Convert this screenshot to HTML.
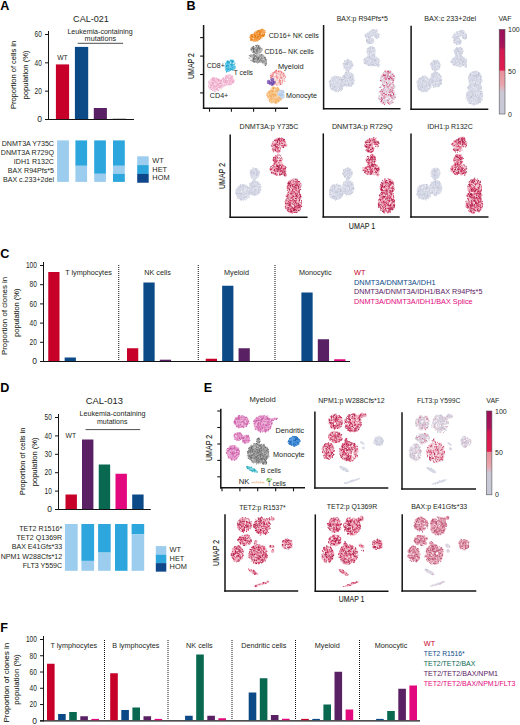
<!DOCTYPE html>
<html><head><meta charset="utf-8"><style>
html,body{margin:0;padding:0;background:#fff;}
svg{display:block;}
text{font-family:"Liberation Sans", sans-serif;}
</style></head><body>
<svg width="520" height="725" viewBox="0 0 520 725">
<defs><linearGradient id="vafg" x1="0" y1="0" x2="0" y2="1">
<stop offset="0" stop-color="#9a0f58"/><stop offset="0.2" stop-color="#a8145a"/><stop offset="0.25" stop-color="#d41852"/>
<stop offset="0.48" stop-color="#e01c4e"/><stop offset="0.495" stop-color="#e8909c"/><stop offset="0.66" stop-color="#e8a6ae"/>
<stop offset="0.74" stop-color="#ccc8d6"/><stop offset="1" stop-color="#c6c9d8"/></linearGradient></defs>
<rect width="520" height="725" fill="#fff"/>
<ellipse cx="371.10" cy="33.70" rx="6.88" ry="3.16" fill="#d9dce8" transform="rotate(-28 371.10 33.70)"/>
<ellipse cx="376.90" cy="35.70" rx="2.60" ry="2.98" fill="#d9dce8"/>
<ellipse cx="370.10" cy="40.90" rx="4.09" ry="3.16" fill="#d9dce8"/>
<ellipse cx="369.10" cy="37.90" rx="2.42" ry="2.42" fill="#d9dce8"/>
<path d="M377.2 32.0h0M373.0 29.5h0M365.8 34.6h0M372.9 29.7h0M372.8 33.1h0M375.5 30.0h0M370.5 43.1h0M373.2 40.3h0M367.6 36.3h0M376.9 30.8h0M376.8 36.9h0M366.8 37.5h0M369.8 39.2h0M376.2 35.5h0M369.1 37.9h0M367.1 40.9h0M375.2 36.9h0M372.5 36.2h0M371.9 29.9h0M373.7 41.4h0M365.4 35.9h0M370.4 41.3h0M379.3 34.3h0M367.8 42.9h0M374.9 36.2h0M367.9 34.2h0M375.0 32.5h0M364.9 35.1h0M367.0 38.1h0M368.6 36.5h0M376.8 31.3h0M370.7 33.3h0M369.8 39.7h0M375.0 34.0h0M371.1 31.4h0M375.8 35.5h0M369.4 43.7h0M373.6 29.9h0M369.5 43.4h0M377.1 30.8h0M365.7 36.1h0M376.7 32.8h0M367.2 37.1h0M368.4 42.5h0M365.3 36.3h0M372.7 38.8h0M370.5 36.3h0M376.5 29.5h0M369.5 41.8h0M368.9 41.5h0M365.8 37.1h0M365.4 35.8h0M367.4 40.4h0M366.4 37.5h0" stroke="#c6c9da" stroke-width="1.0" stroke-linecap="round" fill="none"/>
<path d="M378.4 36.8h0M366.4 40.2h0M367.0 41.2h0M376.3 37.0h0M367.5 33.4h0M372.9 38.7h0M369.8 33.9h0M374.9 34.3h0M368.7 37.1h0M366.6 40.1h0M376.8 38.3h0M372.2 40.0h0" stroke="#b4b8cc" stroke-width="1.0" stroke-linecap="round" fill="none"/>
<path d="M367.1 38.2h0M367.3 37.0h0M376.7 31.1h0M373.0 41.3h0M376.6 32.6h0M365.9 37.9h0M368.8 31.8h0M367.2 33.8h0M374.9 34.0h0M374.3 40.1h0M377.0 37.2h0M372.5 38.8h0M370.7 39.7h0M368.1 32.3h0M370.5 33.8h0M374.2 40.3h0M367.5 38.1h0M376.0 29.3h0" stroke="#f4f4f8" stroke-width="1.0" stroke-linecap="round" fill="none"/>
<ellipse cx="371.10" cy="50.90" rx="4.65" ry="4.46" fill="#d9dce8"/>
<ellipse cx="371.60" cy="60.90" rx="7.91" ry="5.39" fill="#d9dce8"/>
<ellipse cx="371.10" cy="55.70" rx="3.72" ry="2.60" fill="#d9dce8"/>
<ellipse cx="378.10" cy="65.20" rx="1.40" ry="1.86" fill="#d9dce8"/>
<path d="M376.6 64.9h0M365.4 60.9h0M373.5 51.2h0M374.1 48.3h0M370.7 47.6h0M369.7 49.6h0M368.7 56.9h0M374.3 60.7h0M372.0 65.8h0M370.1 49.3h0M373.5 47.7h0M370.0 53.5h0M372.6 61.1h0M367.3 52.2h0M363.4 59.7h0M370.3 53.7h0M369.8 52.3h0M370.1 50.3h0M371.0 58.7h0M374.3 64.9h0M371.9 56.1h0M379.1 59.2h0M370.2 65.4h0M370.2 58.7h0M367.7 53.5h0M371.5 63.0h0M372.9 48.0h0M367.8 53.4h0M379.5 64.5h0M374.9 58.4h0M374.9 53.9h0M375.6 59.4h0M370.4 62.0h0M368.6 65.1h0M374.7 56.2h0M374.4 61.5h0M365.6 59.6h0M373.8 50.5h0M363.7 61.8h0M380.0 61.0h0M368.6 53.9h0M376.9 64.5h0M378.9 66.6h0M373.0 51.4h0M377.6 63.1h0M371.1 49.1h0M373.6 53.5h0M365.3 62.5h0M368.8 56.1h0M374.2 54.1h0M369.7 55.9h0M370.7 48.7h0M374.0 58.9h0M369.0 64.2h0M371.8 59.2h0M376.1 63.5h0M367.7 57.3h0M377.8 64.6h0M369.4 62.5h0M373.2 63.9h0M370.8 46.7h0M371.9 59.1h0M373.2 64.7h0M368.7 65.4h0M373.1 58.9h0M366.6 62.2h0M378.2 66.2h0M369.3 51.2h0M378.8 62.6h0M378.8 63.0h0M372.4 60.9h0M368.5 52.0h0M372.8 55.8h0M374.6 66.0h0M371.8 62.2h0M377.6 63.0h0M374.2 60.0h0M374.2 55.3h0M374.4 65.5h0M377.7 62.7h0M374.6 47.7h0M368.7 56.6h0M368.4 50.6h0M369.5 65.4h0M375.4 63.6h0" stroke="#c6c9da" stroke-width="1.0" stroke-linecap="round" fill="none"/>
<path d="M364.4 59.1h0M368.0 48.4h0M369.5 56.1h0M373.0 54.0h0M372.0 46.4h0M372.2 48.1h0M372.4 64.5h0M378.6 64.4h0M375.3 60.1h0M367.2 52.3h0M374.8 55.1h0M369.7 57.7h0M375.9 65.5h0M365.2 63.4h0M364.6 63.6h0M367.4 61.0h0M376.0 61.2h0M371.0 52.1h0M371.2 65.1h0" stroke="#b4b8cc" stroke-width="1.0" stroke-linecap="round" fill="none"/>
<path d="M366.7 48.8h0M370.7 53.2h0M367.9 52.3h0M375.0 64.3h0M374.0 52.1h0M372.2 53.5h0M368.1 53.8h0M373.2 49.9h0M367.4 59.6h0M378.9 64.3h0M370.7 60.8h0M369.3 62.5h0M371.9 46.6h0M371.4 49.7h0M368.3 50.5h0M377.4 63.1h0M368.2 53.0h0M375.7 58.0h0M373.3 53.5h0M375.1 52.9h0M371.0 65.7h0M371.2 49.0h0M377.2 61.7h0M370.0 55.0h0M364.1 62.2h0M370.6 55.7h0M363.9 60.9h0M368.5 55.9h0" stroke="#f4f4f8" stroke-width="1.0" stroke-linecap="round" fill="none"/>
<ellipse cx="348.10" cy="64.90" rx="5.02" ry="5.58" fill="#d9dce8"/>
<ellipse cx="347.60" cy="71.70" rx="1.40" ry="2.60" fill="#d9dce8"/>
<path d="M353.2 65.5h0M345.7 64.5h0M344.5 62.3h0M351.3 65.8h0M345.8 64.6h0M346.0 63.1h0M343.4 64.1h0M351.7 64.8h0M344.2 63.3h0M347.3 66.8h0M344.6 67.1h0M348.9 70.3h0M343.2 64.6h0M345.9 64.9h0M351.7 61.7h0M347.6 67.4h0M344.4 63.3h0M346.5 72.0h0M344.8 65.7h0M346.8 67.0h0M349.0 66.0h0M345.7 70.1h0M343.9 68.5h0M348.1 60.0h0M348.1 64.2h0M344.6 60.6h0M350.3 67.6h0M346.8 69.9h0M352.6 64.6h0M348.4 72.8h0M345.3 66.0h0M347.9 64.6h0M348.8 71.2h0M352.5 65.4h0M350.5 63.2h0" stroke="#c6c9da" stroke-width="1.0" stroke-linecap="round" fill="none"/>
<path d="M347.4 62.8h0M348.4 62.2h0M343.2 63.6h0M346.1 63.8h0M347.9 59.2h0M347.7 60.3h0M347.4 64.1h0" stroke="#b4b8cc" stroke-width="1.0" stroke-linecap="round" fill="none"/>
<path d="M344.9 62.8h0M351.3 68.1h0M352.4 66.4h0M343.1 64.5h0M350.9 69.5h0M345.6 66.1h0M348.6 65.1h0M347.7 66.4h0M348.3 59.6h0M352.4 62.2h0M343.5 62.6h0" stroke="#f4f4f8" stroke-width="1.0" stroke-linecap="round" fill="none"/>
<ellipse cx="336.60" cy="83.70" rx="7.44" ry="8.00" fill="#d9dce8"/>
<ellipse cx="348.40" cy="79.40" rx="6.14" ry="7.63" fill="#d9dce8"/>
<path d="M341.9 86.7h0M351.9 84.0h0M340.8 88.9h0M335.4 91.7h0M348.9 75.4h0M347.5 77.3h0M340.4 91.1h0M334.9 82.6h0M347.8 77.7h0M349.7 72.3h0M341.0 78.0h0M346.7 77.9h0M348.0 72.3h0M339.4 88.4h0M349.1 77.9h0M330.7 84.6h0M340.2 89.4h0M332.4 88.6h0M352.1 75.6h0M335.4 84.1h0M336.2 81.5h0M343.2 79.5h0M331.6 77.2h0M331.0 85.8h0M353.1 84.1h0M341.4 79.7h0M344.7 85.1h0M337.3 90.0h0M347.6 77.7h0M352.1 74.2h0M338.7 78.2h0M347.9 72.8h0M344.2 78.7h0M335.6 86.5h0M348.4 71.7h0M351.8 73.5h0M339.5 80.2h0M349.2 85.7h0M353.3 77.6h0M346.8 85.1h0M334.6 87.2h0M353.9 83.6h0M350.3 77.2h0M352.1 78.2h0M336.7 83.1h0M345.5 81.0h0M339.5 79.4h0M331.9 89.1h0M347.7 78.0h0M351.0 85.5h0M341.0 82.4h0M331.1 80.5h0M336.7 91.3h0M340.5 79.7h0M330.4 85.5h0M336.0 90.8h0M330.0 81.5h0M333.7 82.9h0M339.5 89.7h0M330.2 81.0h0M352.1 84.9h0M338.1 82.4h0M330.9 89.0h0M350.3 77.5h0M352.2 83.3h0M340.6 87.6h0M342.9 85.6h0M352.1 81.2h0M346.0 77.3h0M348.8 83.4h0M333.6 87.9h0M335.3 90.7h0M348.0 78.2h0M340.5 86.8h0M336.4 77.4h0M349.3 77.4h0M333.1 81.0h0M343.1 86.5h0M342.8 76.3h0M331.5 88.9h0M338.5 91.2h0M347.4 86.2h0M329.2 81.8h0M342.4 77.6h0M330.6 84.1h0M338.5 91.9h0M334.8 79.5h0M346.8 74.1h0M346.9 72.5h0M350.1 76.5h0M349.3 74.7h0M346.1 85.4h0M346.3 75.0h0M337.3 78.2h0M353.9 75.2h0M339.3 87.6h0M330.4 87.5h0M354.4 80.8h0M342.2 80.8h0M342.4 79.6h0M342.4 81.0h0M351.5 86.4h0M345.9 85.9h0M351.1 80.4h0M344.3 76.3h0M343.9 84.9h0M344.1 75.4h0M340.0 83.4h0M338.2 85.3h0M339.0 81.1h0M333.8 82.4h0M334.3 75.9h0M340.3 84.6h0M342.7 76.1h0M352.7 78.5h0M344.0 81.5h0M342.6 77.9h0M332.4 85.9h0M342.2 89.1h0M332.9 77.6h0" stroke="#c6c9da" stroke-width="1.0" stroke-linecap="round" fill="none"/>
<path d="M350.0 80.1h0M342.5 80.2h0M342.1 88.5h0M353.2 83.5h0M341.5 90.2h0M340.7 77.6h0M341.7 85.1h0M334.8 86.9h0M333.7 90.1h0M344.8 85.8h0M343.2 79.9h0M330.1 86.4h0M330.9 80.8h0M344.6 76.5h0M349.5 76.7h0M352.7 79.5h0M347.6 80.7h0M345.5 72.4h0M341.4 79.8h0M336.4 76.6h0M341.9 89.7h0M350.6 77.7h0M345.0 84.5h0M348.6 84.4h0M350.5 76.8h0M344.6 77.3h0" stroke="#b4b8cc" stroke-width="1.0" stroke-linecap="round" fill="none"/>
<path d="M334.9 82.1h0M349.5 72.0h0M342.5 78.3h0M345.3 86.0h0M352.8 85.2h0M332.9 82.5h0M339.6 82.4h0M335.9 91.9h0M338.6 84.8h0M339.3 80.7h0M347.6 86.8h0M338.0 77.9h0M336.7 76.1h0M340.3 78.3h0M339.8 82.3h0M331.3 87.1h0M331.7 77.4h0M347.7 72.2h0M336.2 79.4h0M350.7 71.9h0M335.9 84.6h0M349.0 81.0h0M349.2 76.4h0M348.4 74.6h0M337.5 89.8h0M330.1 79.9h0M343.5 80.7h0M347.5 77.3h0M341.5 89.4h0M332.7 90.0h0M334.5 82.5h0M336.9 81.1h0M346.8 82.9h0M349.6 73.4h0M347.9 79.8h0M353.4 78.7h0M331.7 81.1h0M338.4 88.4h0M329.8 87.3h0M347.4 86.5h0" stroke="#f4f4f8" stroke-width="1.0" stroke-linecap="round" fill="none"/>
<path d="M385.2 95.0h0M388.2 82.6h0M393.0 97.2h0M389.5 78.7h0M390.2 101.3h0M392.1 78.0h0M382.3 78.8h0M386.7 76.9h0M393.7 98.3h0M384.5 79.4h0M383.3 81.3h0M390.4 73.0h0M388.0 97.5h0M382.8 91.7h0M383.2 100.3h0M387.1 83.0h0M385.2 77.1h0M393.6 98.5h0M386.8 82.6h0M383.6 75.5h0M383.6 81.1h0M387.1 77.2h0M387.5 87.3h0M393.7 95.7h0M387.8 79.1h0M390.6 78.8h0M392.8 80.1h0M382.0 96.5h0M382.3 80.1h0M390.3 83.5h0M385.3 101.0h0M388.0 83.4h0M388.6 84.4h0M392.4 96.8h0M383.4 96.5h0M390.2 97.1h0M387.3 75.7h0M386.8 102.3h0M389.5 71.9h0M390.7 90.1h0M385.2 79.9h0M385.9 84.9h0M381.4 93.7h0M383.5 76.8h0M386.6 82.0h0M392.7 95.8h0M389.6 101.2h0M383.3 102.7h0M393.4 87.6h0M393.7 86.3h0M382.0 91.7h0M390.1 79.7h0M385.0 91.1h0M391.5 87.2h0M387.7 84.4h0M390.1 84.4h0M392.2 89.1h0M388.6 91.1h0M387.1 88.4h0M384.0 78.5h0M382.0 93.7h0M386.1 76.3h0M389.6 76.8h0M383.8 77.6h0M390.0 87.5h0M381.8 79.6h0M388.0 79.2h0M381.1 97.2h0M387.3 86.2h0M388.8 86.5h0M386.0 72.4h0M392.0 89.0h0M390.6 72.9h0M386.6 82.2h0M387.5 93.8h0M383.1 95.1h0M390.3 73.3h0M393.0 91.5h0M383.3 100.2h0M392.9 94.7h0M392.4 77.3h0M387.1 98.7h0M390.1 98.7h0M389.6 94.7h0M387.5 91.4h0M385.4 101.1h0M387.1 73.4h0M389.4 95.4h0M390.4 87.0h0M386.5 99.0h0M390.4 94.1h0M392.3 74.4h0M390.4 99.0h0M390.9 101.9h0M385.4 95.7h0M391.4 95.5h0M387.3 86.8h0M384.1 76.5h0M392.7 98.4h0M384.7 84.1h0M391.8 92.0h0M385.9 102.1h0M387.6 74.1h0M384.9 82.6h0M381.3 91.5h0M387.9 94.0h0M393.8 77.9h0M383.4 91.9h0M391.0 93.6h0M379.8 96.8h0M382.2 100.9h0M390.8 102.4h0M386.0 80.1h0M385.9 97.3h0M386.5 101.5h0M387.7 98.1h0M388.6 75.2h0M390.4 101.7h0M383.4 89.8h0M389.2 90.8h0M384.4 89.0h0M391.1 73.5h0M393.0 86.6h0M382.4 78.3h0M380.2 98.8h0M392.3 84.6h0M391.4 77.0h0" stroke="#e8d4e0" stroke-width="3.6" stroke-linecap="round" fill="none"/>
<path d="M383.6 72.6h0M388.1 88.5h0M389.5 99.4h0M393.6 81.9h0M385.5 75.2h0M388.6 83.5h0M390.7 80.5h0M384.4 92.7h0M380.5 78.1h0M388.1 93.2h0M386.2 84.1h0M378.9 93.9h0M390.8 78.5h0M387.7 98.9h0M383.6 77.6h0M394.0 94.4h0M391.7 74.8h0M381.1 86.1h0M389.1 78.8h0M393.9 95.5h0M386.5 82.7h0M385.1 73.3h0M392.5 100.4h0M383.7 76.5h0M382.9 85.0h0M389.2 79.2h0M391.6 95.7h0M391.7 102.9h0M392.3 83.4h0M392.4 79.7h0M383.2 85.2h0M393.3 94.7h0M385.9 91.6h0M386.1 83.5h0M394.5 87.7h0M385.1 79.9h0M379.5 99.3h0M390.6 87.4h0M386.8 77.3h0M384.1 100.9h0M385.5 83.7h0M381.8 96.9h0M380.7 77.3h0M382.8 84.8h0M388.6 96.2h0M386.7 93.5h0M388.6 72.5h0M386.7 77.2h0M387.4 99.7h0M390.8 72.9h0M383.5 102.2h0M379.7 91.9h0M394.0 93.8h0M389.6 71.2h0M383.0 78.2h0M382.5 93.1h0M385.8 89.4h0M383.6 97.9h0M386.1 100.6h0M380.8 101.4h0M393.0 80.6h0M381.3 76.4h0M384.9 84.1h0M391.7 94.3h0M392.8 97.2h0M385.2 82.1h0M384.8 88.3h0M386.7 89.8h0M388.2 76.6h0M388.4 90.3h0M390.4 85.6h0M382.8 76.4h0M395.1 94.5h0M382.8 80.5h0M387.0 84.1h0M385.5 72.8h0M388.6 83.1h0M388.9 88.8h0M384.8 95.4h0M382.5 82.6h0M393.2 95.0h0M381.4 81.6h0M387.4 75.4h0M391.6 91.6h0M384.5 81.4h0M381.2 76.6h0M388.4 88.9h0M393.5 98.0h0M391.4 90.2h0M382.1 85.3h0M394.5 97.3h0M391.7 100.9h0M393.4 78.8h0M388.8 90.1h0M393.3 98.1h0M394.6 86.3h0M394.0 85.3h0M386.0 87.2h0M388.9 70.8h0M381.9 99.6h0M384.9 97.1h0M380.9 80.6h0M383.8 73.2h0M392.6 80.5h0M381.3 87.1h0M383.4 102.5h0M380.8 95.0h0M386.9 86.9h0M387.3 100.1h0M388.7 101.4h0M389.8 95.3h0M387.6 73.8h0M388.6 100.7h0M382.5 100.1h0M381.9 97.4h0M387.2 100.5h0M384.5 75.1h0M383.1 76.6h0M392.1 102.8h0M387.9 89.2h0M388.3 94.3h0M393.3 98.8h0M386.0 87.5h0M386.4 75.6h0M379.0 98.7h0M385.9 75.9h0M385.7 89.9h0M394.9 96.5h0M385.2 90.4h0M385.9 90.6h0M390.4 102.2h0M384.4 83.7h0M381.2 98.8h0M389.4 97.5h0M389.9 77.6h0M387.7 71.2h0M389.8 91.0h0M389.8 71.3h0M387.9 82.6h0M387.5 94.7h0M386.9 101.1h0M380.7 86.9h0M390.8 75.9h0M380.3 87.0h0M387.7 100.5h0M389.7 78.1h0M383.8 99.1h0M380.7 80.8h0M383.7 91.0h0M391.1 75.3h0M385.8 100.1h0M390.0 100.1h0M393.7 88.3h0M382.8 81.0h0M387.6 101.6h0M382.9 97.5h0M382.5 78.2h0M392.9 84.5h0M389.3 72.9h0M383.5 88.2h0M393.0 73.4h0" stroke="#c4c7da" stroke-width="1.0" stroke-linecap="round" fill="none"/>
<path d="M392.5 92.2h0M382.0 76.1h0M390.2 89.7h0M384.1 98.2h0M387.9 102.5h0M384.1 85.4h0M393.3 80.7h0M392.0 97.3h0M390.0 91.0h0M394.0 75.9h0M389.7 104.1h0M380.6 80.6h0M385.1 75.7h0M381.0 100.1h0M387.3 84.2h0M385.3 94.5h0M390.9 83.9h0M383.3 76.1h0M388.7 103.4h0M388.5 71.7h0M386.2 79.2h0M390.4 101.7h0M388.7 94.7h0M388.0 71.3h0M383.9 95.8h0M381.5 98.1h0M389.2 92.4h0M383.6 74.7h0M390.7 96.1h0M382.8 84.2h0M393.7 75.7h0M390.7 77.6h0M380.0 87.5h0M381.7 89.9h0M385.7 79.1h0M393.0 79.1h0M388.2 71.2h0M394.0 76.3h0M381.8 94.2h0M390.1 94.7h0M388.8 78.8h0M391.9 89.7h0M381.6 100.3h0M389.8 78.6h0M384.2 93.3h0M389.7 85.0h0M390.2 72.0h0M390.6 95.2h0M390.9 91.9h0M384.0 87.6h0M385.7 74.9h0M392.9 74.5h0M382.9 96.0h0M392.1 78.3h0M382.4 99.0h0M384.0 75.5h0M383.4 102.7h0M388.0 86.9h0M388.2 73.7h0M388.3 94.8h0M382.6 91.3h0M385.1 71.6h0M386.4 82.5h0M392.9 82.5h0M383.9 85.7h0M388.9 74.9h0M383.8 93.5h0M395.2 97.3h0M384.1 86.9h0M392.2 90.6h0M387.7 71.9h0M381.9 94.3h0M388.0 86.7h0M388.1 75.6h0M380.8 91.5h0M387.7 77.0h0M392.3 98.2h0M389.9 72.3h0M384.4 104.5h0M386.6 94.8h0M381.0 101.9h0M391.6 78.2h0M385.7 78.6h0M384.8 85.9h0M381.7 101.1h0M389.7 103.3h0M389.3 76.5h0M388.0 100.4h0M393.0 102.2h0M392.0 87.9h0M384.4 75.2h0M389.2 79.2h0M386.3 78.4h0M386.8 86.1h0M390.2 76.9h0M388.7 78.5h0M385.2 77.7h0M393.1 87.9h0M393.5 93.4h0M391.7 95.8h0M393.4 94.4h0" stroke="#c8164e" stroke-width="1.0" stroke-linecap="round" fill="none"/>
<path d="M391.9 91.5h0M384.8 99.1h0M380.2 99.8h0M393.3 86.8h0M388.8 95.0h0M392.8 79.9h0M385.3 96.9h0M390.5 71.8h0M385.1 77.8h0M386.1 83.6h0M384.5 97.2h0M386.6 92.0h0M381.5 80.6h0M386.4 91.0h0M385.7 97.2h0M384.5 78.2h0M383.3 86.5h0M393.6 95.9h0M394.4 92.3h0M387.4 100.4h0M390.3 91.3h0M393.5 84.6h0M385.6 98.0h0M385.8 76.8h0M389.3 73.0h0M379.6 91.7h0M387.7 74.0h0M385.4 70.4h0M393.7 99.7h0M382.3 92.7h0M387.3 89.4h0M388.4 95.5h0M382.0 95.9h0M383.6 89.8h0M384.1 81.8h0M389.3 86.9h0M390.6 82.4h0M391.1 92.3h0M392.2 80.4h0M386.9 72.4h0M383.6 87.5h0M391.5 79.7h0M385.2 96.2h0M384.6 81.5h0M391.7 87.4h0M393.5 85.2h0M388.0 94.9h0M384.7 104.0h0M381.4 75.6h0M382.2 103.3h0M383.9 103.1h0M384.8 71.3h0M392.4 95.4h0M388.6 89.2h0M390.8 75.9h0M384.1 83.7h0M380.0 91.8h0M388.0 75.2h0M384.7 76.8h0M392.0 76.3h0M378.9 98.5h0M384.5 96.1h0M391.1 100.4h0M384.2 98.0h0M387.4 98.7h0M382.9 73.7h0M389.7 102.0h0M383.4 89.4h0M388.6 72.7h0" stroke="#e890a8" stroke-width="1.0" stroke-linecap="round" fill="none"/>
<path d="M389.3 97.4h0M384.0 84.4h0M389.0 76.1h0M388.1 84.9h0M392.3 72.9h0M390.5 99.2h0M385.1 84.0h0M389.6 87.3h0M387.1 92.3h0M388.5 93.4h0M382.3 96.5h0M386.0 78.7h0M380.7 96.3h0M391.3 72.7h0M389.4 103.2h0M386.6 102.0h0M381.3 94.3h0M389.7 74.6h0M383.5 95.0h0M387.6 94.5h0M387.1 98.9h0M388.8 90.0h0M393.3 99.9h0M389.7 100.5h0M387.6 98.5h0M384.4 84.6h0M390.5 101.8h0M393.7 100.7h0M389.8 102.0h0M383.0 81.2h0M386.6 98.9h0M394.3 92.0h0M390.6 100.3h0M380.4 100.3h0M392.8 97.8h0M391.5 85.3h0M392.3 94.5h0M385.9 89.0h0M393.8 77.5h0M383.9 99.6h0M385.8 95.9h0M380.3 94.8h0M386.8 103.4h0M385.6 83.2h0M383.4 76.9h0M389.5 75.4h0M383.6 87.5h0M393.7 77.4h0M391.1 83.1h0M383.8 83.4h0M382.6 78.1h0M381.7 76.1h0M391.2 89.7h0M380.8 84.7h0M385.0 86.9h0M391.8 99.4h0M393.1 87.4h0M393.6 75.0h0M386.9 86.6h0M386.3 90.1h0M385.3 99.0h0M387.4 89.0h0M385.9 98.0h0M387.4 81.9h0M379.6 93.8h0M389.1 74.4h0M388.1 96.8h0M389.0 71.0h0M390.8 81.3h0" stroke="#fff" stroke-width="1.0" stroke-linecap="round" fill="none"/>
<ellipse cx="458.60" cy="34.20" rx="6.88" ry="3.16" fill="#d9dce8" transform="rotate(-28 458.60 34.20)"/>
<ellipse cx="464.40" cy="36.20" rx="2.60" ry="2.98" fill="#d9dce8"/>
<ellipse cx="457.60" cy="41.40" rx="4.09" ry="3.16" fill="#d9dce8"/>
<ellipse cx="456.60" cy="38.40" rx="2.42" ry="2.42" fill="#d9dce8"/>
<path d="M465.6 33.5h0M459.9 43.8h0M456.5 32.0h0M466.5 35.7h0M465.4 37.8h0M463.7 35.0h0M461.9 30.2h0M453.6 41.9h0M460.1 42.5h0M463.2 36.7h0M453.6 40.1h0M460.2 31.6h0M455.3 38.8h0M454.9 39.0h0M458.2 42.3h0M455.9 42.7h0M459.9 31.1h0M463.4 32.4h0M466.5 35.0h0M456.4 37.9h0M458.4 36.3h0M453.3 37.9h0M457.2 37.0h0M464.7 32.9h0M462.3 32.6h0M456.7 32.9h0M460.0 43.7h0M458.1 38.3h0M456.0 43.4h0M457.8 43.9h0M460.3 31.0h0M454.5 42.6h0M454.9 33.4h0M463.4 37.7h0M461.6 41.5h0M457.9 36.5h0M463.5 38.4h0M460.0 43.1h0M465.2 39.2h0M456.0 42.7h0M457.3 41.6h0M459.2 44.1h0M465.8 37.8h0M457.7 33.4h0M457.8 43.6h0M462.9 37.1h0M459.2 38.6h0M464.9 38.7h0M456.6 36.6h0M466.2 38.5h0M460.6 31.7h0M458.1 40.1h0M462.0 30.5h0M465.9 33.7h0" stroke="#c6c9da" stroke-width="1.0" stroke-linecap="round" fill="none"/>
<path d="M459.9 41.2h0M456.6 44.6h0M454.8 40.1h0M454.8 37.8h0M463.5 33.2h0M466.3 37.3h0M459.1 38.6h0M460.2 41.2h0M454.3 40.7h0M452.3 37.2h0M457.9 41.3h0M463.2 36.8h0" stroke="#b4b8cc" stroke-width="1.0" stroke-linecap="round" fill="none"/>
<path d="M463.9 34.5h0M456.6 35.4h0M459.1 34.1h0M458.2 32.5h0M455.4 43.4h0M452.7 36.1h0M457.6 43.1h0M456.2 33.3h0M455.4 33.5h0M464.5 33.2h0M463.8 36.3h0M458.5 39.9h0M455.3 32.6h0M454.4 41.5h0M460.2 39.6h0M457.7 40.2h0M459.6 30.6h0M461.8 41.7h0" stroke="#f4f4f8" stroke-width="1.0" stroke-linecap="round" fill="none"/>
<ellipse cx="458.60" cy="51.40" rx="4.65" ry="4.46" fill="#d9dce8"/>
<ellipse cx="459.10" cy="61.40" rx="7.91" ry="5.39" fill="#d9dce8"/>
<ellipse cx="458.60" cy="56.20" rx="3.72" ry="2.60" fill="#d9dce8"/>
<ellipse cx="465.60" cy="65.70" rx="1.40" ry="1.86" fill="#d9dce8"/>
<path d="M456.9 47.5h0M459.0 49.3h0M463.2 63.3h0M463.0 51.0h0M458.7 50.7h0M464.6 62.7h0M461.0 57.1h0M460.2 58.3h0M456.9 59.1h0M462.8 64.4h0M459.2 60.7h0M455.7 51.8h0M464.4 60.6h0M456.2 52.6h0M462.5 62.5h0M460.2 63.3h0M462.5 56.8h0M463.4 58.0h0M452.8 62.4h0M459.2 48.5h0M457.0 51.4h0M455.0 58.3h0M461.4 49.6h0M453.2 58.5h0M460.5 55.1h0M455.8 63.9h0M462.1 61.8h0M461.8 61.3h0M457.9 58.6h0M459.2 56.4h0M461.1 59.4h0M460.7 47.8h0M461.6 61.0h0M465.8 66.6h0M461.8 59.8h0M463.3 51.3h0M451.0 62.5h0M457.3 55.9h0M460.2 56.0h0M466.8 59.4h0M455.9 54.3h0M455.0 53.2h0M451.9 61.3h0M459.9 66.1h0M451.3 61.2h0M466.6 67.1h0M458.9 59.5h0M456.6 62.6h0M457.0 53.9h0M460.0 51.1h0M461.3 53.2h0M459.2 62.7h0M454.5 63.2h0M456.5 58.1h0M462.5 61.6h0M453.9 65.3h0M459.8 64.1h0M466.5 64.6h0M462.6 61.2h0M465.4 63.4h0M456.0 60.7h0M458.4 61.8h0M459.3 56.9h0M453.9 50.4h0M459.8 56.0h0M459.4 63.6h0M459.3 59.8h0M460.9 63.4h0M460.9 48.1h0M459.4 64.1h0M466.2 62.1h0M452.4 59.4h0M465.9 61.1h0M465.9 61.2h0M461.0 59.4h0M458.6 51.8h0M454.3 50.7h0M460.8 66.5h0M458.0 60.9h0M459.0 60.2h0M462.1 61.4h0M460.5 60.8h0M455.1 63.4h0M463.3 60.6h0M456.6 54.8h0" stroke="#c6c9da" stroke-width="1.0" stroke-linecap="round" fill="none"/>
<path d="M459.9 66.8h0M460.5 47.3h0M463.6 62.2h0M453.3 64.7h0M461.2 49.0h0M457.8 53.4h0M458.8 51.8h0M461.8 53.4h0M455.9 61.3h0M454.7 64.8h0M457.7 50.0h0M459.8 53.3h0M458.0 56.1h0M453.7 65.0h0M463.4 65.0h0M462.2 48.8h0M456.1 49.1h0M457.2 48.7h0M450.9 61.5h0" stroke="#b4b8cc" stroke-width="1.0" stroke-linecap="round" fill="none"/>
<path d="M458.8 57.7h0M465.7 58.4h0M457.6 53.3h0M459.2 60.4h0M456.4 61.2h0M451.1 60.6h0M460.4 65.7h0M463.3 51.0h0M451.9 63.8h0M454.7 65.2h0M460.0 65.6h0M459.2 56.4h0M461.7 50.3h0M458.3 54.8h0M453.8 63.8h0M458.1 63.4h0M458.4 47.3h0M455.1 48.9h0M460.1 48.7h0M460.6 65.2h0M465.2 60.9h0M459.9 46.9h0M453.7 65.8h0M461.5 62.2h0M458.8 55.8h0M463.8 63.4h0M458.1 52.4h0M452.1 58.5h0" stroke="#f4f4f8" stroke-width="1.0" stroke-linecap="round" fill="none"/>
<ellipse cx="435.60" cy="65.40" rx="5.02" ry="5.58" fill="#d9dce8"/>
<ellipse cx="435.10" cy="72.20" rx="1.40" ry="2.60" fill="#d9dce8"/>
<path d="M438.5 61.2h0M435.0 64.5h0M430.6 63.9h0M437.2 62.8h0M434.6 61.4h0M434.5 64.9h0M434.6 70.7h0M432.8 65.2h0M437.8 65.5h0M438.6 61.9h0M432.6 65.3h0M437.7 62.1h0M434.7 69.6h0M433.4 60.7h0M432.3 65.0h0M432.2 67.7h0M438.8 69.4h0M434.4 63.5h0M433.7 60.0h0M433.9 73.3h0M437.2 66.1h0M436.3 62.0h0M432.6 69.3h0M435.9 62.0h0M436.7 68.1h0M436.7 69.8h0M437.6 60.3h0M435.1 62.9h0M438.3 63.5h0M436.2 68.2h0M435.4 61.2h0M440.7 64.9h0M437.0 63.7h0M430.4 64.8h0M436.8 60.7h0" stroke="#c6c9da" stroke-width="1.0" stroke-linecap="round" fill="none"/>
<path d="M439.0 63.3h0M431.5 63.0h0M432.3 69.8h0M434.8 73.5h0M439.3 66.9h0M435.3 67.3h0M434.8 61.9h0" stroke="#b4b8cc" stroke-width="1.0" stroke-linecap="round" fill="none"/>
<path d="M434.2 72.3h0M436.5 67.8h0M436.1 60.1h0M436.3 72.9h0M435.8 65.6h0M437.8 61.9h0M436.9 67.2h0M439.0 69.3h0M437.8 63.9h0M440.5 65.0h0M437.0 64.7h0" stroke="#f4f4f8" stroke-width="1.0" stroke-linecap="round" fill="none"/>
<ellipse cx="424.10" cy="84.20" rx="7.44" ry="8.00" fill="#d9dce8"/>
<ellipse cx="435.90" cy="79.90" rx="6.14" ry="7.63" fill="#d9dce8"/>
<path d="M422.7 86.9h0M421.0 78.4h0M430.3 79.2h0M427.0 90.6h0M431.1 79.2h0M429.6 86.1h0M425.5 87.5h0M422.8 76.6h0M432.0 75.6h0M436.4 73.2h0M419.0 84.9h0M433.1 77.7h0M419.9 89.5h0M433.2 81.7h0M419.5 78.8h0M433.1 74.9h0M427.1 83.0h0M422.6 84.4h0M436.8 80.9h0M435.4 85.0h0M436.0 82.8h0M437.0 86.0h0M425.1 81.4h0M423.9 88.5h0M438.4 78.4h0M437.8 77.3h0M425.5 75.9h0M430.7 78.3h0M441.1 76.4h0M421.8 86.2h0M434.9 74.9h0M432.6 79.5h0M432.9 80.6h0M418.2 89.5h0M419.6 89.3h0M424.3 86.1h0M427.3 82.0h0M422.8 77.8h0M420.0 88.3h0M437.9 77.0h0M421.3 89.0h0M440.2 83.1h0M431.2 87.1h0M423.7 78.3h0M435.7 72.2h0M419.2 87.6h0M429.1 86.6h0M425.7 91.0h0M424.1 84.1h0M431.7 77.4h0M423.7 91.8h0M436.2 83.7h0M422.9 90.2h0M432.1 73.7h0M424.7 76.8h0M433.4 80.9h0M439.8 80.3h0M419.7 85.4h0M439.0 80.9h0M429.3 85.1h0M433.0 73.1h0M441.0 84.2h0M423.2 84.1h0M422.5 82.7h0M438.9 84.4h0M432.6 81.2h0M419.7 79.1h0M422.7 76.4h0M421.5 85.8h0M426.0 77.0h0M424.9 89.4h0M419.8 90.0h0M432.7 81.8h0M439.1 84.8h0M430.8 84.6h0M420.9 78.8h0M418.5 87.6h0M440.7 84.0h0M434.3 76.4h0M418.6 87.1h0M440.4 76.3h0M439.6 80.6h0M439.1 86.3h0M423.2 83.9h0M422.3 80.4h0M418.3 87.3h0M428.6 81.7h0M427.1 92.0h0M431.9 74.6h0M435.1 76.9h0M431.2 74.9h0M434.9 76.3h0M431.5 74.1h0M421.5 81.1h0M435.8 81.6h0M440.9 83.4h0M423.0 76.1h0M429.7 80.1h0M421.2 91.7h0M435.9 74.7h0M440.7 78.1h0M438.4 86.5h0M421.1 78.9h0M425.1 86.4h0M429.9 83.1h0M428.8 85.1h0M431.5 74.9h0M418.5 78.7h0M424.6 77.0h0M433.6 85.2h0M431.3 76.9h0M436.9 85.5h0M428.7 83.4h0M424.0 79.9h0M429.6 84.5h0M429.8 81.4h0M418.5 88.5h0M420.6 81.7h0M431.4 80.9h0M424.5 82.1h0" stroke="#c6c9da" stroke-width="1.0" stroke-linecap="round" fill="none"/>
<path d="M417.9 80.5h0M423.3 84.1h0M433.0 75.3h0M437.2 72.5h0M441.6 80.3h0M441.6 79.8h0M433.5 77.3h0M440.5 78.5h0M441.5 83.4h0M426.4 85.4h0M422.2 82.0h0M425.1 76.1h0M418.3 82.4h0M440.6 80.9h0M420.6 87.2h0M416.8 81.9h0M429.4 88.6h0M433.5 87.4h0M432.0 82.6h0M423.2 83.9h0M430.0 85.8h0M423.5 80.9h0M422.3 87.6h0M439.3 74.1h0M439.5 75.5h0M434.2 73.1h0" stroke="#b4b8cc" stroke-width="1.0" stroke-linecap="round" fill="none"/>
<path d="M423.6 83.8h0M438.5 77.3h0M428.5 86.6h0M435.3 75.8h0M425.0 84.1h0M442.2 79.4h0M430.8 78.0h0M417.3 88.0h0M423.0 88.9h0M425.3 78.9h0M434.6 82.6h0M442.2 80.4h0M438.6 77.1h0M423.8 84.1h0M431.6 77.0h0M425.8 79.2h0M427.9 81.4h0M425.1 75.9h0M422.2 82.2h0M441.4 78.0h0M424.7 76.8h0M417.8 81.7h0M428.4 87.3h0M436.8 86.0h0M431.2 85.3h0M439.6 76.2h0M416.6 86.8h0M419.9 87.5h0M427.6 91.4h0M434.3 78.5h0M417.9 81.0h0M436.6 82.8h0M432.1 84.0h0M417.3 84.1h0M440.8 78.2h0M434.5 78.5h0M421.4 80.8h0M431.9 74.9h0M418.3 78.7h0M437.7 83.2h0" stroke="#f4f4f8" stroke-width="1.0" stroke-linecap="round" fill="none"/>
<ellipse cx="475.10" cy="79.20" rx="6.79" ry="8.37" fill="#d9dce8"/>
<ellipse cx="474.40" cy="96.20" rx="8.28" ry="8.74" fill="#d9dce8"/>
<ellipse cx="474.70" cy="87.70" rx="7.25" ry="4.65" fill="#d9dce8"/>
<path d="M477.7 100.3h0M479.0 98.0h0M481.9 92.1h0M478.9 74.5h0M469.8 93.5h0M478.3 74.8h0M482.6 96.6h0M481.9 89.4h0M475.8 76.0h0M472.6 93.5h0M468.6 98.9h0M480.7 77.2h0M469.2 84.6h0M477.2 95.1h0M474.5 85.5h0M470.8 73.2h0M473.2 76.1h0M474.8 104.2h0M474.7 96.2h0M466.5 94.0h0M473.3 78.9h0M479.8 82.4h0M468.8 97.4h0M479.1 90.0h0M480.8 79.7h0M479.0 102.5h0M469.2 97.3h0M472.5 98.8h0M470.5 98.2h0M469.2 92.5h0M476.0 77.3h0M482.5 93.4h0M482.4 96.0h0M472.2 101.7h0M477.8 88.0h0M477.1 76.9h0M475.4 86.3h0M472.5 79.1h0M481.0 93.6h0M471.4 90.1h0M470.6 92.8h0M480.3 91.1h0M468.3 95.2h0M482.2 99.5h0M478.0 85.8h0M466.7 93.3h0M471.2 72.2h0M467.6 88.1h0M474.1 103.9h0M469.0 95.8h0M473.9 72.4h0M467.5 93.9h0M472.3 91.9h0M477.1 70.9h0M472.3 81.1h0M481.9 82.0h0M469.8 75.7h0M468.9 88.5h0M472.4 72.9h0M472.8 91.9h0M471.8 90.1h0M475.0 96.6h0M479.2 76.1h0M480.0 99.8h0M478.4 87.1h0M475.0 85.6h0M470.2 91.5h0M472.5 76.9h0M475.8 102.9h0M477.7 71.9h0M472.3 101.2h0M469.9 87.1h0M475.0 94.3h0M473.6 100.4h0M472.9 94.0h0M468.2 95.4h0M478.8 74.4h0M479.7 99.3h0M479.2 72.9h0M469.7 80.4h0M480.2 100.1h0M479.5 102.0h0M478.9 96.0h0M478.8 90.9h0M480.4 77.4h0M470.9 94.0h0M475.8 100.1h0M472.9 96.1h0M474.4 78.5h0M482.7 95.0h0M469.3 100.4h0M478.7 73.2h0M477.8 74.7h0M471.1 77.0h0M468.9 103.0h0M471.5 79.8h0M480.5 84.4h0M479.9 99.0h0M471.5 95.5h0M474.6 85.7h0M481.2 100.6h0M480.7 102.0h0M469.0 82.0h0M472.8 85.7h0M475.7 87.3h0M469.5 74.0h0M476.7 88.6h0M476.8 75.1h0M482.3 100.0h0M481.8 91.5h0M473.1 94.4h0M466.8 94.7h0M476.6 91.0h0M472.8 79.0h0M466.1 98.1h0M480.7 86.1h0M471.1 96.6h0M475.1 83.0h0M474.0 91.8h0M468.0 94.7h0M470.3 86.8h0M480.2 80.9h0M477.4 101.3h0M470.9 84.1h0M478.1 92.2h0M478.5 96.6h0M476.0 80.8h0M479.1 88.2h0M470.7 83.3h0M472.6 84.3h0M478.9 97.3h0M466.2 96.0h0M474.7 84.6h0M472.7 101.8h0M482.2 80.3h0M480.7 91.3h0M473.2 104.7h0M474.0 80.5h0M470.1 85.9h0M480.0 82.2h0M475.8 87.2h0M478.0 103.0h0M473.5 103.5h0M468.8 76.1h0M475.2 71.6h0M474.5 90.0h0M468.4 77.9h0M471.5 99.1h0M473.5 105.1h0M477.6 89.2h0M475.2 74.9h0M471.1 85.1h0M480.5 83.7h0M478.9 101.6h0M472.1 74.5h0M470.3 91.9h0M481.0 77.3h0M480.3 78.0h0M473.8 88.3h0M470.8 75.3h0M470.1 74.4h0M470.7 73.8h0M467.8 95.8h0M467.1 100.4h0M473.1 79.1h0M466.8 93.0h0M477.0 79.7h0M468.6 86.9h0M479.0 85.1h0M477.1 76.0h0M476.2 78.6h0M471.0 96.4h0M476.5 75.8h0M469.8 103.4h0M477.1 85.0h0M470.3 98.9h0M467.7 94.5h0M471.4 75.8h0M479.8 73.5h0M471.8 95.7h0M477.1 97.7h0M480.7 93.6h0M471.9 91.3h0M477.0 84.3h0" stroke="#c6c9da" stroke-width="1.0" stroke-linecap="round" fill="none"/>
<path d="M481.2 76.2h0M468.6 92.3h0M477.6 97.2h0M471.6 100.8h0M476.9 89.0h0M467.9 87.7h0M473.9 104.5h0M475.7 95.3h0M480.2 102.0h0M468.8 77.7h0M480.2 79.7h0M474.7 88.6h0M476.6 96.1h0M473.9 75.8h0M470.5 103.5h0M471.4 96.7h0M478.3 99.0h0M475.2 83.2h0M480.7 81.2h0M482.0 91.7h0M470.6 75.0h0M474.1 81.1h0M480.7 85.2h0M481.6 86.9h0M474.9 76.1h0M478.4 85.7h0M474.9 91.1h0M478.4 75.0h0M480.9 88.7h0M477.8 74.8h0M472.6 80.6h0M471.5 96.1h0M478.4 73.6h0M480.6 94.2h0M478.0 101.8h0M476.6 76.2h0M475.9 84.5h0M471.5 97.1h0M469.5 93.6h0M473.1 95.5h0" stroke="#b4b8cc" stroke-width="1.0" stroke-linecap="round" fill="none"/>
<path d="M469.2 90.7h0M475.0 103.4h0M467.6 101.1h0M481.1 100.5h0M466.1 93.5h0M471.7 73.6h0M474.1 90.8h0M474.3 88.6h0M472.8 102.4h0M471.8 82.1h0M479.2 92.4h0M476.8 88.5h0M473.0 78.8h0M476.4 83.7h0M477.3 96.6h0M476.7 89.7h0M473.2 80.8h0M472.1 84.3h0M476.4 94.9h0M478.6 93.4h0M479.3 77.9h0M482.3 100.1h0M466.4 99.7h0M466.1 98.1h0M473.2 86.6h0M470.7 94.0h0M473.4 87.7h0M475.2 89.0h0M471.1 95.7h0M474.2 81.5h0M474.4 95.7h0M477.9 86.3h0M474.2 82.3h0M473.9 104.7h0M481.0 85.4h0M477.0 98.8h0M469.6 92.6h0M467.7 96.9h0M478.6 82.4h0M476.5 92.3h0M475.4 87.6h0M480.9 89.7h0M477.0 71.3h0M471.7 89.0h0M477.7 101.9h0M472.8 101.9h0M468.6 82.7h0M468.8 93.5h0M467.8 88.8h0M474.1 101.7h0M480.1 85.4h0M470.4 100.0h0M471.7 76.1h0M474.7 105.3h0M477.6 73.7h0M472.0 99.6h0M468.2 94.0h0M473.0 73.7h0M480.0 80.5h0M471.5 73.0h0M472.1 100.5h0" stroke="#f4f4f8" stroke-width="1.0" stroke-linecap="round" fill="none"/>
<path d="M279.8 141.0h0M282.4 146.3h0M273.9 149.6h0M283.9 143.2h0M278.2 151.4h0M274.1 142.6h0M276.6 150.2h0M282.5 142.0h0M274.0 144.1h0M284.4 143.1h0M277.8 147.2h0M283.5 143.6h0M273.4 149.4h0M274.5 144.2h0M274.0 148.2h0M278.8 149.3h0M281.1 139.7h0M275.7 143.3h0M273.5 143.4h0M279.5 144.3h0M278.4 149.4h0M273.8 144.8h0M276.2 141.1h0M285.7 145.2h0M281.6 140.0h0M272.6 145.7h0M277.9 151.6h0M278.3 142.3h0M274.1 147.7h0M277.5 139.2h0M276.9 147.5h0M277.0 141.9h0M283.7 141.9h0M278.1 151.7h0M275.9 143.9h0M277.8 149.9h0M281.0 142.2h0" stroke="#f0b0c0" stroke-width="3.6" stroke-linecap="round" fill="none"/>
<path d="M272.5 146.0h0M272.3 143.7h0M284.3 139.6h0M273.3 149.6h0M278.2 145.3h0M281.0 139.4h0M280.8 139.1h0M275.9 149.4h0M279.7 143.9h0M275.2 143.6h0M282.5 145.7h0M276.2 146.5h0M283.1 140.3h0M273.7 151.8h0M281.4 143.2h0M279.3 138.8h0M278.1 146.2h0M277.9 151.6h0M277.9 141.3h0M277.0 142.2h0M276.6 150.9h0M275.7 144.8h0M277.1 139.6h0M277.0 140.5h0M277.3 148.3h0M282.0 140.9h0M279.6 139.3h0M275.3 147.8h0M281.2 145.4h0M281.4 140.5h0M284.2 145.6h0M280.1 151.1h0M276.0 143.2h0M275.4 140.8h0M285.2 145.5h0M273.2 149.2h0M273.2 150.7h0M279.8 141.4h0M274.0 144.8h0M283.2 145.0h0M282.6 143.5h0M273.2 141.7h0M272.4 143.8h0M279.4 151.0h0M278.6 138.5h0M277.9 149.0h0M284.3 141.4h0M275.3 150.8h0M276.5 143.7h0M276.8 146.5h0M278.6 147.1h0M280.4 140.9h0M274.8 140.3h0M271.6 145.8h0M272.7 145.1h0M280.3 147.9h0M278.7 147.8h0M272.6 144.9h0M280.9 141.8h0M285.2 142.0h0M279.8 140.9h0M277.2 146.2h0M281.0 140.0h0M273.9 149.8h0M279.2 146.9h0M283.4 139.8h0M275.1 145.6h0M275.7 144.9h0M277.3 150.0h0M283.6 140.9h0M279.3 150.0h0M283.1 139.1h0M276.9 144.3h0M272.5 145.0h0M284.7 145.4h0M280.3 138.9h0M277.7 140.5h0M278.8 150.8h0M281.6 138.1h0M276.9 140.4h0M279.3 142.6h0M276.7 147.5h0" stroke="#cc2452" stroke-width="1.0" stroke-linecap="round" fill="none"/>
<path d="M275.6 146.9h0M279.1 140.2h0M275.4 143.9h0M283.8 147.3h0M283.4 145.6h0M275.0 144.9h0M279.5 138.1h0M275.2 139.9h0M275.6 150.5h0M279.9 140.9h0M276.5 143.7h0M275.5 146.7h0M278.5 139.4h0M277.5 142.6h0M274.8 145.3h0M277.2 147.8h0M278.3 139.3h0M284.0 139.4h0M274.6 140.6h0M275.2 148.3h0M281.1 143.3h0M277.7 141.6h0M284.1 140.0h0M280.3 148.9h0M284.8 144.7h0M275.1 149.5h0M284.3 139.6h0M283.5 147.2h0M282.3 138.4h0M278.9 141.0h0M279.4 143.9h0M278.8 139.3h0M274.0 145.5h0M277.7 144.6h0M283.1 147.3h0M272.4 149.2h0" stroke="#9c1440" stroke-width="1.0" stroke-linecap="round" fill="none"/>
<path d="M279.8 149.1h0M278.9 141.6h0M272.9 149.9h0M276.7 150.0h0M280.9 142.9h0M272.7 144.0h0M274.2 141.6h0M280.5 140.0h0M276.9 143.8h0M283.3 144.9h0M275.1 147.9h0M275.7 143.1h0M272.7 145.4h0M274.1 142.0h0M279.5 149.1h0M278.4 146.5h0" stroke="#fff" stroke-width="1.0" stroke-linecap="round" fill="none"/>
<path d="M282.5 169.2h0M280.1 160.8h0M272.6 172.4h0M274.9 169.9h0M276.4 166.0h0M282.7 172.5h0M281.1 159.8h0M274.2 159.8h0M275.1 167.4h0M279.9 163.0h0M275.2 162.2h0M280.0 171.2h0M283.8 167.8h0M272.8 169.5h0M276.2 173.1h0M282.0 168.4h0M276.6 172.4h0M278.9 164.3h0M279.8 162.7h0M278.2 170.7h0M276.7 157.1h0M282.8 166.2h0M275.1 158.0h0M280.4 173.7h0M273.4 169.7h0M272.6 168.1h0M273.9 167.2h0M280.1 168.8h0M280.9 163.5h0M279.5 171.2h0M276.6 174.1h0M281.0 171.5h0M273.0 166.9h0M284.6 173.8h0M276.4 167.2h0M279.2 171.3h0M283.2 170.9h0M284.7 171.3h0M276.0 157.3h0M279.9 162.2h0M271.5 170.2h0M284.0 172.5h0M277.3 165.1h0M280.5 161.0h0M272.9 171.6h0M276.3 160.9h0M275.2 163.7h0M275.4 157.6h0M273.1 166.9h0M274.7 164.9h0M276.7 171.8h0M282.3 169.5h0M275.9 164.3h0M285.4 175.1h0M282.6 169.3h0M283.7 173.2h0M275.1 161.1h0M277.2 170.2h0M277.2 166.0h0" stroke="#f0b0c0" stroke-width="3.6" stroke-linecap="round" fill="none"/>
<path d="M281.2 160.2h0M276.9 160.0h0M280.1 171.7h0M275.0 163.9h0M270.4 169.7h0M274.5 173.8h0M280.0 171.0h0M273.1 160.1h0M285.1 168.0h0M275.7 162.1h0M278.2 167.3h0M277.3 157.4h0M279.0 174.0h0M276.7 157.1h0M276.7 168.8h0M281.5 171.9h0M278.2 162.6h0M277.3 160.7h0M273.6 157.9h0M273.7 166.0h0M284.7 170.0h0M279.8 169.2h0M274.9 162.1h0M270.8 167.7h0M274.6 169.7h0M276.4 161.3h0M277.4 168.6h0M281.9 167.8h0M281.8 170.1h0M277.9 171.9h0M273.6 165.5h0M284.1 166.1h0M278.4 167.8h0M280.4 174.8h0M276.4 161.7h0M271.4 172.7h0M277.6 165.5h0M285.2 171.1h0M277.1 166.0h0M280.5 160.7h0M284.0 168.5h0M281.7 167.0h0M277.4 166.1h0M273.4 160.2h0M280.3 171.1h0M274.5 169.4h0M281.2 167.1h0M281.4 166.6h0M275.7 173.6h0M272.5 165.7h0M276.5 168.4h0M273.3 170.8h0M281.9 166.2h0M273.6 172.3h0M283.7 168.6h0M280.1 168.7h0M275.0 166.7h0M278.4 169.1h0M273.9 165.2h0M273.3 166.2h0M279.7 155.5h0M279.2 166.6h0M276.9 157.2h0M276.5 164.3h0M276.9 164.6h0M275.9 162.0h0M276.9 164.8h0M274.2 165.7h0M272.9 171.0h0M277.8 174.9h0M279.2 155.1h0M282.8 165.8h0M282.0 158.8h0M280.2 168.3h0M281.7 168.5h0M270.1 168.8h0M280.9 165.0h0M282.7 172.8h0M278.8 165.3h0M275.7 158.8h0M282.3 169.3h0M282.1 174.4h0M279.7 165.8h0M276.3 161.9h0M277.4 154.9h0M281.9 171.1h0M281.3 157.4h0M282.5 171.3h0M276.5 166.0h0M274.3 165.0h0M280.8 158.6h0M270.3 169.0h0M274.5 161.2h0M279.1 174.3h0M282.7 164.8h0M276.4 157.5h0M285.3 168.6h0M271.8 168.8h0M280.3 174.6h0M275.1 159.6h0M281.5 167.6h0M278.7 170.9h0M277.2 166.3h0M275.7 160.4h0M276.5 175.1h0M279.4 157.8h0M276.0 170.0h0M285.1 173.9h0M273.6 157.6h0M270.2 169.7h0M285.0 169.0h0M272.2 172.9h0M279.6 171.7h0M276.5 166.3h0M275.8 168.3h0M279.3 160.5h0M274.7 157.7h0M281.5 170.4h0M278.8 170.4h0M275.8 171.3h0M284.7 175.7h0M283.5 169.6h0M275.4 155.8h0M283.6 172.3h0M280.1 171.1h0M284.7 174.7h0M271.5 169.5h0M275.1 161.0h0M276.0 157.4h0" stroke="#cc2452" stroke-width="1.0" stroke-linecap="round" fill="none"/>
<path d="M279.1 167.2h0M277.5 169.6h0M279.7 175.1h0M279.6 174.0h0M271.0 166.7h0M278.1 158.4h0M272.0 166.6h0M279.6 161.9h0M278.2 168.4h0M272.8 167.7h0M274.8 170.9h0M285.0 173.2h0M286.0 167.5h0M276.4 157.9h0M284.3 175.4h0M279.9 169.1h0M275.7 173.3h0M278.6 169.6h0M276.6 157.6h0M274.2 163.6h0M274.6 170.7h0M285.1 173.0h0M273.7 160.8h0M284.6 171.8h0M281.0 172.6h0M277.3 171.4h0M280.7 155.8h0M278.2 167.1h0M282.2 172.8h0M283.9 174.1h0M277.4 166.5h0M274.1 159.6h0M284.1 171.6h0M277.0 165.0h0M279.3 167.0h0M280.1 160.5h0M281.1 170.9h0M275.3 174.4h0M271.4 172.6h0M280.4 165.6h0M280.8 169.3h0M277.2 170.8h0M285.5 166.8h0M285.1 175.2h0M275.4 157.8h0M283.1 170.9h0M278.3 166.0h0M281.5 174.2h0M270.9 170.2h0M279.3 164.9h0M273.6 158.0h0M273.8 173.8h0M274.4 166.7h0M285.3 168.9h0M281.2 173.8h0M278.9 155.0h0" stroke="#9c1440" stroke-width="1.0" stroke-linecap="round" fill="none"/>
<path d="M280.2 172.9h0M275.6 165.8h0M281.8 169.6h0M276.9 164.1h0M281.5 159.2h0M279.8 161.7h0M282.3 161.1h0M271.0 170.5h0M279.1 171.2h0M274.1 165.5h0M277.8 172.7h0M273.6 171.4h0M276.6 157.7h0M272.5 166.5h0M279.5 155.1h0M271.8 167.5h0M281.0 163.2h0M278.1 164.7h0M281.3 172.3h0M272.8 171.0h0M278.4 174.3h0M278.4 173.5h0M274.2 166.1h0M272.2 170.9h0M278.7 174.2h0" stroke="#fff" stroke-width="1.0" stroke-linecap="round" fill="none"/>
<ellipse cx="254.70" cy="173.50" rx="5.02" ry="5.58" fill="#d9dce8"/>
<ellipse cx="254.20" cy="180.30" rx="1.40" ry="2.60" fill="#d9dce8"/>
<path d="M255.3 168.5h0M251.3 177.9h0M252.7 168.1h0M252.4 171.8h0M253.4 172.4h0M252.7 172.0h0M250.2 172.1h0M256.5 173.8h0M250.1 170.7h0M253.5 172.7h0M257.9 174.9h0M253.5 175.4h0M252.1 174.5h0M253.3 171.8h0M257.0 172.6h0M258.8 171.8h0M255.3 178.5h0M252.3 169.3h0M255.0 181.0h0M253.4 173.3h0M253.0 178.7h0M259.5 171.9h0M254.4 174.5h0M257.8 173.9h0M255.7 169.9h0M254.3 173.2h0M256.1 168.8h0M258.2 174.8h0M257.3 173.3h0M256.8 176.1h0M254.4 182.0h0M251.5 171.9h0M253.8 167.8h0M259.1 173.1h0M250.9 173.1h0" stroke="#c6c9da" stroke-width="1.0" stroke-linecap="round" fill="none"/>
<path d="M256.8 169.2h0M256.6 175.1h0M251.5 172.0h0M256.9 171.5h0M253.0 172.1h0M253.4 180.2h0M254.6 173.1h0" stroke="#b4b8cc" stroke-width="1.0" stroke-linecap="round" fill="none"/>
<path d="M252.2 168.5h0M255.1 172.9h0M259.0 175.0h0M253.5 177.0h0M254.1 175.3h0M252.9 179.2h0M254.9 177.3h0M259.5 175.5h0M249.7 175.3h0M253.0 171.2h0M257.3 176.4h0" stroke="#f4f4f8" stroke-width="1.0" stroke-linecap="round" fill="none"/>
<ellipse cx="243.20" cy="192.30" rx="7.44" ry="8.00" fill="#d9dce8"/>
<ellipse cx="255.00" cy="188.00" rx="6.14" ry="7.63" fill="#d9dce8"/>
<path d="M249.2 197.3h0M241.6 200.1h0M245.2 193.4h0M254.4 186.9h0M252.9 184.3h0M252.5 186.9h0M237.6 188.4h0M246.9 191.9h0M247.6 197.3h0M241.8 186.4h0M239.8 197.3h0M236.4 193.7h0M239.3 188.9h0M249.4 193.2h0M242.5 184.7h0M254.3 182.1h0M246.9 195.4h0M259.5 187.3h0M253.0 186.9h0M244.1 196.5h0M246.9 192.1h0M236.6 189.1h0M252.4 188.0h0M243.0 185.6h0M244.1 184.8h0M250.8 192.1h0M249.3 187.5h0M237.4 188.8h0M252.5 182.0h0M239.7 195.7h0M240.6 184.6h0M259.1 189.4h0M242.9 189.8h0M259.6 188.9h0M255.3 194.0h0M258.8 188.0h0M253.8 188.9h0M248.8 192.3h0M252.7 191.9h0M238.7 187.7h0M255.0 195.0h0M245.8 200.0h0M250.0 192.2h0M243.9 196.8h0M251.6 190.7h0M257.7 184.0h0M240.1 198.8h0M240.0 187.8h0M252.0 184.1h0M243.9 190.1h0M240.1 190.1h0M241.6 197.1h0M239.0 186.1h0M259.6 186.1h0M254.8 191.4h0M255.6 189.7h0M246.4 193.6h0M236.0 194.2h0M237.0 189.8h0M251.5 188.5h0M238.0 187.8h0M244.0 198.0h0M243.8 192.5h0M235.7 190.3h0M253.9 186.1h0M258.0 186.7h0M256.1 183.2h0M237.0 196.1h0M255.2 189.4h0M240.4 194.8h0M240.1 189.6h0M240.7 198.7h0M240.1 190.7h0M236.1 192.0h0M237.1 193.8h0M241.6 199.6h0M255.7 187.3h0M250.7 190.1h0M246.8 198.1h0M258.4 189.8h0M245.9 197.9h0M248.5 195.0h0M256.0 186.0h0M245.8 193.5h0M258.3 182.1h0M237.4 196.9h0M251.8 194.8h0M248.1 190.7h0M238.0 193.6h0M245.9 186.6h0M243.4 186.4h0M252.8 192.3h0M255.5 186.9h0M250.5 193.9h0M257.8 184.4h0M253.7 185.9h0M237.5 198.1h0M243.4 189.6h0M252.1 187.2h0M255.3 189.4h0M240.0 194.8h0M248.0 188.8h0M249.1 193.8h0M252.9 183.5h0M250.6 193.7h0M238.9 193.6h0M243.2 200.4h0M255.2 189.5h0M256.2 182.4h0M246.0 190.9h0M259.5 192.4h0M253.0 184.4h0M235.7 193.2h0M258.5 193.2h0M261.3 187.2h0M251.7 183.3h0M243.5 187.2h0M249.1 191.6h0M255.7 193.0h0M248.9 188.8h0" stroke="#c6c9da" stroke-width="1.0" stroke-linecap="round" fill="none"/>
<path d="M241.7 194.2h0M239.0 192.6h0M257.7 183.3h0M253.1 195.1h0M251.0 185.1h0M253.9 185.7h0M258.4 192.0h0M245.4 197.0h0M254.0 190.8h0M260.9 190.0h0M240.7 186.4h0M238.2 198.7h0M237.4 193.3h0M254.3 193.7h0M240.0 189.7h0M243.9 194.5h0M255.0 189.8h0M256.7 189.2h0M241.6 193.4h0M241.3 193.5h0M238.6 193.6h0M252.0 192.7h0M240.3 199.9h0M260.1 184.2h0M249.8 183.7h0M247.6 187.7h0" stroke="#b4b8cc" stroke-width="1.0" stroke-linecap="round" fill="none"/>
<path d="M245.0 190.6h0M245.3 188.8h0M237.0 187.7h0M256.4 188.6h0M259.7 188.4h0M258.3 182.1h0M254.8 183.6h0M247.6 197.3h0M241.1 191.6h0M250.2 182.7h0M244.4 189.4h0M253.1 189.3h0M237.8 187.9h0M254.8 188.2h0M259.0 185.8h0M244.2 195.5h0M238.0 194.8h0M246.0 199.4h0M243.1 193.3h0M256.6 181.1h0M253.0 184.7h0M247.5 194.9h0M246.3 192.3h0M257.6 189.0h0M247.0 188.9h0M244.9 191.0h0M256.3 183.7h0M255.3 188.3h0M259.1 183.1h0M239.0 198.3h0M241.6 190.8h0M248.5 195.9h0M253.4 190.5h0M245.9 195.2h0M260.2 192.6h0M240.1 189.4h0M246.8 198.0h0M248.4 189.9h0M238.3 192.6h0M245.6 198.8h0" stroke="#f4f4f8" stroke-width="1.0" stroke-linecap="round" fill="none"/>
<path d="M289.7 204.9h0M298.4 185.6h0M291.1 184.7h0M299.7 197.6h0M291.3 203.9h0M290.0 209.9h0M291.1 194.1h0M290.0 187.2h0M295.6 184.1h0M292.9 206.0h0M299.6 187.0h0M290.9 183.9h0M288.0 196.4h0M289.9 204.3h0M295.3 208.6h0M296.2 209.2h0M291.8 198.0h0M292.8 181.8h0M291.6 186.6h0M298.3 195.6h0M297.6 203.1h0M286.7 204.8h0M290.9 208.8h0M296.8 201.2h0M296.2 190.6h0M298.2 185.7h0M288.9 193.3h0M289.6 208.1h0M299.8 184.0h0M288.7 200.5h0M295.8 197.5h0M292.7 195.9h0M288.8 199.7h0M288.8 205.8h0M293.6 206.9h0M290.6 193.7h0M288.7 204.0h0M291.5 188.6h0M289.3 185.8h0M298.4 186.6h0M295.8 205.8h0M297.3 186.5h0M290.5 191.4h0M298.4 195.8h0M291.8 185.2h0M289.9 211.2h0M294.4 201.5h0M293.7 192.6h0M290.8 184.1h0M289.1 187.8h0M290.6 181.8h0M295.5 197.3h0M293.0 195.4h0M298.2 201.0h0M289.1 187.2h0M290.1 211.0h0M290.4 197.7h0M293.3 190.7h0M291.9 211.5h0M297.3 210.2h0M291.8 192.0h0M293.8 197.8h0M297.3 187.8h0M289.3 194.3h0M297.9 209.0h0M290.0 195.7h0M287.0 203.8h0M297.7 203.7h0M296.7 204.2h0M287.4 201.2h0M293.3 195.5h0M286.7 207.3h0M297.7 209.0h0M290.6 200.7h0M290.6 208.5h0M298.5 201.8h0M297.7 191.2h0M289.1 183.4h0M288.3 186.9h0M291.2 189.9h0M298.2 190.1h0M288.8 185.1h0M288.2 198.9h0M287.8 206.0h0M293.3 190.5h0M291.8 188.7h0M293.6 191.9h0M291.7 208.3h0M291.5 211.7h0M290.3 181.8h0M288.6 206.5h0M289.6 192.6h0M293.9 210.5h0M286.5 204.5h0M293.4 202.6h0M290.6 210.6h0M288.8 208.1h0M299.4 206.5h0M295.7 197.0h0M300.2 185.4h0M295.9 183.9h0M291.5 205.7h0M293.2 195.5h0M298.8 210.0h0M297.1 187.3h0M297.5 206.7h0M289.7 197.6h0M296.3 182.1h0M294.4 188.0h0M293.6 183.2h0M296.4 194.9h0M291.4 193.0h0M290.0 201.6h0M292.0 191.5h0M293.5 188.7h0M299.0 203.8h0M288.7 193.4h0M290.0 184.5h0M293.1 199.9h0M298.2 196.3h0M299.2 195.4h0M288.7 202.7h0M296.7 182.1h0M286.9 203.2h0M291.4 181.2h0M288.3 208.7h0M299.8 184.9h0" stroke="#f0b0c0" stroke-width="3.6" stroke-linecap="round" fill="none"/>
<path d="M292.7 190.4h0M292.3 213.2h0M297.5 205.8h0M293.4 196.5h0M292.5 199.8h0M300.0 205.9h0M295.4 212.4h0M299.9 206.4h0M296.3 206.6h0M288.0 185.6h0M293.5 202.1h0M300.4 209.1h0M296.2 185.3h0M296.2 206.7h0M300.6 196.9h0M294.5 183.8h0M293.0 210.0h0M296.1 190.5h0M298.2 205.3h0M300.2 187.1h0M289.0 183.8h0M292.0 204.1h0M293.8 186.9h0M290.1 197.5h0M301.3 202.4h0M293.8 186.1h0M295.1 211.6h0M299.8 203.9h0M290.6 210.8h0M289.9 202.7h0M289.7 200.1h0M290.7 209.6h0M298.7 192.6h0M298.4 200.1h0M290.3 209.5h0M297.7 184.7h0M300.2 194.5h0M291.3 200.1h0M287.8 203.3h0M301.0 203.5h0M288.8 211.5h0M287.2 210.2h0M291.3 208.6h0M295.5 202.7h0M290.2 180.6h0M291.4 210.8h0M288.7 199.7h0M295.5 201.9h0M294.6 210.1h0M300.0 202.8h0M290.6 204.0h0M296.5 188.1h0M288.5 182.5h0M298.1 198.5h0M295.2 193.7h0M292.8 179.3h0M288.7 185.3h0M297.1 199.7h0M296.7 195.7h0M294.5 190.3h0M301.8 206.5h0M290.1 182.1h0M299.9 205.3h0M291.3 191.4h0M295.9 198.9h0M286.3 208.2h0M286.2 195.8h0M297.6 194.6h0M294.3 192.2h0M290.6 188.1h0M286.3 196.5h0M299.6 200.4h0M299.1 182.3h0M295.6 193.7h0M288.7 194.4h0M300.2 208.0h0M296.2 201.0h0M296.3 196.4h0M299.1 191.5h0M293.8 202.1h0M295.8 209.2h0M290.8 188.0h0M293.3 180.8h0M300.6 184.0h0M294.5 206.9h0M288.8 206.0h0M287.8 203.6h0M294.2 190.3h0M295.9 207.4h0M294.9 181.0h0M296.6 183.0h0M296.1 190.2h0M294.4 191.8h0M299.1 207.7h0M300.2 196.4h0M293.1 184.5h0M298.5 181.4h0M288.2 198.2h0M296.9 208.9h0M296.2 188.7h0M294.9 212.5h0M288.4 188.0h0M291.7 187.8h0M288.1 193.3h0M296.0 195.8h0M296.2 181.3h0M292.8 195.4h0M297.0 183.8h0M292.5 197.4h0M288.8 185.4h0M290.5 200.2h0M292.8 189.3h0M297.7 182.8h0M287.1 196.1h0M294.1 186.2h0M288.4 191.6h0M297.3 185.4h0M286.4 195.0h0M291.6 210.3h0M293.9 191.3h0M295.9 202.7h0M289.5 203.9h0M298.3 203.4h0M290.4 211.8h0M291.0 197.4h0M296.4 187.1h0M288.8 204.2h0M294.6 203.7h0M292.7 184.8h0M291.6 212.1h0M291.1 187.6h0M290.8 188.6h0M293.7 208.4h0M290.4 200.9h0M296.2 194.8h0M286.0 201.0h0M299.7 188.4h0M289.7 189.2h0M294.3 205.3h0M296.6 203.5h0M294.2 212.1h0M293.3 187.9h0M300.4 205.2h0M299.6 181.9h0M295.7 207.1h0M289.8 202.7h0M291.3 198.1h0M296.3 205.2h0M293.9 209.9h0M293.0 184.0h0M285.1 201.8h0M290.4 181.6h0M297.5 203.4h0M291.0 194.7h0M295.2 195.7h0M291.7 199.4h0M294.9 212.1h0M297.9 207.3h0M287.8 207.3h0M295.2 194.3h0M293.2 182.0h0M299.8 194.3h0M296.3 200.2h0M297.4 184.5h0M285.1 206.8h0M291.1 180.4h0M290.4 187.9h0M298.4 184.0h0M291.5 195.2h0M295.7 184.1h0M296.5 195.7h0M292.7 186.0h0M298.1 195.8h0M295.7 181.8h0M289.3 205.8h0M293.0 196.5h0M297.0 181.6h0M298.8 191.1h0M292.5 207.5h0M285.4 203.2h0M298.2 206.9h0M290.8 194.1h0M288.3 184.0h0M288.3 197.8h0M298.0 202.5h0M291.9 199.2h0M293.1 211.7h0M288.1 211.4h0M294.0 196.8h0M295.6 183.3h0M293.6 209.3h0M289.6 202.1h0M301.4 205.0h0M293.9 212.0h0M295.9 210.0h0M287.3 188.2h0M287.3 189.1h0M292.0 201.1h0M290.8 193.2h0M285.7 207.1h0M291.3 206.3h0M299.5 209.8h0M286.2 199.1h0M296.7 202.8h0M297.8 179.8h0M290.7 198.5h0M294.1 208.0h0M299.8 207.5h0M289.0 181.7h0M294.1 212.4h0M301.2 203.1h0M291.3 192.9h0M288.6 201.5h0M296.8 185.0h0M298.3 184.5h0M299.5 203.6h0M290.4 204.3h0M300.3 183.8h0M288.0 209.7h0M290.1 186.8h0M292.9 191.6h0M294.7 205.3h0M299.1 206.6h0M292.9 208.4h0M299.8 199.8h0M287.7 190.5h0M287.0 200.0h0M292.0 208.1h0M291.2 183.9h0M293.5 210.2h0M288.4 192.4h0M294.5 188.2h0M295.4 200.8h0M291.1 199.4h0M298.2 186.1h0M297.0 181.3h0M294.8 200.4h0M288.4 195.7h0M297.1 191.3h0M298.5 187.5h0M288.2 205.5h0M288.0 183.2h0M287.4 187.0h0M293.0 212.0h0M289.8 197.7h0M285.7 208.6h0M300.1 195.8h0M291.9 200.2h0M291.5 212.6h0M287.4 210.5h0M297.9 208.7h0M300.8 194.6h0M295.8 189.2h0M300.4 196.8h0M293.3 196.0h0M288.7 205.7h0M289.9 207.0h0M292.1 197.8h0M291.2 185.0h0M292.4 190.1h0M287.3 186.8h0M297.1 212.4h0M292.9 211.0h0M299.1 188.4h0M290.2 208.7h0M295.4 209.1h0M291.8 193.7h0M285.8 206.4h0M287.5 196.3h0M299.6 202.1h0M293.3 199.6h0M290.1 211.0h0M292.5 185.1h0M301.5 200.9h0M299.8 204.7h0M289.0 205.4h0M297.7 202.5h0M297.6 185.7h0M290.8 185.6h0" stroke="#cc2452" stroke-width="1.0" stroke-linecap="round" fill="none"/>
<path d="M297.5 180.3h0M298.4 181.7h0M300.7 189.6h0M298.5 210.6h0M289.4 204.6h0M297.0 193.0h0M290.1 182.8h0M296.6 195.5h0M287.6 195.2h0M288.0 207.9h0M292.9 198.4h0M296.3 185.0h0M296.8 210.9h0M298.9 210.7h0M290.2 193.5h0M299.9 198.9h0M294.4 211.4h0M299.3 197.6h0M288.8 182.8h0M288.9 209.1h0M299.4 181.8h0M295.5 185.5h0M289.2 184.1h0M299.3 192.5h0M290.0 188.4h0M289.4 183.7h0M294.8 201.1h0M299.0 205.1h0M293.9 209.0h0M286.9 208.8h0M289.2 183.7h0M294.9 209.6h0M295.0 179.2h0M292.1 203.7h0M293.4 211.1h0M298.1 207.5h0M294.5 210.0h0M295.7 179.2h0M299.7 199.8h0M297.1 204.4h0M299.6 184.8h0M290.1 206.0h0M293.9 179.1h0M301.1 196.6h0M294.0 210.7h0M298.5 188.3h0M295.5 187.7h0M288.2 183.5h0M292.0 193.3h0M293.8 184.9h0M297.6 197.0h0M293.2 208.1h0M295.1 196.7h0M294.5 207.8h0M297.6 184.3h0M290.4 186.0h0M292.5 186.3h0M297.1 193.5h0M294.9 187.0h0M299.9 207.8h0M290.1 205.4h0M289.3 189.6h0M293.0 189.7h0M297.8 203.6h0M294.5 197.1h0M292.1 207.2h0M293.2 193.0h0M294.0 204.5h0M288.2 203.2h0M295.5 185.9h0M295.3 206.5h0M298.9 202.3h0M290.1 202.7h0M289.6 199.7h0M288.4 194.0h0M288.7 196.8h0M288.5 197.1h0M300.1 189.6h0M288.5 199.0h0M289.1 190.4h0M298.5 205.5h0M296.1 210.3h0M295.5 198.5h0M296.9 196.9h0M295.4 182.7h0M298.4 186.6h0M287.2 198.1h0M293.2 185.7h0M294.5 209.4h0M288.3 209.8h0M292.8 199.5h0M299.3 191.0h0M289.0 189.0h0M286.3 203.8h0M294.1 200.6h0M301.5 200.8h0M301.4 206.6h0M296.2 198.6h0M294.1 186.6h0M296.1 179.6h0M289.7 197.4h0M293.2 190.2h0M294.7 182.3h0M298.7 186.4h0M290.1 185.7h0M290.0 183.9h0M299.1 200.5h0M291.4 211.4h0M295.8 202.7h0M290.2 211.8h0M288.6 207.8h0M300.5 195.8h0M298.0 184.8h0M285.9 200.1h0M299.5 193.7h0M285.3 203.4h0M296.0 192.5h0M296.6 212.6h0M298.6 203.9h0M299.2 190.2h0M296.9 179.1h0M297.9 204.8h0" stroke="#9c1440" stroke-width="1.0" stroke-linecap="round" fill="none"/>
<path d="M296.8 192.1h0M286.3 195.1h0M299.8 203.4h0M291.0 195.4h0M291.4 189.7h0M292.8 183.7h0M293.4 185.8h0M289.1 199.3h0M293.6 211.9h0M295.4 183.0h0M291.9 213.2h0M298.0 201.9h0M299.4 209.1h0M290.2 180.6h0M291.5 199.5h0M299.1 182.8h0M292.8 198.9h0M291.7 187.5h0M293.3 205.6h0M299.9 188.5h0M298.1 180.0h0M298.4 211.8h0M294.7 197.3h0M294.8 211.5h0M290.2 197.8h0M293.2 206.9h0M294.5 190.6h0M290.9 199.4h0M298.4 200.0h0M287.9 199.4h0M298.1 184.5h0M288.3 193.5h0M297.3 204.0h0M297.5 200.0h0M289.9 194.3h0M292.5 205.7h0M289.0 197.6h0M294.6 182.7h0M300.4 184.3h0M297.1 202.4h0M291.7 204.3h0M288.6 196.2h0M300.6 203.6h0M288.5 206.4h0M293.7 190.2h0M290.5 188.4h0M294.9 195.8h0M294.0 179.1h0M286.9 206.9h0M289.1 198.2h0M288.4 190.9h0M298.9 202.4h0M299.3 203.2h0M286.2 208.9h0M290.3 188.2h0" stroke="#fff" stroke-width="1.0" stroke-linecap="round" fill="none"/>
<path d="M369.7 148.9h0M369.6 141.0h0M375.8 141.3h0M368.1 150.3h0M368.7 146.9h0M371.5 141.2h0M368.7 140.3h0M371.6 142.6h0M371.8 140.0h0M374.8 139.5h0M366.6 145.3h0M369.1 149.9h0M371.7 144.6h0M371.7 149.0h0M368.3 143.9h0M366.6 146.3h0M372.0 139.8h0M375.0 143.3h0M369.1 145.6h0M369.1 151.3h0M367.5 146.7h0M368.1 143.7h0M377.2 143.5h0M371.2 141.3h0M366.4 142.2h0M371.4 140.8h0M370.7 148.0h0M374.7 141.0h0M371.8 147.4h0M371.0 140.7h0M370.3 150.4h0M366.4 142.3h0M370.8 149.1h0M370.9 151.2h0M368.0 149.8h0M377.4 143.2h0M372.9 148.5h0" stroke="#f0b0c0" stroke-width="3.6" stroke-linecap="round" fill="none"/>
<path d="M368.7 142.3h0M367.9 142.7h0M370.0 151.7h0M377.4 144.5h0M369.3 151.2h0M365.7 146.1h0M367.7 142.6h0M373.3 148.9h0M374.7 141.3h0M375.9 144.3h0M370.8 152.4h0M368.4 143.8h0M374.1 137.9h0M370.9 149.2h0M369.0 140.5h0M378.1 146.5h0M373.9 139.2h0M369.8 139.0h0M366.6 144.5h0M372.3 149.7h0M374.9 140.5h0M367.0 141.3h0M367.9 146.7h0M369.0 150.3h0M368.1 151.0h0M374.8 144.7h0M369.0 147.2h0M376.2 144.7h0M373.4 150.9h0M366.5 142.5h0M369.4 149.3h0M365.9 141.7h0M371.6 151.8h0M371.4 152.1h0M367.2 150.3h0M369.3 145.1h0M369.7 139.0h0M368.5 151.7h0M377.4 146.8h0M370.8 144.6h0M371.8 143.9h0M372.2 151.4h0M367.4 148.0h0M367.2 151.7h0M367.9 146.3h0M370.3 145.1h0M370.0 145.9h0M369.3 144.9h0M373.3 150.1h0M376.1 138.2h0M365.3 146.2h0M373.9 143.5h0M369.0 147.0h0M365.6 144.1h0M377.8 146.3h0M370.8 144.4h0M376.5 141.9h0M364.9 144.9h0M365.1 146.1h0M369.8 141.5h0M366.4 146.5h0M369.0 149.2h0M374.7 138.9h0M370.7 149.7h0M371.9 138.8h0M369.9 147.4h0M373.2 142.0h0M378.0 145.5h0M377.3 142.4h0M365.0 146.0h0M372.6 148.4h0M374.5 139.6h0M374.2 142.1h0M368.5 150.8h0M372.2 148.0h0M372.2 147.7h0M375.3 143.1h0M369.7 139.1h0M377.1 146.4h0M376.3 144.0h0M370.9 145.2h0M378.9 143.1h0" stroke="#cc2452" stroke-width="1.0" stroke-linecap="round" fill="none"/>
<path d="M378.9 143.4h0M367.2 140.4h0M377.9 141.7h0M365.9 150.2h0M368.6 151.3h0M377.8 142.4h0M370.8 140.9h0M367.8 150.8h0M373.7 139.9h0M366.3 146.8h0M378.5 142.0h0M371.7 144.8h0M365.3 142.7h0M372.5 148.7h0M369.4 142.5h0M372.0 149.4h0M374.1 142.7h0M375.3 142.0h0M367.0 144.7h0M370.1 147.6h0M375.7 141.4h0M372.0 149.6h0M375.2 142.5h0M367.0 141.1h0M368.7 148.1h0M366.1 147.6h0M373.6 137.7h0M369.9 145.1h0M366.1 142.3h0M372.7 140.2h0M372.3 151.6h0M370.3 149.5h0M370.5 140.7h0M375.7 146.3h0M366.9 149.8h0M366.5 146.8h0" stroke="#9c1440" stroke-width="1.0" stroke-linecap="round" fill="none"/>
<path d="M368.5 143.4h0M370.8 147.2h0M375.8 141.2h0M377.2 138.8h0M373.7 143.6h0M367.2 143.5h0M374.4 138.4h0M367.0 141.3h0M377.5 146.2h0M365.6 144.5h0M370.6 148.2h0M371.8 144.9h0M376.3 139.0h0M377.0 139.2h0M369.4 149.4h0M372.2 149.7h0" stroke="#fff" stroke-width="1.0" stroke-linecap="round" fill="none"/>
<path d="M368.7 171.1h0M374.9 171.8h0M377.7 174.8h0M367.7 169.5h0M367.6 169.3h0M377.5 172.4h0M370.5 164.8h0M368.7 164.6h0M368.1 171.9h0M369.2 173.5h0M370.0 162.5h0M370.4 168.6h0M378.0 167.8h0M372.3 158.4h0M367.9 161.1h0M375.4 168.2h0M367.9 171.1h0M373.3 170.8h0M372.1 155.4h0M377.0 170.4h0M370.7 160.7h0M372.3 170.8h0M369.1 167.0h0M369.5 165.3h0M373.8 171.0h0M375.0 167.2h0M372.3 160.1h0M378.3 170.3h0M373.5 158.9h0M374.6 173.4h0M366.0 168.0h0M377.2 172.3h0M368.8 170.7h0M372.3 163.9h0M371.8 172.1h0M369.6 170.0h0M372.6 159.3h0M368.4 172.9h0M377.3 168.7h0M367.5 170.6h0M365.9 168.9h0M373.8 169.2h0M370.0 164.1h0M371.5 173.2h0M369.0 166.9h0M373.0 164.1h0M367.3 160.9h0M370.8 163.6h0M374.3 157.4h0M373.5 162.2h0M374.7 160.6h0M372.5 166.7h0M369.6 160.7h0M376.4 166.2h0M368.4 172.8h0M376.8 169.2h0M371.6 159.0h0M371.7 173.2h0M371.8 157.1h0" stroke="#f0b0c0" stroke-width="3.6" stroke-linecap="round" fill="none"/>
<path d="M371.1 159.3h0M378.6 169.0h0M372.0 166.1h0M371.7 159.3h0M365.1 168.8h0M369.9 161.2h0M366.9 158.0h0M366.0 159.5h0M368.0 166.5h0M375.4 164.3h0M364.8 172.6h0M372.3 159.6h0M372.5 171.7h0M371.0 156.6h0M377.7 170.4h0M370.9 168.4h0M368.6 172.7h0M369.3 157.1h0M372.0 162.8h0M377.1 170.3h0M374.6 164.6h0M368.7 158.4h0M367.1 172.9h0M377.6 170.5h0M370.4 167.6h0M377.5 170.7h0M368.1 160.2h0M374.9 171.7h0M371.2 156.9h0M370.5 170.0h0M372.4 170.8h0M366.2 168.5h0M371.9 154.7h0M373.2 164.5h0M368.4 171.4h0M375.6 158.2h0M365.6 173.2h0M365.3 169.1h0M371.3 173.2h0M367.9 168.3h0M374.9 168.3h0M365.3 170.9h0M373.9 164.9h0M371.3 161.1h0M363.8 168.0h0M368.4 156.7h0M370.4 155.7h0M363.7 170.2h0M374.7 157.7h0M363.2 170.1h0M365.2 170.3h0M370.7 158.4h0M366.0 172.8h0M374.3 157.0h0M371.2 156.6h0M366.5 173.8h0M371.3 165.9h0M372.4 164.6h0M367.9 167.9h0M375.4 171.9h0M371.8 171.5h0M368.6 162.9h0M370.3 157.3h0M372.3 165.3h0M373.3 156.9h0M376.5 169.4h0M373.3 165.8h0M368.9 166.5h0M368.6 164.1h0M377.1 169.9h0M367.2 170.2h0M367.9 169.5h0M378.2 168.7h0M369.3 166.9h0M369.5 163.1h0M374.8 169.4h0M368.3 160.3h0M374.5 157.1h0M367.3 162.0h0M376.8 165.9h0M371.1 170.7h0M377.4 172.7h0M367.4 168.6h0M366.5 160.2h0M365.5 171.0h0M369.5 159.9h0M371.0 162.4h0M364.9 172.5h0M376.5 172.2h0M367.0 166.4h0M374.5 162.2h0M372.5 166.4h0M370.4 167.9h0M365.6 167.7h0M371.7 169.6h0M371.8 174.0h0M378.3 167.8h0M372.8 155.6h0M369.3 161.3h0M374.2 161.6h0M367.5 162.1h0M375.8 164.8h0M372.3 157.0h0M370.0 166.3h0M363.1 167.9h0M370.0 171.7h0M371.3 157.8h0M375.6 167.9h0M370.8 172.5h0M366.8 169.6h0M370.4 166.0h0M367.4 174.3h0M370.2 166.3h0M364.9 170.6h0M376.7 169.6h0M368.8 163.7h0M366.5 172.0h0M369.3 160.3h0M370.3 167.1h0M374.2 159.2h0M379.0 169.0h0M369.7 167.3h0M368.0 159.4h0M369.7 161.9h0M369.7 159.6h0M367.4 169.7h0M372.8 156.9h0M367.7 156.3h0M366.6 158.7h0" stroke="#cc2452" stroke-width="1.0" stroke-linecap="round" fill="none"/>
<path d="M375.2 159.5h0M364.5 172.0h0M372.6 168.6h0M367.7 156.6h0M372.7 158.8h0M371.6 165.6h0M372.9 164.7h0M363.1 170.4h0M372.7 164.7h0M366.6 167.8h0M373.5 164.7h0M377.3 170.7h0M365.8 171.6h0M370.3 173.3h0M375.6 168.4h0M372.1 163.6h0M370.0 160.0h0M375.1 165.6h0M374.0 161.6h0M368.0 171.3h0M370.2 159.3h0M376.3 169.4h0M374.7 157.6h0M370.2 157.8h0M374.8 161.5h0M373.9 160.7h0M378.8 169.1h0M370.4 172.1h0M371.8 157.4h0M373.7 166.6h0M368.5 158.2h0M366.6 160.7h0M374.1 163.9h0M372.5 161.1h0M371.9 173.1h0M370.7 160.4h0M377.6 168.6h0M373.9 159.3h0M378.0 170.7h0M375.3 172.1h0M372.1 172.1h0M375.0 168.2h0M370.8 174.6h0M371.6 164.7h0M368.5 162.0h0M377.8 174.7h0M371.2 170.0h0M372.2 157.8h0M371.0 156.3h0M369.3 165.7h0M369.3 169.2h0M376.5 168.3h0M367.6 159.3h0M369.8 165.5h0M372.2 155.2h0M376.5 172.7h0" stroke="#9c1440" stroke-width="1.0" stroke-linecap="round" fill="none"/>
<path d="M371.5 155.2h0M365.9 169.6h0M366.0 159.9h0M370.1 165.9h0M370.0 161.6h0M367.5 168.4h0M369.6 157.3h0M373.1 168.2h0M366.2 172.7h0M367.9 161.3h0M373.4 161.0h0M370.2 156.6h0M373.3 163.7h0M363.6 168.1h0M374.4 173.6h0M366.3 172.9h0M378.3 166.1h0M374.6 171.5h0M370.5 160.9h0M368.9 170.3h0M368.5 168.8h0M366.6 158.7h0M377.0 167.5h0M372.3 174.0h0M377.6 172.7h0" stroke="#fff" stroke-width="1.0" stroke-linecap="round" fill="none"/>
<ellipse cx="347.80" cy="173.20" rx="5.02" ry="5.58" fill="#d9dce8"/>
<ellipse cx="347.30" cy="180.00" rx="1.40" ry="2.60" fill="#d9dce8"/>
<path d="M348.9 175.5h0M342.5 173.5h0M349.4 170.1h0M343.2 174.4h0M349.2 172.0h0M343.8 170.4h0M347.4 171.0h0M348.1 175.4h0M346.8 171.0h0M345.2 168.9h0M346.4 170.0h0M349.6 170.7h0M345.7 176.2h0M348.0 182.0h0M343.0 173.2h0M346.3 179.2h0M348.0 168.8h0M343.5 170.9h0M351.5 174.1h0M350.6 169.4h0M349.0 172.5h0M347.5 176.7h0M345.4 172.2h0M348.6 177.5h0M348.0 182.4h0M350.3 176.1h0M347.8 167.6h0M349.3 174.3h0M348.7 173.7h0M345.9 175.1h0M346.3 173.8h0M347.5 170.2h0M343.3 174.4h0M347.3 173.1h0M347.9 169.6h0" stroke="#c6c9da" stroke-width="1.0" stroke-linecap="round" fill="none"/>
<path d="M351.9 173.0h0M343.7 169.8h0M348.4 181.3h0M348.3 178.7h0M344.6 176.3h0M344.3 173.0h0M349.3 178.6h0" stroke="#b4b8cc" stroke-width="1.0" stroke-linecap="round" fill="none"/>
<path d="M345.2 173.5h0M351.7 170.5h0M351.0 176.5h0M351.7 170.8h0M346.6 176.6h0M346.5 172.4h0M345.6 178.3h0M348.4 175.1h0M342.6 172.3h0M346.4 169.5h0M351.9 175.6h0" stroke="#f4f4f8" stroke-width="1.0" stroke-linecap="round" fill="none"/>
<ellipse cx="336.30" cy="192.00" rx="7.44" ry="8.00" fill="#d9dce8"/>
<ellipse cx="348.10" cy="187.70" rx="6.14" ry="7.63" fill="#d9dce8"/>
<path d="M337.8 195.1h0M337.4 192.7h0M332.6 189.8h0M340.0 193.5h0M333.7 184.9h0M354.0 188.9h0M338.3 188.9h0M331.4 191.9h0M346.8 193.6h0M352.6 192.3h0M348.1 191.1h0M341.5 192.7h0M335.3 190.3h0M339.3 185.6h0M349.8 185.4h0M341.2 193.5h0M345.1 182.8h0M349.7 194.0h0M348.7 191.7h0M335.7 186.6h0M339.7 186.5h0M330.9 193.6h0M336.9 185.8h0M347.5 184.0h0M333.1 196.1h0M333.8 186.9h0M351.1 183.3h0M330.4 190.0h0M335.5 186.5h0M351.1 185.4h0M331.4 194.5h0M342.4 189.7h0M348.7 187.2h0M331.9 185.8h0M332.7 188.0h0M349.0 194.4h0M344.8 182.1h0M336.9 197.4h0M339.2 196.2h0M336.4 192.1h0M353.5 185.1h0M329.6 190.5h0M349.4 189.2h0M341.1 194.9h0M350.1 188.7h0M348.7 180.3h0M348.2 189.8h0M335.4 187.2h0M348.8 186.8h0M337.2 196.7h0M334.8 198.2h0M351.4 193.5h0M334.7 196.5h0M335.1 192.5h0M341.0 196.0h0M345.5 190.3h0M351.2 190.3h0M344.8 190.9h0M335.7 197.1h0M330.6 197.3h0M342.0 191.8h0M341.7 192.4h0M336.2 198.6h0M344.5 185.2h0M340.8 190.6h0M330.1 197.0h0M339.1 186.6h0M345.8 191.2h0M331.4 198.0h0M343.7 191.7h0M341.8 191.1h0M346.4 192.2h0M342.1 194.2h0M338.3 185.9h0M333.4 196.5h0M340.8 185.3h0M346.9 186.8h0M350.9 188.8h0M331.1 192.3h0M339.8 191.1h0M332.1 198.5h0M337.0 191.0h0M340.7 198.3h0M338.5 188.5h0M338.9 191.9h0M351.4 190.2h0M337.0 183.9h0M332.9 185.1h0M329.5 191.6h0M332.8 186.1h0M348.2 186.4h0M347.4 183.3h0M348.9 182.8h0M330.4 189.9h0M343.1 184.9h0M339.5 197.1h0M351.1 193.6h0M352.9 182.4h0M351.1 189.0h0M353.2 187.6h0M344.9 189.6h0M349.7 189.8h0M353.6 188.1h0M334.8 191.8h0M341.3 190.8h0M345.2 188.5h0M334.9 197.6h0M349.2 193.4h0M347.8 185.4h0M350.6 194.9h0M346.5 195.4h0M342.3 192.4h0M333.8 185.4h0M330.9 193.2h0M350.1 182.6h0M345.1 182.7h0M337.1 189.2h0M336.6 192.8h0M344.3 187.2h0M340.4 189.9h0" stroke="#c6c9da" stroke-width="1.0" stroke-linecap="round" fill="none"/>
<path d="M344.0 193.6h0M346.0 185.7h0M336.9 199.1h0M335.7 200.2h0M329.7 194.9h0M332.4 196.7h0M340.4 189.2h0M348.6 185.7h0M332.2 190.2h0M345.4 191.2h0M339.8 194.7h0M334.5 186.7h0M334.6 188.4h0M336.0 191.9h0M343.5 182.7h0M352.2 192.8h0M333.8 196.5h0M337.4 192.1h0M343.5 192.0h0M342.7 195.1h0M331.9 191.4h0M352.8 188.5h0M351.9 184.4h0M340.6 191.1h0M353.6 188.6h0M349.8 187.9h0" stroke="#b4b8cc" stroke-width="1.0" stroke-linecap="round" fill="none"/>
<path d="M342.5 189.1h0M345.2 183.8h0M329.7 191.4h0M335.5 185.0h0M339.8 187.4h0M329.8 193.4h0M331.8 192.1h0M344.8 182.4h0M338.3 187.3h0M336.6 187.9h0M346.1 187.9h0M344.3 186.5h0M335.9 187.7h0M342.0 186.2h0M333.6 187.2h0M341.6 187.0h0M331.6 198.0h0M336.0 189.6h0M351.3 181.1h0M331.4 192.8h0M354.1 187.2h0M348.8 180.5h0M350.1 194.8h0M337.1 186.7h0M348.4 188.8h0M332.2 193.4h0M343.5 192.1h0M342.9 185.1h0M337.9 199.1h0M353.3 185.2h0M333.8 194.6h0M329.7 188.4h0M350.5 188.8h0M348.9 192.9h0M341.7 192.2h0M346.2 190.8h0M348.5 188.0h0M337.9 196.8h0M331.2 195.2h0M352.4 190.8h0" stroke="#f4f4f8" stroke-width="1.0" stroke-linecap="round" fill="none"/>
<path d="M381.4 199.9h0M386.1 194.1h0M383.0 192.9h0M391.7 190.0h0M388.5 201.1h0M390.4 195.1h0M381.3 204.1h0M383.5 186.7h0M391.1 204.1h0M381.4 186.6h0M388.8 210.1h0M390.9 193.0h0M383.5 196.5h0M382.3 203.5h0M390.1 184.2h0M387.5 187.1h0M385.7 207.4h0M382.5 198.9h0M386.2 182.9h0M391.3 181.4h0M384.2 191.5h0M387.6 193.6h0M391.2 200.5h0M385.5 196.2h0M384.1 187.4h0M385.7 210.1h0M385.3 184.3h0M389.2 182.1h0M388.8 185.3h0M389.4 199.8h0M387.6 190.4h0M391.3 204.2h0M393.1 200.7h0M383.8 186.2h0M384.8 185.3h0M387.5 194.1h0M390.3 192.8h0M388.0 190.2h0M387.0 194.6h0M391.4 204.0h0M385.3 188.5h0M386.1 200.9h0M381.3 188.0h0M390.9 185.2h0M390.5 187.4h0M389.7 210.1h0M380.7 196.6h0M388.5 194.9h0M385.2 199.9h0M382.9 186.5h0M383.3 202.4h0M380.6 201.1h0M382.2 202.5h0M383.2 185.3h0M390.8 188.3h0M387.6 205.7h0M389.9 201.6h0M388.4 197.1h0M384.3 195.7h0M380.7 196.4h0M382.4 207.0h0M385.3 181.1h0M385.7 206.9h0M389.4 188.9h0M385.0 211.8h0M388.1 193.7h0M384.5 195.1h0M380.6 201.1h0M387.9 197.5h0M393.3 205.6h0M392.7 207.6h0M386.6 209.8h0M388.1 210.6h0M393.5 201.1h0M385.3 205.1h0M389.4 190.4h0M391.4 194.8h0M389.5 180.4h0M385.1 186.0h0M385.4 204.8h0M389.6 201.2h0M387.1 182.7h0M388.5 183.8h0M385.5 202.2h0M388.3 197.7h0M384.3 203.1h0M383.4 206.9h0M383.7 197.3h0M387.6 204.5h0M392.1 183.3h0M381.7 196.2h0M388.8 193.2h0M380.5 203.5h0M389.0 208.0h0M392.0 202.7h0M385.0 186.9h0M387.0 197.5h0M387.7 194.5h0M380.2 200.0h0M389.4 210.3h0M392.8 200.7h0M384.7 199.1h0M383.1 199.7h0M380.2 203.5h0M387.0 204.7h0M393.2 204.5h0M386.2 195.4h0M382.8 193.1h0M385.0 184.4h0M392.9 187.9h0M386.4 209.0h0M381.2 201.4h0M390.6 196.9h0M386.1 192.1h0M384.3 210.8h0M386.2 197.4h0M386.1 190.8h0M381.7 205.2h0M390.1 206.6h0M389.2 189.3h0M389.8 198.3h0M389.4 180.7h0M382.5 208.1h0M389.0 199.6h0M385.2 206.8h0M390.7 183.7h0M391.7 182.3h0" stroke="#f0b0c0" stroke-width="3.6" stroke-linecap="round" fill="none"/>
<path d="M392.3 203.2h0M381.2 185.8h0M390.5 185.2h0M389.2 184.5h0M393.5 195.7h0M385.9 180.7h0M389.5 201.2h0M391.6 194.8h0M381.2 183.0h0M389.4 198.6h0M384.3 187.3h0M381.3 190.1h0M393.0 209.1h0M384.2 180.7h0M393.9 188.9h0M384.5 191.3h0M384.7 187.0h0M384.0 192.2h0M383.3 210.8h0M378.3 203.2h0M389.4 182.7h0M387.9 204.6h0M394.0 208.0h0M380.5 189.3h0M390.8 208.8h0M382.6 188.3h0M389.8 207.8h0M383.9 196.2h0M391.9 191.7h0M384.6 197.0h0M393.2 196.9h0M384.5 204.7h0M391.4 203.9h0M389.6 209.6h0M392.3 184.0h0M392.1 208.9h0M384.6 193.7h0M389.3 195.7h0M379.3 204.7h0M379.5 194.9h0M385.9 182.2h0M381.6 185.9h0M385.7 204.2h0M390.7 183.3h0M393.5 193.7h0M387.4 198.3h0M392.6 189.5h0M380.2 195.2h0M384.7 195.9h0M389.4 190.2h0M386.2 182.4h0M391.8 200.1h0M392.1 201.7h0M392.9 182.1h0M384.0 212.3h0M390.8 209.1h0M385.5 206.4h0M386.3 186.2h0M382.9 184.8h0M386.9 211.9h0M392.8 200.1h0M378.4 207.2h0M379.9 206.8h0M378.8 203.2h0M391.8 204.6h0M382.2 197.3h0M383.3 198.0h0M389.6 201.4h0M394.3 204.0h0M389.8 184.2h0M391.7 198.5h0M389.6 179.5h0M390.7 208.8h0M384.0 210.3h0M380.5 184.5h0M392.5 189.0h0M385.7 196.4h0M386.7 182.5h0M392.5 190.1h0M383.4 196.7h0M382.3 198.4h0M390.3 184.1h0M382.4 192.7h0M386.2 209.2h0M385.4 191.5h0M382.3 184.8h0M382.9 190.2h0M379.7 198.9h0M382.7 204.2h0M382.2 199.1h0M390.6 184.5h0M382.0 186.7h0M392.2 209.0h0M388.1 208.8h0M384.0 212.2h0M381.5 192.5h0M390.0 196.1h0M392.8 201.0h0M384.0 203.8h0M379.1 201.1h0M388.6 188.8h0M381.2 197.1h0M392.0 191.9h0M388.9 198.1h0M382.6 186.2h0M385.0 190.7h0M391.4 188.1h0M390.5 193.1h0M381.1 190.4h0M381.2 192.4h0M393.3 191.1h0M381.4 189.0h0M386.0 189.9h0M392.4 191.5h0M386.9 208.8h0M378.9 200.3h0M393.7 183.1h0M387.5 196.9h0M388.0 204.6h0M380.8 189.5h0M383.6 190.6h0M384.5 209.1h0M391.3 204.8h0M383.8 202.7h0M387.0 182.7h0M394.1 206.3h0M389.2 201.4h0M380.3 196.7h0M381.5 189.2h0M387.9 200.2h0M380.4 209.2h0M394.0 199.9h0M390.1 212.2h0M389.2 198.5h0M389.5 210.6h0M393.0 188.3h0M390.7 192.1h0M386.9 193.6h0M381.4 192.2h0M389.7 187.9h0M387.1 190.2h0M385.0 208.9h0M391.7 207.9h0M380.9 199.6h0M393.5 199.7h0M393.8 201.8h0M393.6 188.7h0M378.9 205.3h0M390.1 212.0h0M393.2 184.3h0M391.3 202.3h0M385.3 185.6h0M384.3 202.9h0M388.7 203.2h0M384.8 186.7h0M392.4 184.7h0M382.0 186.0h0M390.0 199.9h0M384.6 191.3h0M385.3 205.2h0M379.1 201.2h0M382.5 183.5h0M382.5 182.2h0M382.6 190.7h0M381.7 189.8h0M394.2 202.0h0M390.6 197.8h0M386.8 189.0h0M383.4 208.0h0M393.6 207.6h0M388.1 210.3h0M382.1 189.1h0M389.0 202.2h0M391.1 188.1h0M378.5 205.2h0M381.9 202.5h0M387.9 212.4h0M385.4 190.9h0M391.6 182.3h0M384.8 179.4h0M390.2 197.5h0M389.2 205.5h0M390.4 205.4h0M384.6 200.9h0M390.5 182.4h0M392.7 187.1h0M393.8 197.6h0M389.0 200.9h0M381.8 187.5h0M391.1 198.9h0M384.1 183.3h0M381.8 183.9h0M387.2 208.5h0M382.0 201.8h0M380.6 207.9h0M384.1 207.6h0M385.5 183.9h0M386.3 210.3h0M389.3 206.0h0M381.0 206.5h0M391.0 188.2h0M383.7 208.8h0M386.0 194.7h0M388.7 204.7h0M393.2 189.9h0M383.9 202.5h0M387.1 191.8h0M393.5 189.8h0M384.3 192.6h0M390.6 204.5h0M389.8 205.7h0M387.9 213.1h0M381.2 205.9h0M386.2 190.0h0M389.7 198.1h0M380.7 193.7h0M393.2 196.7h0M393.2 198.3h0M385.8 193.3h0M386.2 201.4h0M393.3 204.4h0M383.1 211.7h0M384.9 208.1h0M389.7 188.1h0M390.2 180.1h0M386.4 196.9h0M380.8 208.0h0M388.3 208.1h0M392.5 187.0h0M383.4 201.7h0M390.3 208.0h0M388.7 197.0h0M393.5 196.1h0M382.3 193.7h0M382.8 182.4h0M386.5 203.3h0M381.6 208.2h0M379.0 202.8h0M389.1 186.2h0M382.0 186.9h0M388.6 179.1h0M384.2 196.7h0M391.9 200.3h0M390.1 208.6h0M392.6 208.6h0M386.7 197.1h0M380.2 199.7h0M385.4 181.5h0M394.8 204.9h0M389.6 186.0h0M386.8 198.5h0M390.5 204.3h0M384.7 212.6h0M384.8 212.0h0M393.5 205.5h0M390.8 196.4h0M388.0 200.6h0M389.7 200.5h0M392.2 189.9h0M390.2 181.6h0M385.0 178.7h0M380.3 186.6h0M385.7 192.4h0M381.0 188.9h0M393.0 184.3h0M393.3 186.6h0M386.9 202.8h0M390.0 191.8h0M391.2 209.5h0M383.7 199.4h0M387.3 182.7h0M388.0 212.4h0M383.1 200.0h0M389.8 200.3h0M382.4 193.5h0M384.0 197.2h0M387.8 198.1h0M378.3 206.9h0M392.5 201.9h0" stroke="#cc2452" stroke-width="1.0" stroke-linecap="round" fill="none"/>
<path d="M382.5 189.8h0M385.2 202.4h0M378.8 205.3h0M392.2 190.4h0M389.9 198.7h0M385.9 194.8h0M386.0 184.1h0M394.5 205.7h0M392.6 207.1h0M389.9 188.9h0M381.9 189.8h0M391.2 182.5h0M383.7 192.9h0M384.4 190.5h0M392.3 191.3h0M383.9 196.5h0M382.8 211.5h0M390.9 209.8h0M385.4 195.5h0M381.6 187.9h0M379.3 195.5h0M381.0 204.4h0M387.8 199.7h0M381.9 188.0h0M385.3 206.7h0M385.6 208.7h0M381.8 194.7h0M381.5 208.2h0M380.1 199.7h0M384.5 186.6h0M392.6 183.2h0M384.8 196.6h0M378.3 204.5h0M391.9 183.4h0M384.2 196.8h0M393.9 201.7h0M383.9 205.8h0M389.3 186.0h0M392.3 199.6h0M381.1 185.4h0M390.8 206.1h0M385.4 208.7h0M387.2 194.3h0M386.7 190.5h0M384.1 212.7h0M382.7 186.5h0M380.9 210.5h0M388.1 178.4h0M391.0 207.4h0M393.9 205.7h0M387.5 209.6h0M393.9 185.8h0M378.9 207.1h0M383.9 182.2h0M380.5 200.7h0M391.0 208.2h0M381.4 182.6h0M379.1 199.7h0M387.1 195.6h0M385.6 182.6h0M389.7 192.3h0M390.3 190.7h0M380.2 207.0h0M387.1 193.0h0M382.2 210.2h0M382.8 196.7h0M388.3 186.8h0M387.1 191.1h0M386.0 210.8h0M382.6 211.1h0M380.3 203.6h0M391.8 200.0h0M392.8 209.6h0M394.5 207.0h0M390.5 182.1h0M387.0 180.6h0M388.7 205.7h0M392.1 209.9h0M387.9 205.1h0M385.4 199.0h0M394.1 189.8h0M391.8 193.3h0M386.1 192.1h0M388.0 185.3h0M386.8 203.5h0M391.5 184.0h0M386.5 180.5h0M381.9 190.4h0M393.3 202.6h0M390.1 211.8h0M381.9 194.5h0M379.5 205.8h0M393.5 202.9h0M382.9 183.4h0M388.7 211.3h0M392.5 183.0h0M389.7 208.9h0M382.1 185.3h0M384.0 211.7h0M390.9 199.2h0M390.3 191.0h0M383.7 201.3h0M382.6 210.3h0M389.6 181.6h0M382.5 206.1h0M393.7 207.8h0M380.7 203.8h0M394.5 200.6h0M389.9 181.5h0M388.2 183.5h0M383.8 187.2h0M391.0 193.9h0M388.4 208.9h0M390.6 205.2h0M381.9 192.4h0M386.2 199.4h0M386.5 206.0h0M382.7 180.4h0M385.7 191.7h0M392.8 188.7h0M382.7 207.0h0M391.2 194.7h0" stroke="#9c1440" stroke-width="1.0" stroke-linecap="round" fill="none"/>
<path d="M385.3 192.2h0M383.6 199.8h0M391.5 210.8h0M380.6 203.5h0M393.3 208.1h0M389.9 202.3h0M387.4 209.5h0M389.9 203.8h0M388.8 199.0h0M386.6 196.1h0M382.6 182.0h0M390.9 202.6h0M390.0 188.6h0M384.4 199.8h0M391.9 189.4h0M379.5 201.1h0M384.3 195.2h0M381.5 206.7h0M391.0 186.2h0M390.5 199.2h0M379.2 200.8h0M388.8 178.7h0M382.3 204.9h0M390.0 189.6h0M386.6 209.2h0M380.9 196.8h0M382.0 207.8h0M393.2 203.3h0M384.8 212.1h0M385.0 191.3h0M392.3 196.3h0M393.3 189.4h0M386.3 206.3h0M386.3 212.3h0M385.1 195.4h0M382.7 210.2h0M393.9 186.0h0M391.1 201.4h0M387.4 210.3h0M390.7 187.0h0M392.5 184.3h0M386.9 199.9h0M382.6 188.6h0M380.2 186.1h0M393.3 203.2h0M385.6 212.3h0M394.2 186.3h0M384.3 190.9h0M386.3 195.4h0M384.4 208.5h0M383.9 180.4h0M385.0 184.1h0M378.1 201.6h0M392.1 185.0h0M392.0 204.3h0" stroke="#fff" stroke-width="1.0" stroke-linecap="round" fill="none"/>
<path d="M453.2 144.2h0M456.7 142.0h0M465.5 143.4h0M459.8 141.9h0M458.4 146.4h0M458.6 147.9h0M463.4 142.5h0M465.1 145.4h0M462.6 145.1h0M458.4 144.6h0M464.1 143.4h0M460.8 149.8h0M453.4 144.9h0M457.8 148.2h0M459.6 139.0h0M463.7 142.1h0M463.2 142.8h0M461.2 143.3h0M463.1 141.4h0M458.2 142.7h0M457.3 141.3h0M461.6 138.3h0M460.5 147.5h0M458.2 143.0h0M455.1 145.4h0M460.3 139.1h0M458.3 142.4h0M457.3 141.9h0M464.4 143.3h0M459.2 147.5h0M460.5 140.8h0M463.5 138.4h0M458.0 148.0h0M454.9 141.5h0M457.2 147.4h0M453.8 144.1h0M465.6 142.5h0" stroke="#f0b0c0" stroke-width="3.6" stroke-linecap="round" fill="none"/>
<path d="M462.5 141.0h0M455.6 151.0h0M455.9 143.2h0M459.8 151.4h0M454.1 148.1h0M457.6 140.5h0M455.3 141.8h0M457.3 149.1h0M462.9 138.5h0M459.2 146.6h0M466.2 144.2h0M456.0 149.7h0M455.0 141.8h0M464.7 143.3h0M456.1 148.6h0M459.8 142.6h0M464.4 140.7h0M457.7 150.5h0M460.4 141.8h0M463.5 138.9h0M460.1 148.3h0M464.3 138.2h0M462.6 144.2h0M456.3 146.1h0M454.5 150.8h0M457.4 150.1h0M462.7 143.1h0M462.7 137.7h0M457.8 146.3h0M458.7 143.0h0M459.0 138.7h0M461.7 138.4h0M453.4 149.9h0M455.6 152.1h0M464.7 144.2h0M464.8 138.7h0M458.5 139.3h0M455.7 140.9h0M452.0 144.5h0M459.9 143.5h0M462.2 138.8h0M458.6 149.2h0M452.0 144.0h0M457.7 144.2h0M457.5 151.2h0M454.5 150.4h0M458.6 145.6h0M456.0 148.9h0M453.3 149.5h0M454.8 149.6h0M456.7 144.5h0M462.6 139.4h0M452.5 143.3h0M458.3 150.5h0M462.6 141.8h0M457.2 139.9h0M454.9 141.9h0M454.7 142.4h0M457.7 146.1h0M464.4 140.5h0M463.9 143.9h0M458.0 140.0h0M460.7 147.0h0M464.9 139.3h0M462.6 142.8h0M462.3 145.9h0M461.6 139.9h0M454.9 144.7h0M453.0 143.7h0M464.3 142.6h0M456.7 142.9h0M456.5 149.5h0M463.7 143.9h0M458.8 142.4h0M465.4 146.9h0M458.3 146.7h0M455.7 142.8h0M456.9 150.3h0M459.3 147.7h0M459.9 139.2h0M465.4 144.5h0M462.0 141.8h0" stroke="#cc2452" stroke-width="1.0" stroke-linecap="round" fill="none"/>
<path d="M455.2 150.1h0M456.4 140.0h0M454.1 145.4h0M456.6 150.0h0M458.1 142.9h0M457.6 150.6h0M458.0 141.1h0M454.9 148.9h0M457.7 144.2h0M462.5 144.4h0M462.6 140.3h0M463.4 141.7h0M462.6 141.7h0M464.0 139.2h0M466.5 145.6h0M457.9 140.1h0M459.6 141.4h0M456.8 141.1h0M453.6 149.7h0M460.6 141.2h0M460.7 144.1h0M456.9 149.4h0M457.4 149.7h0M458.8 138.9h0M454.1 148.7h0M459.1 141.4h0M461.3 138.4h0M457.4 152.1h0M461.5 140.0h0M458.4 139.9h0M463.7 142.4h0M462.8 140.6h0M465.5 141.8h0M463.5 146.7h0M465.4 141.2h0M460.3 142.7h0" stroke="#9c1440" stroke-width="1.0" stroke-linecap="round" fill="none"/>
<path d="M464.2 145.8h0M455.7 143.4h0M457.1 148.7h0M456.2 149.1h0M465.1 145.3h0M455.9 149.0h0M461.3 150.0h0M457.4 151.3h0M454.1 148.7h0M454.2 144.2h0M457.2 140.9h0M458.9 147.9h0M457.2 145.7h0M457.0 144.4h0M465.9 141.9h0M454.8 142.5h0" stroke="#fff" stroke-width="1.0" stroke-linecap="round" fill="none"/>
<path d="M456.8 155.8h0M454.5 170.9h0M463.0 166.9h0M452.0 168.5h0M451.9 168.8h0M458.8 164.7h0M462.4 170.8h0M458.4 159.9h0M463.0 170.9h0M461.4 161.8h0M452.5 169.7h0M459.8 169.3h0M455.6 166.7h0M457.6 166.0h0M459.2 160.8h0M458.5 159.3h0M452.9 167.2h0M459.2 157.8h0M459.2 166.1h0M454.8 161.0h0M462.0 172.0h0M453.7 171.8h0M456.6 173.6h0M455.8 173.0h0M452.4 169.4h0M456.3 163.2h0M463.6 172.0h0M460.4 166.7h0M459.6 171.9h0M454.9 159.2h0M462.9 171.1h0M457.1 159.6h0M456.9 168.7h0M459.6 169.6h0M463.4 171.6h0M460.1 156.0h0M452.1 170.5h0M459.7 172.0h0M457.8 169.1h0M455.9 159.6h0M463.2 166.0h0M459.5 171.7h0M460.7 162.4h0M455.5 159.1h0M453.4 166.3h0M456.0 163.6h0M457.2 168.6h0M460.3 155.7h0M458.0 165.3h0M456.2 159.8h0M458.8 161.0h0M458.5 162.8h0M462.5 170.0h0M460.7 160.1h0M457.6 164.1h0M461.5 173.8h0M458.1 155.9h0M453.9 166.3h0M458.8 160.7h0" stroke="#f0b0c0" stroke-width="3.6" stroke-linecap="round" fill="none"/>
<path d="M457.1 154.9h0M460.6 163.1h0M455.4 165.6h0M459.9 164.7h0M458.0 165.1h0M464.1 169.1h0M458.9 159.4h0M458.2 172.3h0M454.3 157.1h0M456.6 156.5h0M458.1 169.5h0M460.3 159.6h0M459.6 168.9h0M454.0 160.3h0M465.3 172.2h0M461.6 165.7h0M464.0 168.8h0M460.3 157.0h0M459.6 165.1h0M456.4 167.0h0M464.7 172.1h0M456.1 172.7h0M457.1 163.6h0M462.1 161.9h0M451.1 168.7h0M457.2 166.1h0M455.5 164.0h0M465.4 173.2h0M452.1 166.7h0M459.4 170.3h0M456.2 159.7h0M461.6 166.8h0M454.7 173.6h0M456.2 164.8h0M464.6 169.4h0M460.9 167.8h0M465.8 169.8h0M457.4 174.4h0M456.5 162.2h0M460.7 158.7h0M463.5 166.8h0M460.6 166.4h0M460.5 171.0h0M457.7 165.9h0M461.3 162.4h0M454.2 165.1h0M458.0 156.0h0M464.0 164.7h0M457.2 155.6h0M458.8 168.7h0M457.6 163.8h0M457.4 158.9h0M454.8 169.3h0M454.8 167.3h0M459.9 156.6h0M461.0 157.9h0M453.1 172.7h0M454.0 159.0h0M461.8 161.6h0M463.3 170.0h0M460.3 155.4h0M459.9 173.4h0M455.7 164.7h0M458.8 160.4h0M458.3 171.6h0M455.8 165.2h0M452.7 168.0h0M459.4 166.9h0M457.2 164.1h0M457.6 165.1h0M455.2 163.1h0M461.1 169.6h0M451.7 169.6h0M459.5 158.6h0M455.3 159.7h0M460.6 163.1h0M455.3 167.4h0M461.6 167.1h0M463.1 171.1h0M460.3 165.2h0M457.4 157.6h0M461.4 172.0h0M455.4 168.9h0M455.6 156.3h0M462.5 158.2h0M458.1 165.0h0M466.8 168.6h0M459.6 158.7h0M465.1 175.0h0M458.6 167.6h0M459.0 157.5h0M455.8 155.6h0M457.4 173.2h0M458.2 162.3h0M456.9 155.1h0M465.0 170.0h0M452.5 170.1h0M462.0 171.7h0M461.6 171.1h0M461.2 158.8h0M461.9 157.4h0M462.5 173.7h0M453.2 172.1h0M457.3 161.2h0M456.3 161.3h0M458.0 164.1h0M466.1 169.6h0M461.6 170.3h0M457.7 159.4h0M461.7 158.8h0M463.6 172.8h0M456.8 173.6h0M460.4 159.5h0M459.6 155.5h0M461.2 171.3h0M461.3 163.0h0M458.5 172.0h0M461.1 165.0h0M462.6 169.7h0M462.5 167.9h0M461.3 160.3h0M462.4 157.3h0M453.8 171.8h0M457.2 173.0h0M462.0 173.8h0M452.7 168.5h0M457.6 156.5h0M461.6 168.5h0M454.4 173.9h0" stroke="#cc2452" stroke-width="1.0" stroke-linecap="round" fill="none"/>
<path d="M458.5 173.4h0M461.0 157.6h0M456.7 154.9h0M459.8 169.7h0M463.8 173.3h0M460.3 160.9h0M457.7 166.2h0M463.7 168.2h0M454.8 164.1h0M462.1 159.6h0M456.2 157.2h0M457.7 167.8h0M457.1 162.7h0M452.2 169.5h0M455.0 158.0h0M466.1 167.7h0M455.1 169.5h0M465.9 168.5h0M465.2 172.7h0M460.2 170.8h0M457.9 168.0h0M459.5 158.5h0M456.5 167.2h0M455.7 174.3h0M458.1 172.6h0M457.8 169.7h0M464.6 175.0h0M462.4 168.8h0M455.5 169.4h0M454.6 171.7h0M463.1 173.3h0M456.2 172.4h0M456.0 165.9h0M457.9 164.0h0M466.6 171.6h0M457.5 158.0h0M460.9 166.2h0M464.9 171.0h0M456.9 170.2h0M458.3 171.5h0M462.1 169.7h0M463.3 158.6h0M460.6 164.8h0M460.6 161.2h0M463.7 170.4h0M456.6 156.5h0M454.9 170.9h0M453.7 171.5h0M466.2 166.5h0M464.9 165.9h0M463.9 173.5h0M455.5 161.1h0M458.4 157.5h0M458.5 169.7h0M455.0 160.5h0M466.7 172.7h0" stroke="#9c1440" stroke-width="1.0" stroke-linecap="round" fill="none"/>
<path d="M467.3 169.3h0M457.6 158.8h0M462.6 160.1h0M456.6 169.2h0M456.9 166.9h0M461.5 166.6h0M466.8 170.7h0M460.5 165.0h0M457.6 167.6h0M456.8 155.0h0M456.3 162.2h0M464.8 168.3h0M455.8 159.8h0M466.9 173.1h0M462.2 160.3h0M459.7 170.3h0M461.0 165.5h0M463.3 166.4h0M455.0 172.4h0M460.9 160.5h0M452.4 172.3h0M463.5 167.0h0M463.6 169.4h0M456.9 165.5h0M455.6 161.5h0" stroke="#fff" stroke-width="1.0" stroke-linecap="round" fill="none"/>
<ellipse cx="435.50" cy="173.20" rx="5.02" ry="5.58" fill="#d9dce8"/>
<ellipse cx="435.00" cy="180.00" rx="1.40" ry="2.60" fill="#d9dce8"/>
<path d="M434.5 178.0h0M438.4 174.0h0M434.6 174.4h0M437.3 175.4h0M432.3 171.8h0M431.8 173.3h0M434.1 171.6h0M434.5 168.6h0M432.9 178.0h0M434.4 175.1h0M435.4 179.1h0M434.0 171.1h0M431.2 176.3h0M438.6 169.6h0M434.3 179.9h0M437.0 174.8h0M435.0 170.7h0M435.2 174.1h0M438.8 172.7h0M436.9 176.9h0M436.6 172.8h0M435.0 175.8h0M435.6 172.7h0M435.3 175.6h0M432.9 173.6h0M432.2 173.7h0M437.1 171.0h0M432.7 173.9h0M434.9 175.0h0M434.9 178.8h0M431.7 172.7h0M437.5 169.1h0M433.4 175.2h0M432.9 173.3h0M438.0 168.8h0" stroke="#c6c9da" stroke-width="1.0" stroke-linecap="round" fill="none"/>
<path d="M437.2 178.2h0M435.7 170.9h0M438.5 174.6h0M435.9 181.6h0M434.9 171.2h0M434.9 170.2h0M434.9 176.0h0" stroke="#b4b8cc" stroke-width="1.0" stroke-linecap="round" fill="none"/>
<path d="M431.8 172.0h0M435.3 168.9h0M434.6 180.7h0M431.9 173.3h0M436.4 180.1h0M437.9 173.3h0M438.4 172.0h0M438.8 171.7h0M431.0 174.9h0M431.8 174.3h0M438.5 174.7h0" stroke="#f4f4f8" stroke-width="1.0" stroke-linecap="round" fill="none"/>
<ellipse cx="424.00" cy="192.00" rx="7.44" ry="8.00" fill="#d9dce8"/>
<ellipse cx="435.80" cy="187.70" rx="6.14" ry="7.63" fill="#d9dce8"/>
<path d="M433.5 188.9h0M426.0 186.2h0M433.2 187.7h0M435.7 185.4h0M439.0 182.8h0M430.6 196.5h0M420.1 190.9h0M422.9 191.7h0M442.0 189.9h0M434.5 194.8h0M427.1 188.0h0M423.6 185.6h0M436.8 192.8h0M419.6 185.9h0M441.9 188.0h0M434.6 195.3h0M439.4 188.4h0M427.7 188.2h0M428.2 193.6h0M438.5 187.6h0M439.7 188.6h0M427.2 196.3h0M439.9 193.6h0M439.8 183.8h0M429.3 194.5h0M438.7 186.1h0M420.4 194.4h0M426.3 186.6h0M431.3 185.4h0M433.2 185.7h0M418.2 193.6h0M420.6 194.2h0M437.4 187.1h0M422.1 198.4h0M430.7 184.1h0M419.0 197.8h0M437.4 189.5h0M423.0 189.4h0M418.6 190.3h0M439.8 185.7h0M422.3 192.0h0M439.0 184.1h0M419.5 191.8h0M423.4 189.3h0M430.6 188.6h0M434.2 187.5h0M432.4 193.0h0M425.1 193.9h0M433.7 183.3h0M439.4 181.3h0M429.6 189.0h0M421.2 186.6h0M428.4 198.2h0M440.4 187.7h0M430.0 195.8h0M416.9 194.3h0M427.2 184.5h0M436.5 191.4h0M419.3 195.5h0M437.0 183.4h0M426.5 187.7h0M437.1 187.4h0M434.4 181.3h0M425.3 195.4h0M428.1 195.6h0M423.1 189.4h0M430.8 193.4h0M422.6 196.3h0M441.2 192.0h0M431.6 193.4h0M435.6 194.0h0M427.4 192.8h0M421.6 195.9h0M429.1 194.6h0M438.2 188.5h0M434.1 188.4h0M434.6 194.3h0M427.2 193.8h0M416.7 194.8h0M427.2 196.0h0M437.8 186.8h0M434.2 195.4h0M424.4 195.2h0M440.2 183.4h0M418.9 197.2h0M425.7 192.1h0M432.3 190.0h0M433.0 188.2h0M417.8 187.5h0M420.9 185.9h0M427.7 196.3h0M420.9 195.0h0M429.0 193.6h0M426.0 200.2h0M425.3 189.1h0M437.6 182.5h0M425.1 198.1h0M420.1 194.5h0M436.0 195.7h0M441.2 186.1h0M434.7 193.4h0M425.9 191.9h0M429.9 185.3h0M422.7 194.3h0M419.4 188.7h0M431.8 182.0h0M432.9 182.7h0M439.0 192.0h0M419.3 193.9h0M437.4 190.9h0M427.5 194.2h0M422.5 191.5h0M435.1 186.4h0M426.3 184.6h0M436.3 195.7h0M418.8 195.2h0M439.4 181.7h0M426.5 193.0h0M427.3 192.3h0M426.1 198.3h0" stroke="#c6c9da" stroke-width="1.0" stroke-linecap="round" fill="none"/>
<path d="M418.6 191.3h0M422.9 194.4h0M435.5 181.6h0M436.5 192.8h0M432.8 189.7h0M425.1 187.1h0M418.9 197.9h0M421.0 186.5h0M436.9 187.3h0M431.0 192.5h0M426.4 184.5h0M435.5 182.8h0M431.9 187.3h0M429.2 190.9h0M423.6 198.3h0M424.0 195.0h0M426.5 188.4h0M435.3 184.8h0M434.3 193.1h0M424.0 193.6h0M425.6 197.6h0M436.3 192.1h0M420.7 189.5h0M432.4 192.3h0M427.4 196.6h0M435.2 185.1h0" stroke="#b4b8cc" stroke-width="1.0" stroke-linecap="round" fill="none"/>
<path d="M424.3 190.3h0M425.8 185.3h0M422.9 186.9h0M431.5 187.1h0M422.0 188.5h0M440.4 185.8h0M422.7 199.8h0M434.9 186.1h0M435.6 191.6h0M422.0 186.9h0M422.7 193.1h0M422.5 200.2h0M427.5 190.2h0M436.8 191.2h0M429.6 195.0h0M423.4 196.0h0M439.3 191.9h0M436.2 189.4h0M433.9 192.8h0M432.4 181.3h0M425.9 200.1h0M430.9 195.2h0M433.6 189.9h0M428.3 193.7h0M424.5 198.8h0M432.8 189.6h0M429.9 189.4h0M433.6 180.8h0M421.1 197.0h0M434.0 180.5h0M426.3 192.6h0M435.9 192.1h0M434.8 193.0h0M425.3 186.9h0M418.8 198.1h0M430.7 190.5h0M430.6 191.8h0M418.4 187.8h0M425.1 186.1h0M440.9 182.8h0" stroke="#f4f4f8" stroke-width="1.0" stroke-linecap="round" fill="none"/>
<path d="M473.5 187.3h0M480.0 196.7h0M474.0 181.9h0M469.9 189.1h0M479.1 190.4h0M476.8 185.8h0M469.5 201.2h0M480.6 207.9h0M478.6 197.6h0M478.6 199.5h0M478.4 182.2h0M478.8 209.6h0M471.8 191.3h0M474.8 189.1h0M471.5 205.1h0M474.7 182.1h0M471.4 198.3h0M470.3 208.6h0M474.8 189.5h0M469.2 189.7h0M479.7 205.0h0M471.7 206.4h0M473.4 197.0h0M478.5 186.6h0M474.7 196.8h0M476.6 208.1h0M477.3 190.0h0M480.0 193.6h0M475.8 186.5h0M475.6 199.0h0M475.0 195.3h0M475.4 187.6h0M467.5 204.1h0M479.3 199.8h0M477.9 193.7h0M479.9 196.1h0M472.5 182.5h0M470.4 210.5h0M470.5 199.2h0M473.2 190.0h0M469.7 188.4h0M473.8 189.5h0M479.3 189.6h0M480.5 202.3h0M475.5 186.9h0M468.6 205.4h0M467.2 206.6h0M478.0 188.1h0M470.3 193.0h0M469.7 196.1h0M471.4 183.8h0M478.4 210.3h0M475.5 191.3h0M477.0 188.4h0M480.1 200.1h0M469.6 202.2h0M473.5 195.2h0M472.3 193.0h0M472.9 206.8h0M479.7 203.1h0M471.4 209.4h0M479.9 209.2h0M477.3 186.8h0M469.8 187.6h0M470.7 187.7h0M478.9 205.3h0M476.2 185.6h0M476.6 199.0h0M475.7 193.0h0M475.7 205.0h0M472.6 183.2h0M473.0 194.5h0M476.5 183.2h0M480.4 185.9h0M476.8 197.0h0M476.0 210.0h0M476.4 183.0h0M473.9 202.2h0M475.9 202.8h0M474.5 201.4h0M480.1 209.0h0M476.2 197.9h0M476.6 193.1h0M474.8 203.5h0M469.2 187.0h0M475.8 199.5h0M469.3 199.8h0M473.5 208.7h0M472.8 211.3h0M470.4 194.4h0M475.1 194.7h0M472.3 211.4h0M479.7 195.0h0M468.9 188.3h0M472.8 203.9h0M471.2 204.1h0M479.8 185.9h0M470.2 197.4h0M473.5 189.5h0M470.5 208.0h0M476.1 187.9h0M468.3 194.9h0M477.6 187.2h0M475.9 206.7h0M469.6 200.6h0M475.6 207.1h0M471.2 202.8h0M477.6 195.3h0M476.8 194.5h0M476.7 182.4h0M473.7 181.7h0M470.3 183.0h0M473.7 199.7h0M472.3 201.8h0M478.6 203.2h0M479.2 191.0h0M470.1 207.4h0M477.7 194.5h0M470.9 198.0h0M474.7 198.1h0M472.9 198.5h0M479.0 205.1h0M467.9 201.6h0M471.6 181.7h0M472.5 211.7h0M480.2 195.9h0M478.8 202.8h0" stroke="#f0b0c0" stroke-width="3.6" stroke-linecap="round" fill="none"/>
<path d="M478.7 183.8h0M479.7 206.2h0M471.8 208.3h0M467.7 198.2h0M480.9 198.3h0M475.0 205.5h0M473.3 187.1h0M475.7 191.1h0M474.7 185.4h0M479.7 192.7h0M481.6 190.5h0M475.2 202.0h0M473.6 210.5h0M470.5 180.9h0M478.0 200.4h0M470.6 206.9h0M474.2 198.1h0M466.8 205.8h0M479.0 207.4h0M478.3 188.1h0M479.9 191.2h0M482.6 201.4h0M465.9 201.6h0M480.3 194.4h0M478.0 198.4h0M471.5 212.7h0M473.0 213.2h0M480.0 192.0h0M473.9 209.8h0M478.2 208.7h0M478.8 196.7h0M473.6 181.0h0M472.1 209.0h0M478.7 196.4h0M480.6 207.5h0M472.5 211.1h0M478.0 200.8h0M475.9 203.3h0M471.4 206.8h0M473.8 187.8h0M471.1 186.2h0M478.3 201.8h0M469.1 205.2h0M481.2 199.2h0M469.3 191.3h0M472.7 200.6h0M477.3 205.1h0M473.8 198.8h0M475.7 193.9h0M477.5 192.4h0M470.6 194.1h0M478.5 200.1h0M476.5 183.7h0M472.8 190.9h0M474.4 180.6h0M467.2 196.3h0M469.2 196.6h0M478.1 205.1h0M474.0 200.6h0M480.3 181.1h0M472.4 188.5h0M473.7 179.2h0M480.5 193.7h0M470.8 186.6h0M469.4 184.8h0M474.5 186.4h0M476.5 189.5h0M476.1 198.2h0M477.6 189.8h0M471.0 182.0h0M475.5 201.7h0M477.9 210.0h0M472.3 184.7h0M469.2 182.1h0M476.0 186.4h0M469.8 185.2h0M471.6 191.7h0M480.0 194.0h0M481.6 203.8h0M480.2 197.4h0M467.7 200.1h0M480.0 204.6h0M476.9 194.0h0M480.2 202.0h0M473.3 212.1h0M472.8 194.3h0M474.9 200.2h0M470.0 208.3h0M477.8 193.8h0M474.8 187.3h0M481.4 188.8h0M471.6 197.8h0M476.3 194.8h0M473.4 197.4h0M471.4 184.7h0M470.1 209.6h0M470.7 196.8h0M478.1 198.8h0M476.5 193.5h0M466.3 203.3h0M472.5 189.4h0M481.3 189.6h0M480.1 193.8h0M478.9 211.9h0M481.2 205.5h0M467.1 207.5h0M466.0 206.1h0M474.5 188.6h0M478.0 208.0h0M480.6 184.3h0M477.1 184.6h0M476.8 202.1h0M480.2 190.8h0M471.5 205.2h0M472.6 195.8h0M471.9 205.2h0M471.0 196.5h0M474.6 188.9h0M475.1 206.9h0M471.7 190.1h0M469.4 192.5h0M474.6 200.2h0M478.1 209.7h0M467.7 204.6h0M471.6 189.8h0M474.4 204.0h0M473.1 208.5h0M469.8 189.0h0M481.9 207.4h0M476.2 202.5h0M470.2 205.2h0M481.0 201.0h0M477.4 205.8h0M476.4 196.9h0M474.9 183.9h0M474.6 210.1h0M471.3 187.7h0M471.4 195.5h0M477.1 198.1h0M474.4 212.7h0M469.1 191.3h0M474.7 208.0h0M477.5 183.8h0M478.0 195.7h0M480.6 182.5h0M474.8 183.9h0M474.1 196.7h0M480.2 209.6h0M476.1 202.0h0M472.9 187.8h0M472.9 209.9h0M476.5 203.6h0M474.3 188.2h0M472.0 182.6h0M474.7 193.0h0M469.5 185.0h0M467.8 197.1h0M477.4 191.4h0M468.5 193.7h0M467.8 197.1h0M477.8 187.3h0M471.1 193.8h0M478.4 203.0h0M478.1 187.3h0M480.6 205.2h0M473.8 190.1h0M472.0 211.5h0M478.4 180.7h0M467.9 203.5h0M471.2 189.7h0M476.7 206.7h0M476.7 181.1h0M478.4 204.3h0M469.9 196.2h0M470.0 181.2h0M469.7 184.3h0M470.5 194.7h0M471.1 190.2h0M470.1 194.3h0M480.3 208.1h0M473.1 194.9h0M474.5 206.9h0M479.2 187.4h0M468.1 185.9h0M471.4 189.3h0M473.1 206.3h0M472.3 199.5h0M474.1 212.7h0M475.4 198.0h0M479.7 197.9h0M480.2 192.9h0M473.4 210.1h0M467.4 205.9h0M474.0 200.2h0M469.5 186.9h0M479.4 197.4h0M470.7 204.6h0M471.1 194.4h0M477.4 210.0h0M475.1 182.4h0M472.1 196.9h0M480.2 210.0h0M468.2 196.3h0M468.6 210.8h0M474.2 182.9h0M470.4 211.1h0M482.8 204.8h0M476.3 180.2h0M473.3 189.5h0M480.2 199.3h0M472.9 179.8h0M475.1 197.9h0M476.1 196.8h0M467.6 200.2h0M473.0 197.7h0M470.5 203.1h0M474.5 191.3h0M481.8 202.9h0M475.4 184.5h0M475.5 190.2h0M475.8 207.4h0M474.3 191.2h0M479.4 186.1h0M477.1 207.7h0M476.2 195.4h0M471.4 202.8h0M475.1 210.7h0M473.5 205.2h0M478.2 196.6h0M471.4 211.5h0M469.9 185.5h0M479.5 184.3h0M475.7 188.0h0M478.7 206.5h0M468.7 194.4h0M478.7 180.5h0M468.9 207.3h0M479.4 197.0h0M478.7 206.0h0M475.5 190.1h0M466.3 204.8h0M475.1 197.9h0M479.6 201.8h0M478.3 188.7h0M467.1 195.3h0M474.0 182.8h0M478.7 191.4h0M472.3 201.8h0M474.1 183.4h0M474.1 204.2h0M477.8 193.5h0M471.2 205.0h0M479.1 193.9h0M472.2 205.3h0M479.6 183.1h0M477.7 199.3h0M476.3 193.7h0M473.2 184.6h0M473.7 212.9h0M471.8 203.3h0M471.2 208.3h0M477.5 181.9h0M476.4 205.1h0M478.7 201.3h0M469.2 186.2h0M469.9 181.5h0M470.7 185.4h0M471.5 181.8h0M472.2 203.8h0M477.5 179.1h0M480.6 189.4h0M474.8 179.9h0M481.1 200.4h0M472.9 191.5h0M471.2 206.5h0M475.4 203.1h0M468.3 199.2h0M474.0 200.8h0M474.5 196.5h0" stroke="#cc2452" stroke-width="1.0" stroke-linecap="round" fill="none"/>
<path d="M473.4 203.3h0M472.7 180.7h0M476.0 189.4h0M470.8 188.3h0M472.0 209.7h0M475.5 190.8h0M480.3 201.3h0M471.0 184.4h0M469.5 195.7h0M479.2 211.0h0M471.8 190.7h0M471.5 189.4h0M468.6 200.1h0M475.0 202.9h0M472.2 185.1h0M469.4 196.3h0M474.2 181.6h0M471.0 193.5h0M479.3 194.4h0M479.2 188.4h0M474.1 209.3h0M470.6 194.4h0M470.6 180.2h0M471.4 200.9h0M470.7 205.5h0M479.7 184.7h0M478.6 190.1h0M479.6 186.9h0M468.9 194.0h0M478.4 187.7h0M474.4 178.2h0M477.6 197.3h0M480.2 198.8h0M477.8 182.2h0M469.1 201.9h0M471.8 195.5h0M470.0 211.9h0M469.1 203.8h0M479.0 195.7h0M474.6 204.9h0M475.9 197.0h0M472.1 197.6h0M467.1 195.9h0M471.7 179.8h0M467.9 198.6h0M476.2 203.3h0M471.4 198.4h0M470.6 197.1h0M480.4 193.6h0M470.9 194.7h0M479.9 198.4h0M472.2 208.9h0M472.6 204.4h0M470.6 210.7h0M467.8 208.2h0M477.7 210.8h0M478.7 191.7h0M474.9 185.4h0M476.1 190.1h0M474.0 185.6h0M473.1 190.4h0M478.9 202.6h0M477.3 209.6h0M471.5 201.1h0M468.7 184.7h0M480.9 191.5h0M468.7 184.7h0M473.0 181.9h0M479.9 182.5h0M473.3 182.9h0M471.8 203.8h0M475.7 203.6h0M475.7 186.1h0M479.1 210.9h0M474.5 204.8h0M480.9 206.9h0M471.4 210.1h0M471.2 194.5h0M470.7 207.2h0M478.5 210.4h0M480.3 181.8h0M476.9 205.2h0M482.5 205.1h0M477.0 197.8h0M476.5 197.9h0M476.4 195.3h0M468.0 207.1h0M474.5 181.9h0M471.1 209.2h0M468.2 194.0h0M472.3 180.9h0M469.0 185.4h0M472.7 209.0h0M474.8 201.0h0M471.9 199.0h0M478.3 193.3h0M468.6 206.7h0M474.8 194.2h0M474.6 191.4h0M468.0 186.2h0M472.5 206.0h0M474.2 201.1h0M481.3 187.1h0M481.9 195.0h0M475.7 179.3h0M478.0 180.8h0M482.6 203.5h0M472.7 209.9h0M482.5 206.4h0M475.5 210.7h0M474.4 179.0h0M469.6 184.3h0M467.4 205.6h0M475.0 200.2h0M472.8 180.2h0M478.7 186.9h0M471.3 194.2h0M472.2 182.1h0M477.3 203.4h0M480.5 196.1h0M475.7 184.1h0M474.7 198.1h0" stroke="#9c1440" stroke-width="1.0" stroke-linecap="round" fill="none"/>
<path d="M474.0 202.5h0M482.1 200.4h0M471.4 199.0h0M467.3 199.7h0M475.6 197.0h0M479.8 188.0h0M473.2 210.9h0M467.6 200.4h0M477.9 186.9h0M469.9 199.0h0M470.3 203.6h0M478.8 209.9h0M474.1 203.1h0M467.7 197.5h0M474.5 183.0h0M476.1 185.9h0M472.4 209.3h0M476.5 181.9h0M477.3 184.9h0M472.8 184.0h0M477.6 196.9h0M472.9 186.8h0M476.3 186.9h0M468.7 185.7h0M474.5 185.5h0M468.0 185.1h0M471.6 192.6h0M473.6 184.5h0M473.7 203.8h0M466.8 208.7h0M475.8 205.9h0M470.6 181.1h0M471.2 209.7h0M471.8 185.2h0M475.0 182.8h0M475.9 181.8h0M480.6 189.1h0M476.8 185.3h0M468.3 196.7h0M476.1 196.4h0M479.0 182.9h0M467.7 200.9h0M472.7 200.1h0M469.5 188.2h0M472.7 211.1h0M476.0 187.0h0M465.9 206.1h0M479.0 207.7h0M475.2 186.8h0M476.2 179.2h0M478.0 186.7h0M474.6 203.3h0M481.9 205.4h0M475.8 195.0h0M472.5 192.6h0" stroke="#fff" stroke-width="1.0" stroke-linecap="round" fill="none"/>
<path d="M251.7 39.5h0M259.8 31.2h0M257.8 39.2h0M260.3 35.5h0M261.1 36.8h0M259.7 33.1h0M258.0 31.9h0M263.7 31.5h0M263.3 35.2h0M255.7 33.1h0M258.3 35.6h0M251.7 35.9h0M251.1 37.1h0M259.8 35.9h0M255.8 34.3h0M252.5 36.0h0M255.5 34.1h0M262.4 31.1h0M254.9 40.1h0M257.4 34.2h0M256.4 39.8h0M260.2 32.3h0M261.9 30.5h0M257.1 39.6h0M259.1 32.4h0M258.7 34.3h0M257.2 33.3h0M254.8 35.3h0M258.0 35.6h0M261.2 36.5h0M254.5 36.6h0" stroke="#f4a450" stroke-width="3.6" stroke-linecap="round" fill="none"/>
<path d="M260.7 38.7h0M265.2 32.4h0M263.0 33.3h0M254.6 35.4h0M251.3 36.7h0M253.2 33.9h0M256.6 38.7h0M254.0 39.7h0M262.4 35.1h0M262.4 35.0h0M263.2 36.2h0M259.1 34.0h0M255.7 38.8h0M264.6 31.3h0M255.4 35.6h0M254.5 35.2h0M250.7 38.3h0M262.1 29.2h0M253.9 37.1h0M257.5 32.8h0M264.7 31.9h0M261.3 31.1h0M259.4 39.3h0M255.6 36.5h0M259.0 32.2h0M255.5 37.7h0M264.8 34.5h0M256.5 37.8h0M260.4 36.8h0M255.8 35.7h0M259.6 34.6h0M260.7 36.1h0M255.4 35.7h0M259.5 35.3h0M254.7 37.0h0M258.0 37.7h0M252.9 36.8h0M255.9 37.1h0M252.8 35.9h0M261.1 38.0h0M260.7 34.7h0M251.8 36.0h0M254.7 34.5h0M254.2 37.8h0M257.2 31.1h0M251.9 36.8h0M254.6 35.0h0M257.7 35.1h0M261.5 35.8h0M250.6 40.1h0M257.2 37.7h0M251.2 35.5h0M256.7 40.0h0M257.9 36.6h0M260.6 37.7h0M261.3 29.9h0M258.3 32.6h0M262.4 34.2h0M260.2 31.3h0M256.0 33.6h0M258.8 37.2h0M263.1 36.5h0M264.4 31.6h0M257.9 34.3h0M255.1 32.7h0" stroke="#f08418" stroke-width="1.0" stroke-linecap="round" fill="none"/>
<path d="M256.1 37.2h0M258.9 30.6h0M252.6 36.6h0M258.2 36.5h0M255.1 38.4h0M259.4 39.2h0M259.7 34.4h0M259.2 38.2h0M257.2 37.5h0M253.3 41.0h0M259.1 36.1h0M258.2 31.8h0M264.8 30.9h0M260.1 33.5h0M263.0 29.4h0M260.2 33.8h0M252.0 34.5h0M251.5 39.0h0M264.5 33.9h0M252.0 39.7h0M256.1 32.5h0M259.9 32.3h0M256.0 38.2h0M260.9 32.9h0M259.0 31.2h0M255.8 35.9h0M261.8 35.2h0M264.2 34.3h0M263.5 35.5h0" stroke="#dc7008" stroke-width="1.0" stroke-linecap="round" fill="none"/>
<path d="M264.1 29.9h0M258.5 33.0h0M255.9 38.2h0M261.3 33.8h0M253.7 36.0h0M253.6 40.1h0M261.6 37.4h0M255.2 32.8h0M264.6 31.5h0" stroke="#fbd0a0" stroke-width="1.0" stroke-linecap="round" fill="none"/>
<path d="M253.4 55.9h0M256.9 57.5h0M256.0 49.3h0M254.3 51.7h0M264.4 60.6h0M252.0 49.1h0M260.5 58.0h0M260.4 59.8h0M256.9 61.1h0M256.5 52.7h0M258.7 49.8h0M253.0 48.2h0M256.1 51.4h0M254.9 60.8h0M261.3 58.6h0M265.4 64.0h0M259.2 50.8h0M257.5 59.1h0M255.7 56.7h0M253.4 60.7h0M253.3 59.6h0M258.7 46.9h0M261.1 49.6h0M257.3 46.3h0M261.8 55.5h0M264.8 60.0h0M263.2 58.1h0M261.1 55.8h0M253.8 49.0h0M259.8 49.5h0M252.2 56.1h0M257.1 58.7h0M258.9 52.1h0M257.8 46.7h0M258.0 47.4h0M259.5 59.7h0M260.0 51.4h0M265.2 61.7h0M262.6 56.4h0M259.1 58.5h0M256.1 56.3h0M259.2 57.8h0M263.0 61.6h0M263.6 61.0h0M260.2 56.0h0M254.7 61.0h0M262.1 60.2h0M255.0 58.4h0M259.6 60.1h0" stroke="#b0b0b0" stroke-width="3.6" stroke-linecap="round" fill="none"/>
<path d="M254.0 61.5h0M258.5 47.7h0M260.9 56.3h0M254.6 54.8h0M261.6 57.9h0M256.2 56.5h0M260.1 62.6h0M257.9 59.0h0M257.5 47.2h0M256.8 53.5h0M258.9 62.1h0M255.5 45.6h0M256.6 46.3h0M253.4 61.2h0M256.8 58.8h0M262.1 58.9h0M258.9 56.8h0M254.0 59.4h0M255.3 57.0h0M253.5 51.1h0M251.9 60.8h0M260.6 59.4h0M256.0 49.6h0M250.6 56.7h0M257.4 57.9h0M254.2 52.3h0M265.1 58.4h0M253.6 59.7h0M252.9 48.4h0M262.9 59.3h0M265.1 63.5h0M258.6 62.4h0M256.9 45.5h0M260.1 57.8h0M251.2 50.2h0M257.6 63.0h0M257.8 59.6h0M262.2 62.8h0M261.6 60.9h0M259.3 57.5h0M257.5 49.9h0M252.0 48.0h0M253.3 54.5h0M258.3 59.1h0M255.8 57.5h0M256.0 57.5h0M253.0 48.2h0M257.3 47.4h0M254.3 58.6h0M260.7 59.4h0M252.8 47.8h0M259.2 47.1h0M257.2 55.0h0M266.5 63.3h0M254.6 56.5h0M257.0 52.0h0M254.2 62.3h0M258.6 55.1h0M254.7 57.4h0M254.3 49.1h0M253.9 55.5h0M257.1 58.1h0M251.8 49.6h0M254.7 51.7h0M263.0 62.2h0M258.3 58.4h0M264.4 61.2h0M265.5 59.6h0M253.9 53.9h0M250.7 60.2h0M252.8 52.2h0M253.4 60.2h0M265.0 60.7h0M262.4 60.7h0M251.5 51.0h0M253.9 48.2h0M250.8 55.2h0M264.9 57.1h0M258.1 45.5h0M259.1 48.5h0M252.9 46.8h0M263.1 60.2h0M259.1 47.3h0M259.8 54.9h0M265.2 58.1h0M255.0 61.6h0M262.9 61.3h0M261.3 49.0h0M253.7 50.2h0M256.3 61.9h0M255.5 53.4h0M256.0 58.4h0M253.6 51.2h0M266.1 60.9h0" stroke="#707070" stroke-width="1.0" stroke-linecap="round" fill="none"/>
<path d="M258.8 46.5h0M253.6 58.7h0M264.8 57.6h0M252.0 49.3h0M256.6 50.2h0M249.2 58.1h0M264.8 57.5h0M257.7 50.0h0M253.7 57.9h0M253.3 48.9h0M256.9 51.4h0M249.2 55.6h0M255.6 55.7h0M255.3 47.2h0M253.9 51.7h0M265.6 65.4h0M251.8 49.8h0M257.8 58.2h0M253.8 46.7h0M259.8 61.3h0M250.4 55.2h0M258.2 58.0h0M260.0 60.8h0M250.0 55.8h0M253.5 49.6h0M255.9 58.7h0M257.7 60.0h0M260.7 47.9h0M258.5 58.7h0M254.2 59.4h0M266.1 59.4h0M253.7 46.4h0M253.8 48.8h0M259.4 49.0h0M257.3 60.0h0M257.8 48.4h0M261.4 55.0h0" stroke="#585858" stroke-width="1.0" stroke-linecap="round" fill="none"/>
<path d="M259.9 46.6h0M252.2 49.9h0M250.1 55.3h0M253.0 54.2h0M250.4 58.7h0M263.7 59.4h0M258.8 55.3h0M264.9 60.9h0M255.6 46.5h0M257.0 58.9h0M260.4 57.3h0M255.6 57.5h0M251.5 51.1h0M264.6 64.0h0M250.4 59.2h0M261.7 49.4h0M262.5 59.9h0M257.6 46.7h0" stroke="#e8e8e8" stroke-width="1.0" stroke-linecap="round" fill="none"/>
<path d="M228.6 66.8h0M232.2 65.4h0M232.8 69.3h0M231.8 65.9h0M227.8 64.2h0M228.9 66.1h0M228.2 64.4h0M226.3 66.9h0M230.6 68.0h0M232.8 61.6h0M226.7 64.1h0M226.9 67.9h0M227.8 62.1h0M230.2 66.4h0M231.3 65.3h0M231.8 61.2h0M232.6 67.4h0M226.7 69.5h0M234.2 67.2h0M228.1 70.4h0M228.7 63.5h0M230.7 68.1h0" stroke="#70cce8" stroke-width="3.6" stroke-linecap="round" fill="none"/>
<path d="M226.4 71.4h0M227.7 63.0h0M228.1 63.6h0M228.1 61.9h0M234.0 64.5h0M234.3 64.4h0M226.5 71.1h0M231.6 61.1h0M233.1 61.2h0M226.9 68.8h0M232.8 65.0h0M232.7 65.0h0M230.6 60.3h0M230.4 64.5h0M231.0 68.5h0M233.0 67.1h0M231.6 66.3h0M234.9 68.3h0M230.3 60.2h0M230.7 68.4h0M229.5 63.2h0M228.5 69.3h0M227.9 66.0h0M234.8 66.1h0M230.0 70.6h0M226.4 68.1h0M228.9 68.8h0M227.2 70.4h0M228.4 62.7h0M229.0 62.2h0M232.3 67.9h0M232.5 67.4h0M228.4 65.2h0M232.4 62.2h0M228.1 61.8h0M228.6 65.5h0M227.7 61.9h0M227.5 62.1h0M226.0 63.0h0M227.8 61.1h0M231.6 65.7h0M227.8 69.3h0M232.3 65.5h0M227.8 66.1h0M227.4 64.9h0M228.3 67.2h0M229.0 61.3h0M230.2 70.4h0M226.6 66.1h0M232.3 60.9h0M226.6 72.1h0" stroke="#22b0d8" stroke-width="1.0" stroke-linecap="round" fill="none"/>
<path d="M231.9 60.4h0M231.5 69.5h0M226.6 66.1h0M232.9 61.3h0M232.0 61.9h0M231.7 64.8h0M232.0 63.0h0M227.5 61.8h0M232.8 69.3h0M227.8 68.8h0M229.4 62.0h0M227.4 66.0h0M226.4 65.6h0M228.8 69.2h0M231.7 63.9h0M234.9 63.4h0M230.2 69.3h0" stroke="#1494c0" stroke-width="1.0" stroke-linecap="round" fill="none"/>
<path d="M225.3 79.6h0M211.3 87.3h0M211.2 86.8h0M232.6 81.9h0M209.7 82.0h0M232.2 80.6h0M217.9 85.9h0M216.4 80.9h0M212.5 88.8h0M231.7 76.7h0M225.3 79.6h0M227.1 77.8h0M218.3 80.1h0M230.6 83.1h0M229.3 78.5h0M214.6 83.9h0M222.0 80.2h0M216.7 89.5h0M225.0 80.8h0M230.3 83.7h0M212.2 84.8h0M223.8 82.6h0M225.9 78.5h0M222.7 85.8h0M220.0 83.4h0M214.9 87.4h0M227.4 76.5h0M230.9 81.4h0M226.7 76.7h0M223.5 79.3h0M210.9 82.1h0M232.7 80.6h0M226.3 77.7h0M226.1 81.1h0M213.9 86.9h0M215.8 83.7h0M217.0 88.0h0M215.8 79.0h0M215.2 83.0h0M222.0 85.6h0M211.4 85.6h0M210.6 87.9h0M229.6 75.8h0M228.1 77.8h0M223.2 81.3h0M212.8 79.7h0M218.3 86.1h0M231.1 77.6h0M219.1 81.1h0M224.9 84.7h0M225.8 82.1h0M216.9 89.4h0M221.0 81.1h0M228.0 84.0h0M219.0 87.7h0M231.6 79.6h0M225.0 83.4h0M217.1 84.6h0M224.4 84.1h0M215.5 89.2h0M219.5 85.7h0M214.5 81.1h0M215.1 89.9h0M220.3 86.3h0M210.6 82.7h0M231.8 79.3h0M216.9 84.4h0M230.4 78.8h0M213.8 83.6h0M220.7 87.7h0M215.6 84.2h0" stroke="#f6cce0" stroke-width="3.6" stroke-linecap="round" fill="none"/>
<path d="M230.2 81.2h0M212.5 90.4h0M209.9 87.0h0M217.1 90.2h0M219.0 86.4h0M226.1 76.0h0M221.9 83.3h0M230.8 80.3h0M232.6 76.9h0M217.6 89.3h0M231.5 79.1h0M214.6 80.2h0M223.4 80.2h0M212.7 88.7h0M228.7 84.5h0M209.2 83.5h0M216.5 88.7h0M219.5 83.4h0M220.5 82.2h0M219.1 85.6h0M209.2 83.4h0M212.1 80.0h0M216.9 82.6h0M216.2 79.7h0M224.3 85.6h0M225.1 78.3h0M217.8 83.4h0M227.1 81.1h0M212.7 83.5h0M225.0 77.0h0M233.6 81.5h0M229.9 84.6h0M229.3 81.1h0M224.0 83.6h0M231.1 80.4h0M233.4 82.6h0M224.0 78.2h0M224.4 79.4h0M210.8 85.0h0M231.2 77.0h0M218.6 87.7h0M215.8 81.9h0M211.7 78.5h0M230.1 83.3h0M212.5 82.7h0M220.0 84.0h0M217.6 88.2h0M221.6 83.3h0M224.3 79.7h0M212.5 79.1h0M214.8 84.7h0M212.3 90.0h0M224.0 79.6h0M230.6 80.1h0M215.8 89.5h0M225.5 78.3h0M231.1 79.1h0M215.9 86.1h0M216.6 78.4h0M218.1 79.1h0M214.1 86.4h0M211.9 82.9h0M215.4 87.1h0M214.1 86.3h0M208.9 86.5h0M213.0 79.0h0M233.8 80.0h0M208.8 84.3h0M218.6 80.7h0M230.4 77.7h0M217.4 84.4h0M222.7 80.7h0M214.7 88.3h0M213.5 90.2h0M222.0 83.1h0M212.2 79.9h0M225.4 81.9h0M226.5 77.1h0M212.7 77.7h0M217.2 89.4h0M220.8 87.4h0M213.6 83.0h0M232.3 82.4h0M225.1 82.4h0M216.0 89.3h0M221.1 84.9h0M212.4 79.6h0M220.8 83.4h0M229.4 81.6h0M210.3 84.7h0M229.8 81.2h0M229.5 78.7h0M223.2 80.4h0M214.4 78.6h0M228.1 77.6h0M217.2 84.6h0M215.4 86.3h0M230.0 81.4h0M234.1 80.8h0M213.1 82.1h0M211.3 82.7h0M215.1 91.2h0M211.7 82.9h0M223.8 82.3h0M208.4 83.3h0M223.5 82.4h0M226.4 75.6h0M222.7 83.8h0M216.9 86.1h0M212.6 80.1h0M211.3 85.3h0M217.3 84.7h0M218.9 83.3h0M232.3 78.8h0M226.2 84.1h0M217.0 79.5h0M210.8 82.6h0M213.5 87.1h0M230.5 78.9h0M216.8 88.9h0M227.4 79.3h0M211.6 84.7h0M213.9 77.4h0M220.0 82.3h0M213.3 84.2h0M231.4 84.1h0M228.8 77.2h0M210.8 89.7h0M224.0 77.8h0M208.8 87.2h0M212.9 83.8h0M211.5 89.5h0M229.3 84.3h0M226.2 82.7h0M220.0 86.4h0M217.0 85.5h0M224.2 81.4h0M227.6 77.0h0M213.4 80.4h0M219.1 81.3h0M231.0 82.4h0M228.0 75.3h0M211.7 80.2h0M213.1 77.6h0M220.5 85.8h0M215.5 81.3h0M217.7 84.4h0M214.2 78.7h0M209.3 85.2h0" stroke="#f0aacb" stroke-width="1.0" stroke-linecap="round" fill="none"/>
<path d="M220.5 80.7h0M213.9 78.1h0M225.9 77.8h0M220.1 83.7h0M212.0 85.1h0M213.6 80.2h0M218.6 79.4h0M214.9 82.0h0M218.9 84.9h0M212.4 82.8h0M208.6 85.9h0M210.2 83.2h0M211.1 86.8h0M220.3 86.0h0M223.2 77.9h0M220.1 83.5h0M213.7 85.8h0M212.8 83.1h0M216.1 82.4h0M225.4 80.9h0M221.5 80.7h0M218.0 80.0h0M214.9 91.2h0M232.7 80.8h0M226.8 80.3h0M218.4 79.9h0M229.2 77.8h0M227.4 82.0h0M218.1 84.0h0M232.6 82.3h0M218.9 81.3h0M228.4 80.4h0M226.9 82.5h0M212.9 82.6h0M221.7 85.9h0M214.1 80.2h0M225.5 81.8h0M218.7 90.6h0M222.4 80.2h0M225.3 80.8h0M221.0 81.3h0M210.5 79.7h0M216.5 86.2h0M210.6 87.2h0M213.9 87.3h0M219.7 87.5h0M228.8 82.1h0M231.6 77.2h0M213.7 79.9h0M222.8 80.2h0M218.4 80.7h0M212.8 79.4h0M227.4 80.2h0M218.7 80.0h0" stroke="#e898bc" stroke-width="1.0" stroke-linecap="round" fill="none"/>
<path d="M220.9 79.1h0M208.4 83.8h0M215.6 90.4h0M219.0 82.3h0M227.5 79.6h0M222.5 80.6h0M209.4 86.2h0M222.7 82.9h0M211.1 83.1h0M216.6 90.8h0M220.3 88.4h0M210.2 83.0h0M211.7 79.9h0M229.3 77.1h0M214.7 84.1h0M218.3 88.4h0M212.8 89.7h0M223.3 83.4h0M224.2 78.1h0M224.6 77.5h0M220.2 84.7h0" stroke="#fff" stroke-width="1.0" stroke-linecap="round" fill="none"/>
<path d="M274.1 82.4h0M277.9 76.6h0M272.1 81.4h0M273.3 77.9h0M276.1 73.4h0M281.0 77.5h0M279.3 75.8h0M279.4 74.9h0M278.0 76.6h0M279.6 83.2h0M275.7 82.0h0M277.8 77.1h0M281.2 83.0h0M275.9 83.0h0M280.0 77.9h0M275.1 72.6h0M284.3 76.5h0M283.7 77.8h0M272.1 76.8h0M278.5 81.7h0M273.0 80.1h0M276.7 71.3h0M281.9 74.3h0M273.5 82.9h0M278.8 83.3h0M282.4 73.4h0M276.8 81.9h0M273.8 79.2h0M278.1 84.4h0M276.9 79.0h0M272.2 74.4h0M283.1 79.9h0M274.1 79.3h0M276.2 77.9h0M280.8 81.5h0M278.6 75.4h0M279.3 73.4h0M278.7 82.3h0M277.2 71.5h0M282.4 74.9h0M279.7 73.5h0M278.7 81.7h0M279.1 81.6h0" stroke="#f8d6d6" stroke-width="3.6" stroke-linecap="round" fill="none"/>
<path d="M281.7 73.3h0M281.4 77.3h0M284.3 78.8h0M280.3 80.7h0M272.9 75.0h0M276.0 83.7h0M283.7 75.6h0M281.5 71.9h0M279.4 71.3h0M273.6 73.8h0M281.3 78.6h0M280.4 75.4h0M272.6 76.0h0M279.1 74.7h0M282.2 77.7h0M277.5 78.5h0M283.7 73.5h0M284.0 73.2h0M273.3 81.5h0M282.5 80.3h0M273.6 73.6h0M282.7 80.6h0M285.1 76.8h0M280.9 74.4h0M277.1 78.2h0M271.5 77.2h0M278.9 70.4h0M280.1 82.3h0M273.5 72.5h0M273.6 75.2h0M284.6 74.8h0M279.5 80.8h0M278.2 70.9h0M278.3 71.6h0M272.5 72.9h0M281.2 78.5h0M280.9 76.6h0M281.0 74.1h0M275.2 82.7h0M276.6 85.3h0M273.5 81.4h0M279.2 72.0h0M273.4 79.8h0M281.5 82.9h0M283.6 73.4h0M280.2 84.4h0M279.1 80.9h0M277.5 76.8h0M275.9 70.7h0M274.9 82.7h0M282.6 82.7h0M276.4 77.5h0M284.9 76.2h0M276.4 70.2h0M282.3 82.1h0M275.1 84.1h0M273.1 79.3h0M275.1 72.2h0M272.7 74.6h0M276.2 72.7h0M276.7 84.6h0M284.1 75.2h0M277.9 78.0h0M271.2 75.8h0M273.1 76.9h0M275.1 81.0h0M274.9 76.4h0M285.6 77.3h0M280.3 81.0h0M272.1 75.8h0M274.3 72.4h0M279.4 80.4h0M270.8 77.5h0M276.3 71.2h0" stroke="#f08a8a" stroke-width="1.0" stroke-linecap="round" fill="none"/>
<path d="M278.3 71.6h0M272.1 76.3h0M271.8 76.7h0M281.0 71.9h0M273.5 80.0h0M280.3 84.1h0M275.8 71.1h0M279.6 79.7h0M276.2 76.1h0M274.7 72.6h0M284.9 81.3h0M279.1 82.4h0M272.6 78.6h0M280.8 77.6h0M278.0 74.2h0M280.7 71.1h0M280.2 83.2h0M283.1 74.0h0M270.8 77.4h0M281.0 84.4h0M275.4 81.3h0M276.3 70.5h0M275.2 71.4h0M276.8 73.6h0M275.4 80.6h0M270.7 75.1h0M283.2 76.1h0M280.1 81.2h0M281.7 72.4h0M270.8 75.7h0M276.3 75.8h0M280.6 84.1h0M278.6 71.4h0" stroke="#e65c6c" stroke-width="1.0" stroke-linecap="round" fill="none"/>
<path d="M275.5 80.4h0M277.4 74.7h0M272.7 82.6h0M282.2 76.4h0M270.4 80.1h0M277.1 82.0h0M284.4 77.1h0M281.5 82.9h0M273.2 81.8h0M276.0 85.0h0M278.9 84.9h0M275.0 75.1h0M272.3 83.2h0M275.1 78.4h0M277.6 70.4h0M278.9 75.0h0" stroke="#fff" stroke-width="1.0" stroke-linecap="round" fill="none"/>
<path d="M272.4 79.6h0M268.6 82.4h0M268.7 81.6h0M273.2 83.3h0M272.8 81.8h0M273.8 82.4h0M272.2 83.7h0M271.6 83.3h0" stroke="#9070c0" stroke-width="3.6" stroke-linecap="round" fill="none"/>
<path d="M270.7 82.2h0M269.1 83.5h0M270.9 83.2h0M269.7 82.3h0M271.6 83.1h0M273.6 81.4h0M270.6 79.1h0M272.9 83.6h0M269.4 84.1h0M273.4 81.6h0M271.8 85.5h0M269.5 81.5h0M272.1 80.3h0M273.6 82.9h0M271.6 82.6h0M271.2 80.5h0M272.5 84.1h0M272.6 84.3h0M273.0 85.2h0M270.2 84.7h0M272.2 84.6h0M273.4 83.3h0M273.9 82.3h0" stroke="#6a3ca4" stroke-width="1.0" stroke-linecap="round" fill="none"/>
<path d="M276.1 95.0h0M270.3 92.8h0M275.9 102.1h0M277.8 93.6h0M270.4 93.1h0M271.1 96.9h0M271.2 93.2h0M273.4 100.5h0M274.3 101.2h0M272.9 100.5h0M273.9 92.4h0M271.7 97.0h0M275.4 92.1h0M278.9 100.1h0M272.1 97.5h0M269.3 92.2h0M270.5 91.9h0M273.3 88.1h0M280.4 97.7h0M281.1 94.7h0M278.3 90.7h0M269.2 94.7h0M273.3 93.3h0M276.9 99.9h0M271.9 101.8h0M271.8 99.0h0M271.0 96.0h0M270.8 100.6h0M271.6 100.9h0M274.7 99.4h0M274.4 95.3h0M275.0 92.1h0M268.5 96.0h0M276.2 100.0h0M270.7 91.5h0M268.1 93.8h0M274.9 98.6h0M271.7 94.8h0M275.8 100.8h0M271.7 92.7h0M269.8 95.2h0M276.9 88.6h0M274.5 92.4h0M276.5 99.7h0M268.7 94.1h0M272.4 92.8h0M279.3 92.7h0" stroke="#f8c890" stroke-width="3.6" stroke-linecap="round" fill="none"/>
<path d="M273.4 94.7h0M278.8 89.4h0M273.6 90.9h0M280.6 91.2h0M276.2 88.3h0M269.6 101.4h0M272.5 88.1h0M272.9 88.9h0M271.6 99.5h0M277.6 99.3h0M271.0 90.7h0M270.7 96.9h0M268.8 97.1h0M271.5 96.2h0M273.5 87.5h0M278.0 90.2h0M275.7 95.6h0M269.8 99.5h0M277.0 91.3h0M281.3 98.0h0M273.5 90.4h0M269.3 92.7h0M278.2 90.4h0M277.7 91.3h0M276.3 90.1h0M273.4 99.0h0M281.1 99.8h0M272.5 94.1h0M279.0 88.9h0M273.8 98.3h0M278.6 99.4h0M277.0 92.4h0M276.2 101.6h0M276.8 99.7h0M273.8 98.7h0M281.2 99.0h0M281.7 93.0h0M278.1 88.3h0M275.6 101.3h0M277.0 102.6h0M271.1 102.6h0M270.0 96.2h0M280.9 99.9h0M276.4 99.0h0M278.7 96.6h0M272.6 100.7h0M270.3 96.0h0M271.6 95.4h0M279.1 95.9h0M274.9 87.3h0M271.2 93.7h0M275.1 95.3h0M269.9 97.5h0M269.3 92.8h0M272.1 92.7h0M280.2 97.8h0M276.1 99.0h0M272.2 90.6h0M273.4 98.5h0M271.9 92.0h0M277.2 96.8h0M276.1 103.1h0M272.0 99.6h0M277.9 98.7h0M274.2 87.8h0M268.2 96.5h0M275.2 89.0h0M266.8 95.5h0M276.4 90.1h0M275.2 96.2h0M271.2 88.3h0M271.8 94.7h0M268.1 100.0h0M277.8 101.7h0M267.3 98.0h0M273.4 100.8h0M278.4 89.0h0M267.4 94.9h0M270.8 90.1h0M273.5 91.0h0M275.8 94.2h0M277.6 90.8h0M268.3 98.2h0M281.0 97.2h0M281.4 92.1h0M270.5 95.9h0M270.8 96.0h0M277.5 87.7h0M269.9 100.9h0" stroke="#f4b060" stroke-width="1.0" stroke-linecap="round" fill="none"/>
<path d="M281.4 93.4h0M279.7 94.7h0M277.9 97.8h0M275.3 99.2h0M273.8 88.6h0M275.4 91.3h0M279.0 92.1h0M279.1 97.4h0M278.5 91.3h0M271.8 97.8h0M272.1 91.3h0M273.5 97.0h0M276.1 100.5h0M279.9 92.6h0M280.3 93.6h0M269.9 101.2h0M276.9 97.2h0M271.2 90.0h0M278.7 100.6h0M272.7 90.6h0M275.2 95.4h0M274.6 94.7h0M273.0 94.9h0M273.5 88.7h0M278.5 101.7h0M269.7 99.2h0M280.2 92.3h0M270.1 98.5h0M281.2 90.8h0M269.7 95.1h0M273.3 94.7h0M279.2 98.0h0M275.2 102.7h0M269.1 92.0h0M282.0 96.7h0" stroke="#ee9c48" stroke-width="1.0" stroke-linecap="round" fill="none"/>
<path d="M273.8 100.0h0M279.8 96.5h0M275.9 98.8h0M272.5 100.9h0M270.3 101.4h0M269.3 98.4h0M273.8 97.9h0M280.1 93.3h0M281.2 93.1h0M278.4 94.6h0M274.8 91.0h0M268.6 95.0h0M276.5 87.7h0M276.4 93.0h0" stroke="#fde4c8" stroke-width="1.0" stroke-linecap="round" fill="none"/>
<path d="M282.3 91.2h0M279.2 92.5h0M279.0 94.2h0M283.1 95.8h0M280.0 92.0h0M280.7 93.6h0M282.0 91.6h0M282.6 94.2h0M281.8 96.8h0M281.1 92.3h0" stroke="#ccdcf0" stroke-width="3.6" stroke-linecap="round" fill="none"/>
<path d="M282.9 92.2h0M283.1 94.3h0M281.2 95.3h0M281.1 91.6h0M280.0 98.4h0M282.2 98.7h0M279.1 94.1h0M278.7 94.4h0M280.3 95.7h0M283.3 91.2h0M280.4 94.5h0M284.2 92.3h0M282.7 94.7h0M282.9 92.8h0M283.6 97.9h0M279.4 95.4h0M281.7 93.5h0M280.8 95.6h0M284.1 97.2h0M280.2 90.1h0M283.0 91.1h0M281.3 97.2h0M280.8 94.0h0M282.7 95.3h0" stroke="#a8c0e0" stroke-width="1.0" stroke-linecap="round" fill="none"/>
<path d="M332.4 422.7h0M336.2 417.0h0M339.3 419.2h0M338.3 419.6h0M339.1 421.8h0M334.3 426.9h0M333.2 416.1h0M331.5 425.1h0M338.7 425.0h0M339.0 417.7h0M331.7 426.9h0M331.9 424.3h0M329.7 419.6h0M341.2 423.7h0M339.0 425.5h0M339.6 420.9h0M338.0 419.1h0M339.6 417.8h0M341.7 421.2h0M330.3 420.6h0M333.6 417.1h0M329.4 422.2h0M332.6 421.6h0M332.2 421.3h0M336.4 425.6h0M331.8 417.0h0M333.7 426.3h0M334.8 427.7h0M334.9 420.9h0M335.8 416.7h0M338.8 427.1h0M340.6 418.4h0M330.4 422.9h0M329.7 422.6h0M337.3 416.7h0M338.3 422.7h0M333.0 417.6h0M334.3 419.1h0" stroke="#f0b0c0" stroke-width="3.6" stroke-linecap="round" fill="none"/>
<path d="M335.3 418.9h0M334.4 415.4h0M331.5 417.9h0M336.3 426.2h0M329.5 420.8h0M333.7 423.8h0M334.4 429.2h0M331.5 427.4h0M331.6 415.7h0M330.6 422.8h0M340.4 417.2h0M333.8 426.1h0M337.3 425.4h0M333.6 415.8h0M336.9 421.2h0M339.8 425.8h0M333.9 422.2h0M333.5 426.4h0M334.4 420.1h0M333.0 426.0h0M334.3 427.3h0M333.5 417.5h0M336.1 422.3h0M337.3 428.5h0M337.7 428.5h0M331.9 425.9h0M341.7 417.8h0M331.5 424.7h0M338.3 419.5h0M341.6 424.2h0M336.4 418.0h0M338.0 416.6h0M340.0 416.9h0M336.2 419.8h0M341.6 420.2h0M332.9 420.2h0M340.1 422.2h0M338.9 417.7h0M331.8 419.3h0M337.1 419.9h0M333.7 419.2h0M331.7 416.6h0M336.4 415.9h0M335.4 421.5h0M341.3 426.4h0M331.6 427.6h0M333.0 416.5h0M339.2 423.3h0M333.3 426.7h0M339.7 425.2h0M331.0 422.7h0M331.7 420.3h0M334.6 414.9h0M332.8 422.8h0M338.8 417.3h0M333.6 425.1h0M339.5 415.7h0M338.7 421.7h0M333.9 428.0h0M336.8 419.3h0M339.3 424.3h0M340.3 417.0h0M337.2 425.8h0M340.6 417.2h0M332.1 419.9h0M336.0 418.7h0M335.5 421.6h0M339.5 421.0h0M334.3 425.5h0M341.5 424.0h0M330.6 426.2h0M337.2 421.2h0M335.9 419.6h0M335.8 426.5h0M337.3 420.2h0M334.2 428.4h0M335.8 416.9h0M329.2 419.8h0M335.1 414.3h0M339.1 425.6h0M335.2 419.2h0M337.1 427.5h0M339.5 416.8h0M338.9 415.5h0" stroke="#cc2452" stroke-width="1.0" stroke-linecap="round" fill="none"/>
<path d="M331.3 419.3h0M341.1 424.9h0M335.9 420.4h0M342.3 423.1h0M336.4 423.7h0M334.4 415.4h0M334.8 428.1h0M335.1 425.7h0M331.4 423.0h0M336.0 414.2h0M334.6 416.8h0M332.1 420.2h0M338.1 424.9h0M340.9 422.2h0M329.7 419.9h0M337.3 425.5h0M340.6 426.9h0M338.8 427.2h0M329.2 422.4h0M329.8 420.4h0M330.9 416.7h0M333.5 424.9h0M333.4 425.8h0M333.9 416.2h0M330.7 423.5h0M335.3 427.9h0M337.1 418.1h0M330.1 422.4h0M341.6 417.8h0M336.5 417.2h0M335.8 419.2h0M341.1 422.8h0M336.4 417.6h0M331.8 419.1h0M331.7 417.6h0M341.6 420.2h0M332.8 423.3h0" stroke="#9c1440" stroke-width="1.0" stroke-linecap="round" fill="none"/>
<path d="M328.6 422.2h0M332.3 418.4h0M332.3 420.0h0M328.5 422.3h0M332.7 421.6h0M332.2 415.2h0M339.0 420.6h0M341.6 420.1h0M333.4 429.0h0M338.3 416.4h0M340.2 425.7h0M330.2 418.7h0M341.2 419.0h0M334.5 416.4h0M330.1 417.5h0M332.0 419.5h0" stroke="#fff" stroke-width="1.0" stroke-linecap="round" fill="none"/>
<path d="M356.0 421.2h0M360.1 424.7h0M365.1 415.3h0M353.8 419.5h0M351.5 429.9h0M350.9 423.2h0M354.2 419.2h0M352.3 417.6h0M359.5 416.0h0M353.9 427.6h0M353.0 422.3h0M348.1 420.1h0M351.2 424.9h0M350.3 424.8h0M348.0 420.3h0M357.6 421.5h0M353.9 430.7h0M351.8 424.6h0M349.3 416.1h0M353.0 423.2h0M349.0 426.6h0M354.3 426.0h0M358.7 416.7h0M361.9 416.4h0M361.1 416.0h0M357.6 425.7h0M354.5 418.8h0M354.7 425.4h0M361.7 414.9h0M349.6 424.6h0M348.0 419.3h0M349.9 422.3h0M348.8 425.1h0M349.7 420.4h0M358.2 419.7h0M356.0 427.9h0M355.5 423.7h0M351.1 426.8h0M351.8 416.3h0M357.9 419.9h0M359.8 424.3h0M349.7 423.1h0M356.3 416.3h0M362.6 414.9h0M355.7 417.1h0M348.8 429.0h0M352.4 429.1h0M359.4 424.7h0M351.8 430.2h0M350.7 427.1h0M356.8 418.4h0M359.0 421.8h0M354.2 418.6h0M351.8 417.0h0M355.6 418.8h0M346.0 421.0h0M355.5 423.3h0M362.1 414.2h0M356.0 423.9h0M350.6 430.7h0M353.8 420.1h0" stroke="#f0b0c0" stroke-width="3.6" stroke-linecap="round" fill="none"/>
<path d="M360.4 419.3h0M360.8 420.8h0M352.7 425.1h0M348.3 415.1h0M349.5 425.4h0M357.8 425.9h0M354.8 425.0h0M349.0 428.5h0M348.5 422.9h0M363.3 416.4h0M346.0 425.4h0M358.4 417.8h0M352.6 424.9h0M354.6 414.5h0M345.2 426.9h0M352.1 430.2h0M354.3 421.8h0M360.4 426.2h0M354.0 431.0h0M346.5 422.7h0M358.0 428.5h0M355.0 418.8h0M359.6 417.6h0M350.8 429.1h0M350.4 422.6h0M346.9 422.6h0M347.4 426.9h0M351.7 422.8h0M352.1 414.7h0M365.2 414.2h0M352.2 421.9h0M350.3 424.1h0M344.5 423.4h0M348.9 419.5h0M350.7 422.4h0M348.9 418.0h0M346.1 425.4h0M354.8 415.7h0M360.5 415.1h0M357.3 430.8h0M354.4 423.0h0M358.3 422.2h0M346.2 426.4h0M350.3 429.9h0M361.2 422.5h0M351.2 426.7h0M362.3 415.1h0M355.8 425.2h0M361.3 424.2h0M345.8 428.0h0M358.8 429.4h0M345.6 424.3h0M359.3 418.5h0M355.4 424.4h0M355.2 429.6h0M348.4 429.1h0M360.2 424.6h0M356.2 429.7h0M359.6 420.1h0M360.1 419.0h0M349.7 422.2h0M347.6 428.2h0M349.5 415.8h0M358.7 429.8h0M354.9 430.8h0M352.1 431.0h0M349.1 424.9h0M349.9 421.8h0M352.2 426.5h0M350.3 422.7h0M346.3 426.8h0M363.8 416.0h0M354.5 414.8h0M365.2 414.1h0M350.0 431.3h0M361.1 417.1h0M356.1 421.6h0M358.2 424.9h0M352.8 413.9h0M353.1 418.7h0M345.5 425.5h0M350.4 415.2h0M352.9 417.1h0M349.5 430.6h0M355.7 420.8h0M349.2 422.2h0M357.5 426.9h0M359.2 422.2h0M349.6 416.2h0M358.1 424.3h0M360.7 422.8h0M358.3 421.8h0M350.5 428.8h0M348.6 429.9h0M351.5 430.9h0M353.6 427.5h0M360.9 423.3h0M352.0 414.3h0M348.9 427.0h0M348.2 421.8h0M345.9 424.7h0M347.1 425.2h0M350.9 431.0h0M362.2 414.9h0M349.6 424.8h0M349.7 428.8h0M354.2 413.9h0M361.1 414.1h0M350.1 420.5h0M357.0 426.8h0M350.5 420.1h0M344.9 419.9h0M356.8 426.9h0M354.4 422.2h0M348.4 429.9h0M345.3 422.3h0M359.4 415.9h0M353.2 414.5h0M349.1 430.6h0M349.0 418.2h0M355.4 424.7h0M365.0 414.8h0M355.8 427.7h0M354.4 422.6h0M350.3 419.6h0M360.7 414.5h0M354.8 428.5h0M350.6 423.7h0M355.0 430.9h0M354.6 430.1h0M353.6 413.8h0M348.3 426.9h0M352.1 428.5h0" stroke="#cc2452" stroke-width="1.0" stroke-linecap="round" fill="none"/>
<path d="M345.5 421.9h0M351.3 430.6h0M351.4 423.8h0M354.6 418.2h0M354.6 425.2h0M349.4 427.9h0M354.9 418.8h0M347.3 418.8h0M352.6 426.5h0M354.8 416.1h0M346.7 426.3h0M359.0 424.3h0M350.8 430.8h0M355.1 430.9h0M351.4 414.5h0M349.7 425.5h0M351.1 423.6h0M348.2 419.3h0M347.3 416.4h0M346.5 417.8h0M356.1 428.5h0M355.1 414.2h0M346.8 420.2h0M358.0 427.0h0M359.5 419.6h0M359.9 420.3h0M359.5 427.9h0M351.9 418.4h0M345.8 426.8h0M349.4 414.8h0M360.8 415.8h0M359.7 416.4h0M347.8 419.3h0M346.3 428.4h0M347.8 421.8h0M347.9 428.0h0M363.7 414.6h0M350.7 427.1h0M349.8 419.7h0M348.5 416.9h0M358.2 429.5h0M348.9 418.0h0M347.8 430.3h0M352.5 416.6h0M346.1 419.1h0M356.2 431.0h0M360.8 420.1h0M349.4 419.0h0M354.0 415.4h0M357.9 418.6h0M355.2 428.9h0M345.6 421.6h0M361.1 425.0h0M354.8 415.4h0M364.1 415.6h0M356.1 430.3h0M349.9 419.5h0M358.8 427.1h0" stroke="#9c1440" stroke-width="1.0" stroke-linecap="round" fill="none"/>
<path d="M345.1 423.7h0M356.3 422.7h0M353.1 428.6h0M345.8 424.4h0M352.0 427.5h0M351.9 422.0h0M364.2 415.3h0M351.3 415.1h0M351.6 415.6h0M361.2 423.6h0M345.0 425.3h0M358.7 422.8h0M356.9 418.2h0M348.0 419.8h0M357.1 420.2h0M362.8 414.7h0M354.4 427.0h0M351.1 431.3h0M356.7 420.5h0M360.8 420.2h0M355.9 422.0h0M358.5 422.1h0M347.5 419.6h0M348.4 424.5h0M348.1 420.7h0M363.6 416.2h0" stroke="#fff" stroke-width="1.0" stroke-linecap="round" fill="none"/>
<path d="M334.0 438.3h0M333.2 440.7h0M334.4 435.2h0M332.6 438.5h0M333.9 441.6h0M335.9 437.9h0M339.0 434.0h0M329.9 437.7h0M334.5 432.5h0M331.0 439.5h0M335.2 441.5h0M334.5 440.4h0M331.1 438.6h0M332.2 439.5h0M340.2 436.4h0M331.0 436.4h0M331.8 433.4h0M331.0 437.7h0M338.4 439.2h0M335.7 435.9h0M329.7 437.6h0M336.0 439.1h0M330.3 435.1h0M340.6 438.4h0M332.5 435.2h0M332.9 437.4h0M340.8 439.4h0" stroke="#f0b0c0" stroke-width="3.6" stroke-linecap="round" fill="none"/>
<path d="M334.4 440.4h0M335.7 433.1h0M340.9 439.6h0M339.9 440.0h0M331.1 434.8h0M336.5 442.3h0M330.9 437.3h0M332.9 440.9h0M335.3 435.1h0M332.9 436.5h0M336.7 441.2h0M335.2 437.2h0M340.7 435.0h0M337.3 436.5h0M330.3 434.0h0M339.6 440.0h0M338.8 436.9h0M333.7 440.0h0M336.4 432.3h0M333.9 436.0h0M340.9 440.5h0M335.8 442.2h0M339.0 439.3h0M330.3 434.7h0M337.0 440.1h0M339.2 439.7h0M335.1 435.0h0M332.2 439.8h0M339.2 441.9h0M338.4 435.0h0M331.3 440.0h0M331.9 432.7h0M336.9 442.1h0M337.1 434.8h0M333.1 434.7h0M339.4 441.3h0M337.8 441.9h0M332.3 441.1h0M334.8 433.7h0M335.3 441.1h0M334.5 436.9h0M328.5 437.0h0M339.7 433.1h0M334.1 435.2h0M335.5 442.3h0M331.4 436.0h0M338.8 437.1h0M338.7 436.5h0M330.3 438.9h0M340.8 437.5h0M335.0 438.1h0M332.7 436.5h0M334.7 439.2h0M341.7 434.5h0M335.7 436.6h0M338.9 434.9h0M335.2 435.5h0M342.2 438.7h0M336.2 439.0h0" stroke="#cc2452" stroke-width="1.0" stroke-linecap="round" fill="none"/>
<path d="M331.0 438.1h0M341.5 439.6h0M330.3 435.5h0M337.2 435.5h0M335.4 439.6h0M332.4 432.3h0M338.6 437.7h0M337.1 432.2h0M339.4 434.7h0M337.1 438.1h0M335.9 437.8h0M338.7 441.7h0M339.8 433.7h0M337.0 436.8h0M333.9 434.6h0M341.5 434.9h0M331.9 439.4h0M329.0 435.2h0M339.6 433.8h0M332.7 433.7h0M337.9 433.7h0M336.5 438.2h0M338.0 432.3h0M338.1 433.9h0M335.8 440.1h0M329.9 439.9h0" stroke="#9c1440" stroke-width="1.0" stroke-linecap="round" fill="none"/>
<path d="M337.1 438.0h0M332.1 434.3h0M334.1 433.8h0M341.6 436.8h0M333.9 434.1h0M340.8 433.8h0M338.7 437.9h0M331.7 440.5h0M330.6 436.4h0M335.6 439.6h0M342.6 437.1h0" stroke="#fff" stroke-width="1.0" stroke-linecap="round" fill="none"/>
<path d="M332.2 447.0h0M330.6 451.5h0M331.0 447.1h0M326.5 450.9h0M328.4 451.4h0M330.5 449.6h0M329.7 453.7h0M326.5 451.3h0M325.2 449.2h0M325.3 453.3h0M329.3 451.5h0M328.6 445.2h0M324.3 449.1h0M328.5 444.5h0M330.5 452.1h0M328.4 447.6h0M326.8 448.0h0M328.4 449.7h0M324.7 452.1h0M323.2 449.1h0M330.0 455.6h0M330.5 452.4h0M332.3 450.7h0M327.2 457.4h0M324.5 448.2h0M329.2 453.5h0M328.9 452.4h0M327.9 452.2h0M325.0 456.9h0M327.9 446.5h0M324.3 446.7h0M327.8 445.1h0M325.6 451.6h0M330.7 445.1h0M325.5 455.3h0M327.6 456.0h0M328.8 449.1h0" stroke="#f0b0c0" stroke-width="3.6" stroke-linecap="round" fill="none"/>
<path d="M329.6 448.6h0M332.8 446.0h0M330.3 457.7h0M329.0 457.2h0M334.2 451.2h0M328.7 451.7h0M328.3 444.5h0M332.4 453.2h0M332.7 452.6h0M325.8 447.9h0M324.9 450.2h0M331.0 453.8h0M333.6 451.1h0M330.0 445.3h0M326.2 456.9h0M328.3 458.6h0M330.5 455.7h0M323.9 447.0h0M324.7 458.1h0M322.5 451.9h0M330.6 449.8h0M326.0 444.1h0M325.0 455.7h0M331.3 453.4h0M327.4 458.6h0M329.1 456.4h0M332.0 446.2h0M324.6 445.6h0M328.2 455.1h0M327.1 444.2h0M330.2 455.9h0M324.4 446.0h0M330.6 443.9h0M325.6 453.9h0M328.5 445.3h0M332.1 452.3h0M329.6 445.8h0M332.1 447.9h0M329.3 447.0h0M329.2 457.3h0M330.7 445.4h0M325.4 446.7h0M333.2 455.0h0M323.4 449.2h0M332.4 457.7h0M328.7 448.3h0M327.9 458.5h0M325.9 452.4h0M327.3 452.9h0M330.3 458.5h0M322.4 451.7h0M325.0 444.3h0M333.9 448.1h0M326.2 455.6h0M326.1 450.7h0M327.7 449.8h0M327.0 443.4h0M324.0 450.3h0M326.3 451.2h0M324.9 449.9h0M332.6 452.7h0M329.3 459.5h0M331.2 452.3h0M323.5 455.6h0M328.6 459.1h0M332.3 456.4h0M332.1 456.2h0M329.6 456.9h0M328.8 452.3h0M326.7 458.4h0M326.2 451.8h0M327.5 447.5h0M330.1 451.0h0M331.9 444.7h0M327.2 457.2h0M328.8 442.9h0M329.0 453.1h0M332.6 455.5h0M329.6 443.6h0M322.6 452.6h0M332.9 449.1h0" stroke="#cc2452" stroke-width="1.0" stroke-linecap="round" fill="none"/>
<path d="M325.6 443.8h0M324.5 451.8h0M326.2 448.6h0M334.3 450.7h0M328.3 442.9h0M325.9 457.0h0M325.2 445.9h0M331.5 443.8h0M326.6 449.1h0M326.8 446.2h0M329.6 448.9h0M330.9 447.1h0M333.4 454.1h0M327.5 447.1h0M332.8 448.2h0M326.9 453.3h0M326.8 453.8h0M333.4 454.9h0M329.2 447.0h0M329.4 455.9h0M327.3 456.3h0M329.1 446.2h0M334.0 454.5h0M324.6 444.4h0M332.3 453.0h0M326.7 454.6h0M331.1 452.3h0M329.7 455.5h0M325.8 448.6h0M323.1 447.0h0M328.2 452.4h0M323.6 449.9h0M331.6 454.4h0M324.6 455.3h0M332.0 457.3h0" stroke="#9c1440" stroke-width="1.0" stroke-linecap="round" fill="none"/>
<path d="M325.7 450.0h0M324.1 449.9h0M327.5 456.5h0M332.1 448.5h0M324.3 449.9h0M328.9 457.3h0M325.6 447.9h0M330.1 453.0h0M329.5 443.3h0M328.8 457.7h0M330.9 458.8h0M325.2 451.5h0M324.3 448.0h0M329.8 451.2h0M324.3 449.9h0M324.6 456.1h0" stroke="#fff" stroke-width="1.0" stroke-linecap="round" fill="none"/>
<path d="M350.6 451.0h0M341.5 452.1h0M343.0 447.3h0M352.6 445.6h0M349.1 455.0h0M343.2 454.0h0M343.3 448.4h0M355.2 454.0h0M346.4 455.8h0M356.5 449.3h0M351.8 450.8h0M355.0 454.1h0M344.6 458.6h0M347.8 450.8h0M341.5 454.5h0M342.5 449.7h0M350.7 459.3h0M343.6 450.8h0M347.3 443.1h0M347.6 443.2h0M345.6 446.6h0M345.9 459.5h0M342.8 448.8h0M349.8 452.2h0M345.6 454.7h0M349.1 455.4h0M349.9 453.9h0M344.2 455.0h0M348.9 454.8h0M348.9 455.9h0M340.7 451.6h0M344.2 448.0h0M345.5 442.2h0M352.7 447.1h0M356.2 450.8h0M355.3 454.4h0M348.5 455.8h0M345.1 447.7h0M342.0 451.7h0M343.6 445.0h0M351.5 450.9h0M350.4 459.2h0M354.3 451.3h0M340.8 449.6h0M344.8 451.7h0M341.5 449.6h0M351.6 443.8h0M342.2 453.1h0M345.4 458.8h0M356.9 451.1h0M348.2 443.8h0M354.6 450.3h0M349.1 446.0h0M349.3 445.1h0M347.5 455.3h0M347.6 451.1h0M354.9 451.1h0M349.4 454.5h0M342.2 452.9h0M343.4 454.6h0M341.1 451.2h0M347.9 446.9h0M346.5 439.7h0M352.1 449.9h0M349.0 448.0h0M354.1 444.8h0M350.7 456.5h0M348.6 459.7h0M355.4 453.5h0M345.9 442.4h0M343.0 446.3h0M344.6 447.4h0" stroke="#f0b0c0" stroke-width="3.6" stroke-linecap="round" fill="none"/>
<path d="M339.8 448.4h0M346.0 449.7h0M355.3 447.2h0M346.2 448.3h0M347.4 443.2h0M357.3 456.7h0M342.9 445.1h0M347.6 452.7h0M347.7 457.4h0M345.3 443.3h0M351.0 455.4h0M343.9 450.6h0M352.9 444.8h0M351.0 444.8h0M352.7 449.7h0M342.6 454.3h0M346.1 438.7h0M350.2 450.2h0M348.4 455.9h0M345.2 452.5h0M341.6 457.0h0M344.4 458.3h0M346.7 442.8h0M347.5 445.1h0M350.3 456.7h0M346.8 452.7h0M347.3 445.9h0M348.4 454.4h0M346.4 453.0h0M348.0 450.1h0M340.5 455.8h0M349.8 443.2h0M348.5 460.0h0M346.9 439.7h0M355.2 450.9h0M344.8 452.9h0M350.0 456.7h0M352.4 450.2h0M356.1 455.3h0M348.1 449.5h0M344.2 452.6h0M342.6 449.0h0M343.3 444.9h0M343.0 443.6h0M344.1 459.1h0M342.3 444.2h0M347.4 455.7h0M347.9 456.9h0M344.1 449.6h0M344.4 443.8h0M346.7 444.8h0M349.8 461.2h0M348.9 444.6h0M345.9 454.3h0M352.3 443.3h0M343.4 453.6h0M347.2 450.4h0M352.2 448.0h0M348.5 454.4h0M355.1 458.0h0M342.1 445.4h0M347.9 455.6h0M346.3 453.9h0M348.8 456.8h0M346.5 449.1h0M346.7 443.8h0M346.7 443.9h0M353.5 443.8h0M344.9 451.0h0M343.6 452.1h0M350.7 442.4h0M353.7 460.0h0M348.4 448.7h0M347.2 441.5h0M350.5 450.4h0M344.5 451.5h0M345.6 439.8h0M349.0 441.5h0M354.5 446.7h0M355.2 456.1h0M347.0 439.4h0M343.3 451.2h0M343.6 445.5h0M349.3 460.5h0M355.9 456.4h0M353.1 443.5h0M356.3 449.1h0M341.3 446.8h0M341.6 450.1h0M352.3 460.8h0M357.5 449.9h0M349.8 447.3h0M348.8 459.4h0M353.1 457.3h0M354.8 444.2h0M343.8 449.6h0M354.7 443.8h0M341.5 450.2h0M349.4 449.2h0M354.0 445.7h0M350.8 456.8h0M357.3 448.3h0M348.8 457.9h0M348.1 442.1h0M351.1 451.1h0M355.3 446.4h0M342.6 446.4h0M349.0 456.9h0M349.1 443.7h0M351.2 452.2h0M348.6 453.5h0M346.4 459.2h0M346.5 438.5h0M349.8 458.9h0M343.4 451.6h0M347.8 460.2h0M346.2 459.4h0M353.8 447.4h0M350.7 458.3h0M344.7 448.4h0M348.2 447.0h0M349.0 448.9h0M342.6 447.4h0M342.4 458.7h0M354.8 447.8h0M341.1 456.2h0M354.2 444.5h0M354.4 445.7h0M346.9 455.5h0M351.4 446.6h0M352.1 460.6h0M342.9 457.9h0M355.6 457.1h0M346.0 444.4h0M357.3 446.5h0M342.9 459.0h0M345.4 453.5h0M345.9 448.4h0M354.2 443.3h0M345.8 445.3h0M346.7 446.4h0M350.0 459.5h0M343.0 454.5h0M350.6 457.6h0M343.6 449.8h0M349.8 445.8h0M355.7 457.2h0M354.8 458.3h0M349.0 448.1h0M345.7 440.2h0M342.8 452.3h0M347.0 444.3h0M350.0 450.5h0M354.4 454.7h0M345.9 442.3h0M350.9 451.0h0M354.8 444.6h0M350.7 461.3h0" stroke="#cc2452" stroke-width="1.0" stroke-linecap="round" fill="none"/>
<path d="M348.2 456.6h0M344.0 458.4h0M348.6 445.0h0M357.5 455.4h0M346.4 460.6h0M344.9 454.8h0M351.7 446.7h0M346.2 458.2h0M345.0 440.3h0M342.2 449.5h0M353.3 445.1h0M347.0 450.7h0M349.6 458.0h0M346.6 450.2h0M346.0 458.8h0M345.8 441.5h0M353.6 444.5h0M348.8 456.7h0M350.5 445.1h0M351.2 448.0h0M346.8 457.3h0M346.8 452.1h0M343.0 454.9h0M342.6 446.5h0M349.9 456.1h0M355.8 450.6h0M351.1 453.4h0M349.8 442.1h0M353.6 444.0h0M340.3 449.9h0M354.5 444.1h0M351.6 447.8h0M348.6 453.9h0M352.7 449.8h0M350.5 444.6h0M353.9 458.8h0M341.1 457.3h0M344.3 446.7h0M349.3 458.9h0M340.4 455.1h0M347.4 447.4h0M342.4 456.4h0M341.3 457.7h0M347.5 449.9h0M349.3 456.0h0M351.5 451.3h0M355.9 454.3h0M346.4 444.0h0M343.1 447.6h0M351.5 444.2h0M339.8 453.9h0M344.5 444.5h0M346.8 440.8h0M354.8 448.5h0M348.0 458.7h0M349.0 441.6h0M350.2 449.6h0M345.9 448.5h0M356.7 446.1h0M351.7 450.0h0M342.0 455.0h0M343.0 447.9h0M348.5 444.9h0M351.4 443.0h0M355.0 451.7h0M347.7 459.4h0M347.0 458.7h0M344.1 448.1h0M355.4 450.0h0" stroke="#9c1440" stroke-width="1.0" stroke-linecap="round" fill="none"/>
<path d="M339.8 452.7h0M346.5 452.2h0M353.7 444.1h0M349.4 456.9h0M343.5 448.3h0M352.3 445.6h0M353.8 451.2h0M344.3 456.9h0M349.7 454.5h0M352.5 451.2h0M352.8 444.2h0M352.2 445.9h0M354.8 455.1h0M351.7 446.7h0M347.5 451.8h0M351.0 450.8h0M352.0 450.4h0M347.8 439.5h0M341.1 454.6h0M347.9 448.1h0M349.6 446.7h0M353.4 450.7h0M349.7 443.8h0M355.8 457.8h0M343.5 458.8h0M348.1 453.8h0M347.4 439.1h0M353.9 455.8h0M350.8 454.7h0M357.7 450.8h0M345.5 451.7h0" stroke="#fff" stroke-width="1.0" stroke-linecap="round" fill="none"/>
<ellipse cx="378.60" cy="441.00" rx="5.02" ry="5.12" fill="#d9dce8"/>
<path d="M382.0 439.3h0M377.7 437.8h0M376.1 443.5h0M376.5 441.6h0M383.6 440.6h0M382.4 444.4h0M376.0 437.4h0M378.2 438.5h0M379.5 441.0h0M381.2 438.4h0M382.7 441.8h0M381.9 442.2h0M381.6 445.0h0M378.9 435.9h0M382.0 441.3h0M374.9 443.0h0M375.9 443.0h0M380.9 442.8h0M380.5 440.5h0M382.7 439.8h0M379.4 444.5h0M377.1 441.0h0M375.3 440.0h0M377.5 443.6h0M379.1 439.6h0M380.4 437.2h0M381.8 442.4h0M378.0 438.6h0M373.8 443.2h0" stroke="#c6c9da" stroke-width="1.0" stroke-linecap="round" fill="none"/>
<path d="M375.5 442.4h0M375.9 440.8h0M376.8 444.6h0M379.7 444.4h0M374.0 442.3h0M381.7 443.3h0" stroke="#b4b8cc" stroke-width="1.0" stroke-linecap="round" fill="none"/>
<path d="M381.3 444.2h0M378.8 440.0h0M379.1 436.3h0M375.5 442.9h0M374.0 442.3h0M377.1 437.5h0M374.5 442.2h0M379.8 440.3h0M379.2 437.0h0" stroke="#f4f4f8" stroke-width="1.0" stroke-linecap="round" fill="none"/>
<ellipse cx="344.20" cy="469.00" rx="5.58" ry="1.67" fill="#d9dce8" transform="rotate(30 344.20 469.00)"/>
<path d="M347.0 470.9h0M346.7 471.4h0M344.2 468.7h0M342.0 469.4h0M340.9 467.1h0M346.0 468.5h0" stroke="#c6c9da" stroke-width="1.0" stroke-linecap="round" fill="none"/>
<path d="M343.5 469.8h0" stroke="#b4b8cc" stroke-width="1.0" stroke-linecap="round" fill="none"/>
<path d="M345.1 471.1h0M342.7 469.8h0" stroke="#f4f4f8" stroke-width="1.0" stroke-linecap="round" fill="none"/>
<ellipse cx="352.20" cy="481.00" rx="8.37" ry="1.12" fill="#d9dce8" transform="rotate(-18 352.20 481.00)"/>
<path d="M357.4 479.5h0M351.6 480.6h0M359.5 478.4h0M346.8 483.3h0M345.1 483.3h0M352.2 480.3h0" stroke="#c6c9da" stroke-width="1.0" stroke-linecap="round" fill="none"/>
<path d="M344.5 483.0h0" stroke="#b4b8cc" stroke-width="1.0" stroke-linecap="round" fill="none"/>
<path d="M348.7 481.2h0M355.2 479.2h0" stroke="#f4f4f8" stroke-width="1.0" stroke-linecap="round" fill="none"/>
<ellipse cx="362.40" cy="443.00" rx="2.79" ry="1.12" fill="#d9dce8" transform="rotate(40 362.40 443.00)"/>
<ellipse cx="363.40" cy="448.00" rx="1.40" ry="1.40" fill="#d9dce8"/>
<path d="M360.7 442.6h0M362.8 443.1h0M362.7 443.3h0" stroke="#c6c9da" stroke-width="1.0" stroke-linecap="round" fill="none"/>
<path d="" stroke="#b4b8cc" stroke-width="1.0" stroke-linecap="round" fill="none"/>
<path d="M363.7 444.0h0" stroke="#f4f4f8" stroke-width="1.0" stroke-linecap="round" fill="none"/>
<path d="M419.6 419.8h0M426.7 419.2h0M421.2 428.4h0M419.2 421.6h0M423.7 425.5h0M421.3 428.6h0M426.3 427.4h0M421.8 418.2h0M421.2 417.2h0M420.2 427.2h0M420.8 426.0h0M417.0 421.2h0M425.6 425.2h0M426.0 425.5h0M423.6 419.0h0M417.8 420.3h0M425.8 417.4h0M420.4 417.8h0M419.0 424.1h0M427.8 421.0h0M424.9 423.2h0M419.4 421.6h0M416.7 423.9h0M421.3 428.5h0M421.5 426.8h0M422.6 418.6h0M424.5 418.9h0M420.3 425.5h0M420.9 426.4h0M427.5 423.2h0M424.3 419.9h0M421.8 428.4h0M423.5 423.8h0M416.7 422.7h0M422.2 423.7h0M427.3 419.1h0M421.1 417.0h0M422.2 426.1h0" stroke="#dcd0dc" stroke-width="3.6" stroke-linecap="round" fill="none"/>
<path d="M417.5 420.0h0M428.2 420.9h0M423.3 424.2h0M428.0 423.4h0M415.6 423.1h0M422.8 428.6h0M427.7 421.7h0M420.0 423.3h0M428.9 424.1h0M428.4 424.9h0M421.5 419.8h0M424.1 417.3h0M426.0 419.6h0M417.4 421.2h0M418.6 419.4h0M423.8 422.3h0M416.4 419.5h0M421.5 420.2h0M416.0 422.0h0M420.4 423.4h0M416.9 418.9h0M426.1 426.0h0M418.4 418.8h0M418.6 422.9h0M425.4 423.0h0M420.0 420.8h0M423.3 425.6h0M422.3 426.0h0M425.5 427.4h0M419.7 422.1h0M422.9 427.4h0M417.9 421.1h0M417.7 420.0h0M427.4 427.0h0M416.4 426.2h0M415.7 425.3h0M416.8 426.1h0M419.8 417.8h0M418.2 417.6h0M418.8 429.2h0M417.9 421.7h0M428.3 426.3h0M426.7 420.3h0M420.6 423.2h0M423.8 425.3h0M422.2 418.3h0M420.0 419.9h0M423.1 429.9h0M424.0 427.6h0M422.0 419.7h0M426.9 422.8h0" stroke="#c4bed0" stroke-width="1.0" stroke-linecap="round" fill="none"/>
<path d="M417.1 423.2h0M427.0 418.4h0M420.0 417.3h0M427.1 427.5h0M419.8 417.8h0M422.8 425.0h0M425.1 424.3h0M420.2 417.3h0M422.6 428.4h0M421.9 428.0h0M427.5 419.3h0M425.5 429.7h0M426.4 419.3h0M418.6 422.0h0M425.0 429.0h0M424.6 427.9h0M428.7 421.3h0" stroke="#d05078" stroke-width="1.0" stroke-linecap="round" fill="none"/>
<path d="M419.8 416.0h0M424.7 428.0h0M418.9 421.0h0M425.8 416.6h0M418.5 419.8h0M425.8 416.8h0M427.3 417.1h0M419.9 425.2h0M426.9 427.9h0M417.1 423.2h0M424.6 422.2h0M423.9 417.8h0M416.1 420.0h0M417.7 425.2h0" stroke="#e8a0b4" stroke-width="1.0" stroke-linecap="round" fill="none"/>
<path d="M425.8 419.4h0M416.9 421.9h0M425.6 418.8h0M419.0 417.0h0M417.4 423.6h0M425.0 428.1h0M423.2 429.8h0M417.2 420.1h0M427.7 420.3h0M417.6 422.6h0M415.7 424.7h0M417.7 417.8h0M428.4 421.8h0M426.6 420.4h0M423.5 428.6h0M426.1 420.8h0M427.9 421.3h0M422.3 429.2h0M416.2 420.9h0M427.5 420.8h0M426.7 423.1h0M418.2 417.8h0M428.3 418.1h0M422.1 418.2h0M426.7 426.2h0M422.0 422.2h0" stroke="#fff" stroke-width="1.0" stroke-linecap="round" fill="none"/>
<path d="M446.9 418.0h0M444.9 418.7h0M441.4 428.6h0M442.1 429.0h0M440.8 416.3h0M438.4 427.9h0M441.9 421.3h0M436.8 421.1h0M437.6 416.4h0M438.2 417.6h0M445.1 427.4h0M450.0 416.6h0M439.8 418.2h0M451.2 416.4h0M438.4 424.8h0M435.9 417.4h0M445.0 428.4h0M442.4 418.3h0M448.8 415.4h0M441.1 428.0h0M439.0 423.5h0M444.1 419.9h0M440.7 416.9h0M433.8 422.8h0M444.0 426.0h0M434.7 422.4h0M442.2 419.3h0M436.5 416.9h0M438.2 422.3h0M439.1 428.1h0M448.5 416.8h0M441.6 427.7h0M442.7 425.4h0M437.8 428.4h0M443.0 423.3h0M443.2 421.5h0M434.1 422.8h0M442.6 419.7h0M440.3 429.7h0M450.6 416.0h0M447.2 423.2h0M441.5 429.6h0M441.9 420.4h0M440.8 429.3h0M438.6 430.1h0M439.6 422.7h0M441.7 420.8h0M442.6 424.3h0M441.5 428.4h0M438.6 423.7h0M437.9 427.7h0M444.2 419.9h0M447.4 417.1h0M441.9 421.4h0M442.2 428.7h0M434.4 420.0h0M433.9 423.7h0M439.3 418.9h0M437.4 419.9h0M435.5 422.3h0M440.0 427.6h0" stroke="#dcd4e0" stroke-width="3.6" stroke-linecap="round" fill="none"/>
<path d="M435.5 428.4h0M441.3 427.5h0M435.7 418.6h0M434.2 426.7h0M445.1 418.1h0M448.1 417.0h0M444.7 428.8h0M446.8 416.0h0M434.4 423.9h0M435.7 424.1h0M438.5 427.0h0M439.2 427.9h0M434.9 424.8h0M439.2 421.8h0M446.8 423.2h0M448.2 415.3h0M433.6 418.9h0M440.6 419.0h0M442.4 418.6h0M441.7 415.1h0M442.6 423.6h0M439.6 419.3h0M444.0 417.0h0M437.4 431.4h0M437.1 428.1h0M441.2 432.0h0M442.1 420.3h0M446.3 423.4h0M431.9 427.2h0M439.6 420.6h0M434.8 427.1h0M441.4 426.9h0M440.5 421.5h0M439.9 419.1h0M437.4 418.3h0M446.3 419.3h0M438.8 416.0h0M448.2 416.9h0M437.0 422.9h0M446.2 417.3h0M441.2 417.1h0M442.7 428.4h0M440.0 432.5h0M445.5 429.0h0M436.3 419.1h0M440.1 429.1h0M448.4 422.7h0M440.7 429.2h0M435.1 427.3h0M433.4 427.3h0M440.3 430.1h0M437.3 425.5h0M442.9 422.7h0M432.1 427.2h0M435.4 418.5h0M440.4 415.4h0M439.9 415.4h0M438.2 424.9h0M440.1 418.1h0M447.1 419.8h0M441.0 415.9h0M434.0 422.7h0M431.6 425.4h0M436.2 422.9h0M437.4 429.7h0M441.2 430.4h0M440.3 424.7h0M452.0 416.7h0M442.8 419.8h0M434.4 425.2h0M441.0 421.7h0M445.5 425.1h0M448.4 416.4h0M439.4 425.4h0M444.2 428.3h0M439.2 417.1h0M438.1 420.8h0M442.1 422.9h0M443.7 423.6h0M449.5 416.5h0M444.5 431.6h0M439.4 425.6h0M437.7 432.7h0M438.4 431.8h0M443.7 420.4h0M448.1 421.7h0M445.8 422.3h0M436.1 426.1h0M441.4 428.4h0M433.2 424.3h0M445.9 430.4h0M447.1 421.5h0M447.0 426.9h0M443.3 429.3h0M443.6 425.9h0M440.2 421.5h0M443.2 425.3h0" stroke="#c4bed0" stroke-width="1.0" stroke-linecap="round" fill="none"/>
<path d="M435.8 430.1h0M436.1 429.1h0M447.7 416.5h0M443.4 432.6h0M440.6 430.1h0M435.3 426.6h0M434.5 428.0h0M444.7 421.7h0M446.1 426.5h0M435.6 418.6h0M443.0 427.5h0M447.5 426.5h0M433.8 419.6h0M437.3 429.7h0M440.3 432.0h0M433.1 425.9h0M442.6 416.7h0M434.5 425.9h0M445.6 418.2h0M436.2 419.9h0M446.7 421.0h0M432.1 424.7h0M441.8 425.0h0" stroke="#d898b0" stroke-width="1.0" stroke-linecap="round" fill="none"/>
<path d="M444.3 425.9h0M437.0 428.1h0M440.0 420.0h0M444.3 426.1h0M437.2 417.9h0M432.7 427.4h0M447.4 424.3h0M437.6 417.7h0M435.9 420.7h0M437.7 423.3h0M437.8 430.1h0M447.7 424.3h0M436.5 426.1h0M445.6 425.6h0M438.5 424.4h0M438.0 425.6h0M436.7 426.6h0M443.5 425.5h0M439.4 422.2h0M433.7 428.7h0M448.2 416.9h0M434.5 421.2h0M433.6 418.2h0M438.6 426.8h0M444.0 422.5h0M438.8 416.7h0M433.7 423.9h0M438.7 431.8h0M440.7 430.6h0M436.5 420.9h0M438.6 418.7h0M441.9 423.0h0M432.6 424.6h0M445.2 427.6h0M436.4 432.0h0M432.0 425.4h0M441.1 431.9h0M440.3 425.9h0M439.7 425.9h0M438.0 415.7h0M446.1 428.6h0M431.7 423.8h0M436.7 419.1h0M436.5 430.7h0M434.8 422.5h0M446.8 418.1h0" stroke="#fff" stroke-width="1.0" stroke-linecap="round" fill="none"/>
<path d="M422.4 435.8h0M427.1 435.3h0M422.7 435.0h0M423.2 438.7h0M424.7 440.6h0M426.8 436.3h0M420.9 435.9h0M423.4 436.0h0M423.7 440.9h0M418.6 439.6h0M424.6 440.3h0M427.0 436.6h0M428.2 437.4h0M425.0 436.1h0M423.6 437.8h0M416.6 438.3h0M427.3 437.2h0M421.9 442.9h0M423.6 437.9h0M420.0 434.7h0M425.2 438.2h0M422.7 439.9h0M426.0 441.2h0M422.4 435.9h0M417.3 438.4h0M420.6 440.6h0M420.8 437.5h0" stroke="#dcd0dc" stroke-width="3.6" stroke-linecap="round" fill="none"/>
<path d="M423.0 438.8h0M429.2 440.2h0M427.7 435.6h0M417.5 438.1h0M420.9 435.3h0M418.7 436.5h0M418.1 440.3h0M420.6 441.8h0M423.6 439.6h0M424.6 435.3h0M425.9 435.0h0M422.1 440.8h0M428.9 439.4h0M426.1 440.8h0M424.4 438.1h0M423.9 441.5h0M416.8 439.8h0M424.4 441.8h0M420.2 438.4h0M417.2 441.2h0M416.0 438.6h0M419.6 442.7h0M429.5 437.7h0M418.1 438.5h0M421.2 439.6h0M420.3 441.5h0M417.2 440.1h0M419.0 436.1h0M416.4 436.3h0M422.8 434.4h0M416.9 438.6h0M424.6 436.1h0M425.3 434.3h0M416.9 435.5h0M422.8 435.6h0M423.0 439.0h0" stroke="#c4bed0" stroke-width="1.0" stroke-linecap="round" fill="none"/>
<path d="M426.3 435.8h0M422.6 438.5h0M426.6 440.2h0M423.9 442.3h0M417.0 437.5h0M419.2 436.6h0M425.3 434.1h0M424.7 440.0h0M425.1 442.1h0M424.5 433.5h0M426.0 440.2h0M421.8 442.3h0" stroke="#d05078" stroke-width="1.0" stroke-linecap="round" fill="none"/>
<path d="M425.9 438.6h0M418.2 438.2h0M426.5 435.9h0M427.1 435.1h0M424.7 441.6h0M425.4 441.8h0M420.6 437.3h0M420.0 439.5h0M425.3 433.6h0M424.7 442.9h0" stroke="#e8a0b4" stroke-width="1.0" stroke-linecap="round" fill="none"/>
<path d="M428.2 437.8h0M416.7 440.9h0M422.1 441.1h0M426.2 442.3h0M419.1 435.1h0M426.8 439.6h0M420.5 433.0h0M423.0 440.8h0M419.7 441.1h0M424.7 442.5h0M419.6 433.3h0M426.9 438.1h0M427.2 437.7h0M426.9 439.6h0M418.6 438.5h0M423.3 440.6h0M419.0 434.6h0M416.9 441.0h0" stroke="#fff" stroke-width="1.0" stroke-linecap="round" fill="none"/>
<path d="M419.2 452.3h0M417.6 447.5h0M411.5 447.7h0M411.1 449.9h0M419.1 451.1h0M416.1 451.4h0M419.7 450.6h0M415.1 451.8h0M411.9 451.7h0M414.0 458.7h0M419.0 447.0h0M418.5 451.6h0M415.1 445.3h0M417.9 451.0h0M411.9 454.1h0M418.8 450.7h0M413.6 457.9h0M415.1 450.6h0M415.5 459.6h0M411.7 448.4h0M416.0 452.5h0M419.0 457.5h0M417.5 446.7h0M411.2 452.3h0M418.8 455.3h0M417.2 445.3h0M411.5 456.8h0M413.4 457.0h0M410.6 450.7h0M415.0 450.3h0M415.3 457.7h0M410.8 455.7h0M414.8 445.6h0M415.1 447.9h0M413.5 446.9h0M413.6 447.4h0M412.0 454.4h0" stroke="#dcd4e0" stroke-width="3.6" stroke-linecap="round" fill="none"/>
<path d="M420.7 455.3h0M420.8 453.4h0M415.1 455.7h0M416.6 459.2h0M413.4 457.2h0M413.6 444.3h0M415.7 453.0h0M414.8 453.7h0M414.4 452.9h0M420.9 451.4h0M414.1 456.8h0M409.8 454.6h0M410.8 454.4h0M411.1 451.8h0M410.9 449.7h0M410.2 453.0h0M419.6 447.5h0M415.3 447.5h0M412.0 450.1h0M415.2 447.6h0M415.6 446.6h0M415.1 446.6h0M410.4 457.0h0M416.7 444.2h0M419.0 457.6h0M420.4 453.1h0M411.9 457.7h0M412.9 453.6h0M412.5 453.8h0M412.1 457.9h0M421.4 450.5h0M412.1 458.7h0M420.5 450.1h0M412.4 454.3h0M415.0 458.4h0M421.5 451.9h0M416.9 450.2h0M413.7 455.1h0M415.8 450.9h0M414.3 455.3h0M415.0 457.2h0M413.2 455.7h0M415.0 444.1h0M419.1 448.1h0M421.3 452.2h0M419.0 449.3h0M419.0 446.2h0M418.6 451.5h0M415.3 445.1h0M415.1 451.1h0M420.8 456.0h0M410.7 453.1h0M413.6 452.8h0M417.8 455.6h0M414.5 447.8h0M415.8 447.3h0M417.9 459.8h0M411.7 457.5h0M410.8 455.8h0" stroke="#c4bed0" stroke-width="1.0" stroke-linecap="round" fill="none"/>
<path d="M419.5 451.1h0M415.2 453.6h0M419.7 457.5h0M416.4 444.3h0M418.6 450.1h0M420.8 450.8h0M418.0 459.6h0M416.3 447.2h0M418.4 451.3h0M421.0 450.7h0M416.9 452.1h0M414.4 455.0h0M415.7 450.2h0M413.9 458.0h0" stroke="#d898b0" stroke-width="1.0" stroke-linecap="round" fill="none"/>
<path d="M420.8 456.3h0M411.0 446.9h0M417.5 458.4h0M418.1 449.4h0M414.0 446.9h0M421.5 450.1h0M414.3 446.4h0M421.5 452.8h0M412.4 458.1h0M415.6 457.4h0M411.2 452.3h0M418.5 451.6h0M419.6 446.3h0M414.2 452.0h0M414.8 460.6h0M411.6 445.9h0M417.7 454.2h0M416.0 450.8h0M412.1 446.2h0M412.2 446.1h0M419.6 455.4h0M413.2 444.4h0M411.0 451.5h0M413.4 447.2h0M420.7 456.8h0M414.4 450.3h0M417.2 448.9h0M417.7 451.1h0" stroke="#fff" stroke-width="1.0" stroke-linecap="round" fill="none"/>
<path d="M442.4 449.6h0M434.3 454.5h0M439.4 454.7h0M436.1 448.6h0M439.0 448.1h0M436.6 444.6h0M431.5 456.0h0M439.5 445.5h0M442.2 452.5h0M441.2 458.9h0M439.8 454.5h0M442.7 447.0h0M430.8 458.9h0M433.9 448.4h0M437.5 461.0h0M435.7 445.3h0M442.4 451.5h0M443.2 454.0h0M439.8 449.4h0M433.0 446.4h0M441.5 454.9h0M430.2 452.9h0M440.7 445.4h0M440.2 459.5h0M434.2 442.3h0M428.7 451.7h0M433.1 456.2h0M437.6 446.3h0M441.7 457.9h0M439.6 460.2h0M431.9 444.9h0M436.3 448.6h0M438.1 452.0h0M439.6 456.5h0M433.8 443.4h0M436.1 456.0h0M442.6 456.7h0M441.2 452.8h0M432.8 459.5h0M428.1 450.6h0M430.6 456.5h0M440.0 454.6h0M435.4 445.6h0M439.3 456.0h0M437.3 449.8h0M431.4 456.1h0M441.7 447.8h0M430.3 446.3h0M439.0 445.3h0M434.9 450.5h0M436.0 449.1h0M434.1 455.5h0M432.3 445.4h0M440.2 457.8h0M440.2 448.5h0M430.9 453.9h0M429.2 449.9h0M432.6 452.2h0M439.4 450.2h0M432.9 453.1h0M436.0 451.4h0M440.4 452.3h0M441.6 446.5h0M429.2 450.9h0M438.2 455.5h0M440.3 453.4h0M432.6 451.6h0M429.1 450.3h0M430.4 446.4h0M431.0 458.3h0M432.2 447.0h0M436.0 445.1h0" stroke="#f0c4d0" stroke-width="3.6" stroke-linecap="round" fill="none"/>
<path d="M429.7 455.7h0M431.2 452.2h0M436.3 443.9h0M429.8 452.7h0M442.8 447.0h0M435.5 442.6h0M431.9 445.2h0M436.1 443.8h0M430.5 454.6h0M427.4 455.4h0M441.1 444.0h0M442.9 452.0h0M438.7 447.1h0M430.9 458.9h0M432.9 457.6h0M438.3 447.8h0M434.9 462.0h0M426.8 451.0h0M438.1 457.0h0M434.8 456.5h0M436.8 448.0h0M428.9 452.2h0M442.0 454.4h0M434.3 462.1h0M430.5 451.8h0M434.1 439.0h0M430.7 446.7h0M444.4 452.9h0M441.4 449.5h0M427.0 454.0h0M432.8 441.4h0M439.8 443.3h0M442.3 449.2h0M430.0 457.2h0M437.1 457.5h0M431.3 445.7h0M430.2 451.2h0M439.5 444.3h0M427.6 456.6h0M436.0 446.8h0M431.0 449.9h0M437.6 454.0h0M429.1 445.4h0M438.3 446.8h0M434.8 454.3h0M436.7 448.1h0M431.5 453.4h0M442.7 456.5h0M435.4 449.7h0M435.4 456.7h0M440.2 457.7h0M438.3 446.6h0M437.3 450.3h0M438.3 453.5h0M441.1 457.2h0M431.2 450.4h0M433.1 451.0h0M442.9 459.6h0M442.5 457.1h0M437.8 448.8h0M433.6 440.2h0M430.8 460.6h0M437.4 442.4h0M427.6 452.8h0M436.5 456.6h0M433.3 452.4h0M427.0 451.8h0M431.1 451.1h0M443.7 446.5h0M436.1 450.2h0M441.6 458.9h0M432.8 457.3h0M437.1 459.1h0M438.2 452.4h0M438.7 454.2h0M433.8 461.9h0M442.4 447.2h0M430.7 452.5h0M429.5 454.9h0M431.1 451.6h0M430.2 457.7h0M437.8 459.5h0M436.3 458.0h0M441.8 454.7h0M434.6 446.7h0M433.6 458.6h0M434.6 453.4h0M441.7 455.7h0M433.3 450.9h0M435.9 457.7h0M434.0 461.6h0M438.1 443.4h0M440.4 459.6h0M429.4 458.6h0M441.2 452.9h0M441.7 459.3h0M427.8 455.7h0M442.1 458.0h0M444.6 451.3h0M431.6 452.0h0M429.0 451.1h0M428.5 447.3h0M433.9 441.1h0M430.9 446.0h0" stroke="#d0305a" stroke-width="1.0" stroke-linecap="round" fill="none"/>
<path d="M439.5 453.1h0M432.2 440.6h0M437.7 449.8h0M436.6 461.6h0M429.7 457.8h0M438.6 451.1h0M434.7 453.2h0M444.4 452.0h0M433.4 439.4h0M435.6 460.1h0M431.9 445.9h0M433.7 461.0h0M435.8 444.6h0M427.0 449.8h0M430.9 456.7h0M430.4 457.5h0M434.4 454.4h0M429.5 457.2h0M438.5 457.8h0M432.6 458.6h0M427.5 447.7h0M440.9 450.5h0M442.9 453.8h0M435.5 458.0h0M435.0 441.8h0M430.2 459.0h0M429.8 459.5h0M438.5 448.8h0M435.0 459.0h0M428.7 450.4h0M436.8 446.8h0M434.6 454.7h0M431.9 458.2h0M442.3 460.2h0M427.8 447.7h0M439.4 460.2h0M441.2 445.8h0M430.3 460.5h0" stroke="#a81e4c" stroke-width="1.0" stroke-linecap="round" fill="none"/>
<path d="M433.9 442.9h0M445.4 453.4h0M432.3 441.3h0M437.6 444.6h0M433.0 460.7h0M429.8 444.8h0M442.5 445.1h0M439.3 452.9h0M434.7 461.5h0M433.6 441.9h0M441.6 456.1h0M431.1 458.1h0M429.2 455.5h0M433.1 459.7h0M433.6 456.1h0M435.1 445.6h0M445.0 454.2h0M430.4 456.5h0M434.3 442.4h0M438.6 455.8h0M431.2 450.9h0M427.2 450.5h0M437.4 443.4h0M440.7 451.6h0M428.9 454.0h0M436.0 457.2h0M433.6 446.6h0M438.7 446.7h0M427.3 449.9h0M433.8 445.0h0M438.6 448.0h0M432.7 445.3h0M438.8 454.2h0M437.6 445.2h0M441.3 452.3h0M426.7 449.8h0M441.2 460.8h0M441.9 446.4h0M434.4 445.1h0M437.6 447.9h0M433.1 457.0h0M428.2 447.0h0M432.1 451.1h0M442.4 446.3h0M433.2 448.0h0M431.2 460.4h0M436.5 443.6h0M430.2 453.0h0M442.4 445.4h0" stroke="#fff" stroke-width="1.0" stroke-linecap="round" fill="none"/>
<path d="M465.8 444.5h0M465.2 440.1h0M467.3 442.7h0M467.7 441.3h0M469.8 442.2h0M464.5 437.5h0M462.1 440.1h0M464.9 446.5h0M464.7 440.8h0M463.7 437.9h0M462.4 443.7h0M464.6 439.2h0M464.3 438.7h0M468.9 443.9h0M469.3 441.1h0M463.2 439.7h0M463.4 442.8h0M465.0 438.9h0M466.3 444.8h0M469.5 440.2h0" stroke="#dcd4e0" stroke-width="3.6" stroke-linecap="round" fill="none"/>
<path d="M465.5 439.7h0M463.1 439.8h0M464.4 442.4h0M466.4 438.3h0M461.3 441.4h0M470.6 441.9h0M463.4 437.6h0M462.8 438.0h0M465.3 446.8h0M465.9 438.8h0M464.9 443.8h0M462.4 443.5h0M465.2 437.0h0M465.0 440.7h0M463.8 437.1h0M465.2 439.3h0M464.0 446.1h0M462.4 446.1h0M462.4 443.9h0M461.4 439.7h0M468.3 442.6h0M466.1 442.3h0M465.9 443.7h0M464.1 442.2h0M466.4 440.5h0M466.5 443.6h0M467.7 438.6h0M465.6 436.6h0M466.1 441.1h0M462.2 438.5h0M461.2 441.9h0" stroke="#c4bed0" stroke-width="1.0" stroke-linecap="round" fill="none"/>
<path d="M466.6 446.1h0M464.7 439.8h0M470.8 440.9h0M465.4 442.0h0M467.5 437.9h0M465.5 446.3h0M462.8 442.9h0" stroke="#d898b0" stroke-width="1.0" stroke-linecap="round" fill="none"/>
<path d="M466.6 439.5h0M467.6 446.5h0M461.7 438.7h0M469.4 442.4h0M463.2 438.2h0M463.8 444.5h0M470.1 440.9h0M465.0 440.3h0M464.4 440.5h0M465.5 437.4h0M469.5 443.8h0M468.6 444.2h0M466.9 444.9h0M460.9 442.1h0M463.6 437.4h0" stroke="#fff" stroke-width="1.0" stroke-linecap="round" fill="none"/>
<ellipse cx="431.30" cy="470.00" rx="5.58" ry="1.67" fill="#d9dce8" transform="rotate(30 431.30 470.00)"/>
<path d="M430.6 469.8h0M434.6 472.5h0M427.7 468.4h0M428.6 467.8h0M432.9 470.1h0M433.6 471.1h0" stroke="#c6c9da" stroke-width="1.0" stroke-linecap="round" fill="none"/>
<path d="M431.1 468.9h0" stroke="#b4b8cc" stroke-width="1.0" stroke-linecap="round" fill="none"/>
<path d="M429.7 467.4h0M434.6 473.1h0" stroke="#f4f4f8" stroke-width="1.0" stroke-linecap="round" fill="none"/>
<ellipse cx="439.30" cy="482.00" rx="8.37" ry="1.12" fill="#d9dce8" transform="rotate(-18 439.30 482.00)"/>
<path d="M442.2 482.0h0M435.5 484.0h0M438.3 482.6h0M443.3 479.9h0M437.4 483.5h0M443.0 481.6h0" stroke="#c6c9da" stroke-width="1.0" stroke-linecap="round" fill="none"/>
<path d="M439.6 480.9h0" stroke="#b4b8cc" stroke-width="1.0" stroke-linecap="round" fill="none"/>
<path d="M436.5 483.1h0M438.9 481.3h0" stroke="#f4f4f8" stroke-width="1.0" stroke-linecap="round" fill="none"/>
<ellipse cx="449.50" cy="444.00" rx="2.79" ry="1.12" fill="#d9dce8" transform="rotate(40 449.50 444.00)"/>
<ellipse cx="450.50" cy="449.00" rx="1.40" ry="1.40" fill="#d9dce8"/>
<path d="M451.3 449.4h0M449.7 447.9h0M450.3 448.4h0" stroke="#c6c9da" stroke-width="1.0" stroke-linecap="round" fill="none"/>
<path d="" stroke="#b4b8cc" stroke-width="1.0" stroke-linecap="round" fill="none"/>
<path d="M447.2 442.9h0" stroke="#f4f4f8" stroke-width="1.0" stroke-linecap="round" fill="none"/>
<path d="M247.9 527.9h0M240.7 520.9h0M249.4 526.0h0M242.1 523.7h0M247.0 526.7h0M243.2 519.1h0M241.7 524.1h0M244.4 520.4h0M245.4 524.0h0M242.5 519.4h0M238.7 527.0h0M240.4 529.5h0M246.0 524.2h0M242.4 529.4h0M244.1 523.3h0M243.7 528.6h0M245.4 522.0h0M243.0 528.2h0M245.2 523.8h0M243.0 524.7h0M242.2 527.9h0M250.6 524.4h0M240.7 524.7h0M238.5 525.3h0M248.1 523.9h0M245.2 526.0h0M239.0 524.6h0M242.7 518.8h0M241.1 519.5h0M244.0 524.5h0M243.5 519.3h0M240.6 525.6h0M250.0 523.1h0M240.8 525.2h0M241.2 530.3h0M245.0 526.0h0M247.9 523.3h0M247.6 524.6h0" stroke="#f0b0c0" stroke-width="3.6" stroke-linecap="round" fill="none"/>
<path d="M239.8 520.0h0M238.6 525.7h0M248.3 526.0h0M242.9 528.6h0M239.8 524.0h0M238.4 523.8h0M242.7 530.5h0M243.7 529.7h0M251.2 521.6h0M242.4 526.9h0M242.2 521.7h0M241.9 529.4h0M247.4 522.6h0M242.9 531.0h0M238.1 527.9h0M246.6 531.5h0M244.7 530.6h0M242.1 531.5h0M245.0 518.1h0M244.1 528.4h0M240.6 521.1h0M242.4 521.8h0M250.1 526.1h0M248.5 520.3h0M241.5 526.8h0M244.4 530.6h0M243.1 523.7h0M246.6 531.1h0M250.6 528.8h0M251.1 525.3h0M250.3 526.0h0M246.9 526.1h0M249.8 523.4h0M248.7 527.0h0M243.9 519.9h0M246.3 518.8h0M239.7 523.0h0M242.0 523.7h0M243.8 530.9h0M243.4 532.0h0M246.0 526.2h0M238.9 520.5h0M246.5 522.3h0M240.7 525.1h0M246.3 524.0h0M242.7 521.6h0M242.4 517.7h0M245.1 527.6h0M241.0 525.1h0M246.7 522.3h0M244.4 529.0h0M246.7 520.0h0M248.1 524.9h0M247.8 526.0h0M238.1 523.3h0M244.7 524.5h0M242.9 529.7h0M242.3 531.5h0M240.8 528.1h0M246.3 531.0h0M248.1 529.7h0M243.5 532.2h0M248.2 530.5h0M242.7 530.3h0M246.7 524.9h0M248.5 519.0h0M250.4 524.5h0M249.5 522.6h0M248.8 522.7h0M243.7 526.1h0M244.9 528.0h0M242.1 525.8h0M248.3 529.4h0M246.3 527.6h0M243.9 525.7h0M248.6 528.0h0M247.4 521.3h0M246.7 529.1h0M239.8 527.6h0M243.5 524.1h0M244.1 521.4h0M245.4 525.4h0M244.8 526.7h0M245.6 525.3h0" stroke="#cc2452" stroke-width="1.0" stroke-linecap="round" fill="none"/>
<path d="M240.0 522.7h0M244.6 529.8h0M251.0 527.3h0M243.8 521.5h0M237.5 523.3h0M239.2 529.5h0M240.4 522.0h0M247.4 526.0h0M238.0 522.0h0M251.8 526.0h0M245.4 517.8h0M240.1 528.6h0M239.7 526.4h0M244.4 527.5h0M243.0 530.5h0M240.8 524.9h0M241.4 522.0h0M247.4 526.7h0M241.7 526.7h0M239.4 524.7h0M246.9 527.1h0M247.8 518.7h0M239.9 521.1h0M238.6 523.9h0M242.3 519.9h0M244.2 521.8h0M249.5 520.0h0M246.7 526.5h0M237.4 524.8h0M250.1 523.4h0M246.0 526.9h0M246.1 525.1h0M238.9 523.6h0M246.5 521.5h0M249.2 521.9h0M238.8 524.7h0M249.4 527.9h0" stroke="#9c1440" stroke-width="1.0" stroke-linecap="round" fill="none"/>
<path d="M244.4 525.3h0M241.2 530.7h0M249.8 524.6h0M245.9 526.8h0M245.7 528.6h0M245.5 522.3h0M238.4 523.2h0M244.0 518.1h0M247.1 520.7h0M240.2 526.6h0M240.6 529.5h0M245.6 524.1h0M246.9 519.9h0M248.3 520.3h0M249.2 527.3h0M242.2 528.2h0" stroke="#fff" stroke-width="1.0" stroke-linecap="round" fill="none"/>
<path d="M262.4 524.4h0M265.0 532.0h0M260.8 523.6h0M267.8 528.8h0M262.9 532.0h0M260.0 531.0h0M263.5 525.5h0M260.1 531.5h0M259.5 526.5h0M257.8 526.9h0M258.3 524.5h0M260.5 525.2h0M264.1 531.8h0M259.9 519.1h0M267.8 522.5h0M265.8 521.9h0M257.2 522.3h0M262.4 520.2h0M256.4 522.2h0M265.5 530.2h0M259.7 528.4h0M267.1 520.6h0M262.7 521.7h0M257.0 523.7h0M257.3 525.3h0M265.9 532.6h0M266.3 527.9h0M259.3 528.8h0M254.7 526.7h0M262.0 525.3h0M259.9 530.5h0M268.6 528.0h0M268.3 527.3h0M266.2 526.1h0M265.5 531.7h0M261.7 519.7h0M265.1 531.3h0M261.3 522.3h0M261.6 522.0h0M272.6 519.3h0M261.0 528.2h0M259.3 522.2h0M262.3 519.8h0M261.1 525.9h0M261.7 524.2h0M261.1 526.1h0M267.0 522.9h0M260.9 533.2h0M258.7 528.9h0M265.8 530.5h0M263.0 529.4h0M258.7 532.2h0M264.4 528.1h0M262.7 522.4h0M268.4 526.6h0M257.0 530.2h0M268.0 524.8h0M266.9 525.5h0M265.6 530.7h0M263.8 531.6h0M257.6 525.0h0" stroke="#f0b0c0" stroke-width="3.6" stroke-linecap="round" fill="none"/>
<path d="M260.6 529.3h0M261.7 532.1h0M256.2 521.5h0M257.6 524.7h0M260.4 518.8h0M264.4 519.1h0M268.8 526.6h0M258.8 527.5h0M260.1 522.6h0M260.8 519.8h0M273.3 519.2h0M256.3 521.6h0M257.6 531.6h0M260.4 525.7h0M268.4 522.1h0M272.0 517.7h0M256.0 527.9h0M269.7 522.1h0M253.7 527.2h0M258.4 524.2h0M265.3 522.6h0M253.7 527.5h0M263.7 521.8h0M265.3 520.7h0M254.6 524.6h0M256.9 520.0h0M267.5 531.3h0M256.5 530.5h0M263.2 532.0h0M264.8 526.6h0M260.9 530.5h0M254.2 526.8h0M262.0 518.3h0M258.5 533.3h0M267.1 527.4h0M261.1 522.3h0M263.4 532.1h0M265.8 522.5h0M254.1 524.4h0M265.0 522.0h0M262.6 531.1h0M256.9 529.3h0M264.4 523.9h0M256.0 519.3h0M254.0 526.4h0M262.9 522.1h0M261.4 530.1h0M257.8 527.6h0M253.6 524.4h0M273.7 517.3h0M261.5 526.7h0M267.0 530.5h0M258.3 524.2h0M266.3 532.6h0M261.5 517.3h0M260.1 524.3h0M258.7 532.9h0M264.8 520.2h0M261.3 526.6h0M263.0 530.6h0M267.8 525.9h0M267.1 524.1h0M258.1 531.1h0M264.6 530.3h0M274.2 518.8h0M269.9 523.5h0M255.2 522.0h0M261.2 517.7h0M256.8 531.2h0M264.0 523.9h0M258.4 529.8h0M265.3 532.7h0M263.5 526.1h0M259.8 531.4h0M261.6 517.1h0M269.7 517.7h0M266.2 531.9h0M255.3 524.2h0M260.4 520.7h0M258.2 532.7h0M260.5 533.0h0M257.9 524.6h0M269.9 520.1h0M266.6 527.2h0M260.1 531.9h0M258.7 521.1h0M269.3 523.1h0M263.6 531.7h0M259.8 525.9h0M266.6 524.3h0M268.3 532.4h0M260.2 529.3h0M256.4 525.4h0M268.0 525.1h0M255.1 524.0h0M264.8 522.6h0M266.9 533.7h0M254.7 522.7h0M257.1 525.3h0M269.1 518.6h0M254.6 525.0h0M265.7 527.0h0M263.8 533.7h0M268.2 526.5h0M255.6 530.6h0M269.8 523.5h0M260.0 532.0h0M262.6 517.8h0M269.6 528.2h0M258.6 519.3h0M266.9 529.1h0M255.2 528.2h0M271.6 516.8h0M263.9 526.7h0M256.0 523.2h0M258.7 518.9h0M270.3 524.5h0M261.4 532.4h0M259.9 518.5h0M270.9 519.2h0M263.0 528.5h0M266.7 523.9h0M265.4 534.6h0M265.1 529.4h0M263.3 521.7h0M260.1 520.7h0M258.3 521.6h0M265.1 519.3h0M266.6 518.5h0M264.2 533.7h0M265.5 522.5h0M263.5 532.0h0M260.6 526.9h0" stroke="#cc2452" stroke-width="1.0" stroke-linecap="round" fill="none"/>
<path d="M255.3 526.7h0M265.9 528.2h0M265.4 534.0h0M254.8 524.8h0M263.7 523.8h0M269.0 518.6h0M264.0 519.5h0M267.3 519.1h0M256.1 523.5h0M269.4 519.6h0M265.0 524.5h0M263.1 531.2h0M265.0 533.4h0M260.5 530.5h0M256.9 532.6h0M259.4 523.2h0M260.9 529.3h0M254.4 527.4h0M259.5 521.3h0M259.1 519.3h0M268.7 523.1h0M266.9 529.6h0M260.4 518.2h0M257.5 526.1h0M259.3 525.0h0M270.3 528.2h0M258.1 526.0h0M262.7 528.4h0M258.6 524.1h0M258.3 519.0h0M262.8 522.0h0M255.4 528.7h0M258.1 517.8h0M265.0 528.8h0M260.3 529.6h0M257.2 520.9h0M256.1 530.3h0M256.6 527.9h0M255.6 521.4h0M269.2 523.9h0M262.2 526.9h0M261.3 520.8h0M264.5 523.8h0M264.2 523.6h0M269.4 525.6h0M255.3 530.5h0M258.8 532.6h0M253.4 525.8h0M260.2 535.2h0M261.5 523.6h0M261.2 520.1h0M255.7 523.1h0M260.4 521.9h0M255.8 525.0h0M258.0 532.6h0M255.8 525.2h0M260.7 519.9h0M264.0 525.0h0" stroke="#9c1440" stroke-width="1.0" stroke-linecap="round" fill="none"/>
<path d="M262.1 529.9h0M273.7 517.5h0M259.6 534.9h0M265.5 522.5h0M262.1 531.4h0M253.8 527.8h0M262.9 527.6h0M257.5 519.0h0M268.5 524.2h0M260.3 526.5h0M257.4 528.1h0M262.2 532.3h0M260.6 528.3h0M269.5 524.8h0M258.2 524.4h0M275.0 518.0h0M261.3 519.0h0M262.5 521.2h0M270.0 527.7h0M255.5 522.9h0M264.4 529.3h0M262.6 534.5h0M266.2 521.3h0M257.4 522.1h0M264.4 520.0h0M256.5 519.6h0" stroke="#fff" stroke-width="1.0" stroke-linecap="round" fill="none"/>
<path d="M246.7 541.6h0M248.7 540.8h0M245.7 544.2h0M248.0 536.3h0M245.3 541.7h0M248.8 542.2h0M240.6 537.5h0M244.1 537.7h0M245.4 536.0h0M246.8 538.7h0M245.2 536.1h0M248.3 536.8h0M242.0 539.6h0M240.7 540.7h0M244.3 541.7h0M240.7 541.3h0M244.5 543.8h0M250.2 541.3h0M239.7 540.8h0M247.6 540.0h0M247.3 541.6h0M246.9 540.8h0M247.0 535.9h0M247.6 537.1h0M245.2 543.1h0M243.9 543.8h0M242.9 542.4h0" stroke="#f0b0c0" stroke-width="3.6" stroke-linecap="round" fill="none"/>
<path d="M240.6 539.3h0M249.2 536.1h0M248.4 537.6h0M249.0 535.9h0M244.7 540.5h0M242.1 543.1h0M246.2 543.2h0M249.2 544.4h0M239.8 538.1h0M249.9 537.9h0M249.8 542.4h0M240.6 542.5h0M242.9 537.8h0M241.4 544.4h0M243.1 541.0h0M242.5 537.1h0M247.9 541.1h0M247.5 538.3h0M238.4 539.0h0M244.8 540.0h0M241.9 537.6h0M243.5 538.0h0M246.2 540.7h0M242.9 539.4h0M242.2 541.0h0M241.4 539.7h0M245.4 538.7h0M242.9 542.3h0M245.4 537.1h0M243.2 545.0h0M248.7 538.8h0M250.9 540.9h0M246.0 535.6h0M241.1 538.3h0M244.5 535.7h0M240.4 543.5h0M251.1 541.6h0M241.1 541.0h0M247.2 542.5h0M239.8 542.7h0M247.5 535.2h0M244.3 545.0h0M250.1 543.6h0M240.3 543.9h0M244.9 537.1h0M239.1 537.2h0M246.0 540.8h0M239.4 539.5h0M238.6 539.8h0M245.4 540.1h0M240.6 540.7h0M244.7 544.6h0M237.5 539.7h0M243.0 543.4h0M242.2 536.0h0M243.7 539.1h0M238.6 539.3h0M244.4 542.9h0M243.4 544.7h0" stroke="#cc2452" stroke-width="1.0" stroke-linecap="round" fill="none"/>
<path d="M238.4 539.0h0M240.5 537.3h0M248.9 541.2h0M244.3 539.0h0M243.6 545.3h0M237.8 540.4h0M242.6 536.2h0M250.4 540.1h0M246.2 538.2h0M244.0 543.4h0M243.6 538.0h0M249.9 538.0h0M247.2 538.1h0M245.1 537.1h0M244.6 545.4h0M241.4 539.4h0M239.5 537.6h0M245.2 540.3h0M243.6 544.2h0M247.8 540.9h0M251.5 540.9h0M248.7 543.7h0M240.5 543.8h0M245.7 540.0h0M251.1 539.4h0M249.7 541.3h0" stroke="#9c1440" stroke-width="1.0" stroke-linecap="round" fill="none"/>
<path d="M243.9 541.9h0M243.9 544.4h0M245.0 536.4h0M248.2 538.3h0M241.5 544.7h0M246.9 537.3h0M249.5 537.1h0M242.4 536.5h0M238.5 537.6h0M244.3 542.0h0M248.9 539.4h0" stroke="#fff" stroke-width="1.0" stroke-linecap="round" fill="none"/>
<path d="M233.4 551.2h0M235.8 550.9h0M238.3 547.2h0M233.5 549.3h0M233.2 557.0h0M233.0 555.7h0M233.1 555.7h0M235.4 560.0h0M237.0 558.8h0M237.6 556.0h0M240.6 554.9h0M238.6 547.1h0M236.8 549.4h0M238.2 560.5h0M235.7 548.0h0M236.0 552.5h0M232.1 554.5h0M234.3 557.8h0M235.4 550.8h0M233.7 556.1h0M238.9 555.4h0M238.0 553.7h0M234.9 559.8h0M239.3 547.2h0M238.9 548.7h0M234.3 557.8h0M241.5 557.8h0M238.7 548.3h0M237.8 548.0h0M234.4 552.3h0M241.4 551.0h0M239.4 552.8h0M234.5 560.3h0M233.7 550.4h0M234.0 551.7h0M234.0 551.0h0M241.0 558.1h0" stroke="#f0b0c0" stroke-width="3.6" stroke-linecap="round" fill="none"/>
<path d="M239.7 550.2h0M237.8 556.4h0M241.0 557.3h0M240.9 552.1h0M237.3 552.2h0M235.5 551.1h0M233.6 558.3h0M235.3 551.2h0M236.8 557.1h0M235.2 546.5h0M243.3 555.6h0M235.5 551.7h0M235.4 554.6h0M237.4 549.4h0M236.3 550.9h0M237.7 557.2h0M240.5 548.7h0M239.5 556.8h0M235.3 548.7h0M233.3 558.6h0M242.7 553.4h0M238.4 551.5h0M234.1 548.5h0M242.4 556.4h0M241.0 547.8h0M234.9 559.4h0M232.6 551.5h0M241.6 549.2h0M234.7 549.3h0M233.4 560.1h0M236.1 553.6h0M238.2 553.6h0M237.9 556.3h0M242.8 555.2h0M238.3 553.1h0M240.1 559.7h0M237.9 546.0h0M231.7 553.3h0M239.4 550.3h0M241.5 552.8h0M235.5 553.6h0M235.5 552.2h0M243.1 550.9h0M237.1 555.9h0M240.4 557.8h0M236.0 548.6h0M237.0 551.0h0M240.3 548.4h0M233.8 559.9h0M238.9 546.1h0M242.9 554.2h0M239.9 546.8h0M238.1 549.4h0M237.2 547.6h0M232.3 557.1h0M234.3 547.4h0M236.4 549.6h0M242.0 548.5h0M239.3 558.1h0M234.5 547.3h0M236.7 561.9h0M233.3 555.5h0M239.2 552.9h0M235.6 558.1h0M235.3 558.3h0M238.6 555.4h0M234.2 556.6h0M238.0 560.6h0M243.5 551.9h0M233.3 554.0h0M237.8 552.1h0M238.0 555.3h0M235.3 553.8h0M242.2 555.3h0M231.4 554.9h0M236.2 552.5h0M235.6 550.9h0M234.6 553.1h0M237.3 557.2h0M238.1 556.2h0M236.4 556.2h0" stroke="#cc2452" stroke-width="1.0" stroke-linecap="round" fill="none"/>
<path d="M238.8 545.9h0M239.6 549.8h0M239.3 560.8h0M235.1 546.4h0M239.8 559.6h0M238.9 550.6h0M234.5 554.5h0M240.5 558.2h0M233.8 553.7h0M232.0 555.5h0M233.3 555.2h0M240.2 556.1h0M239.8 554.7h0M232.9 558.2h0M239.7 547.2h0M238.4 555.3h0M235.4 551.8h0M240.8 551.9h0M240.3 550.4h0M238.4 559.8h0M236.7 547.1h0M233.6 554.5h0M236.8 548.5h0M239.0 548.2h0M233.0 553.7h0M239.7 551.7h0M242.2 551.6h0M238.1 561.4h0M231.3 554.9h0M237.1 552.1h0M236.3 551.4h0M242.6 549.6h0M238.0 549.1h0M237.4 553.2h0M238.7 556.1h0" stroke="#9c1440" stroke-width="1.0" stroke-linecap="round" fill="none"/>
<path d="M241.4 555.4h0M238.2 552.5h0M237.7 557.1h0M234.1 548.6h0M236.4 550.3h0M239.9 548.4h0M242.1 548.7h0M237.6 550.2h0M240.0 559.6h0M233.5 560.6h0M236.7 551.0h0M235.9 554.5h0M232.0 550.2h0M240.1 561.4h0M240.6 553.8h0M235.3 558.7h0" stroke="#fff" stroke-width="1.0" stroke-linecap="round" fill="none"/>
<path d="M254.5 556.8h0M254.1 561.2h0M251.0 557.8h0M255.1 562.0h0M254.3 561.1h0M256.6 561.7h0M255.2 550.4h0M258.5 553.4h0M265.6 555.4h0M256.3 547.6h0M254.7 551.9h0M257.0 561.1h0M263.9 553.9h0M251.9 553.1h0M255.7 556.7h0M262.8 561.3h0M257.1 551.7h0M261.5 559.5h0M257.0 552.2h0M255.7 541.8h0M259.2 545.7h0M251.8 554.3h0M258.7 555.9h0M259.6 549.7h0M253.5 547.2h0M256.4 560.7h0M259.3 548.2h0M262.2 558.0h0M266.1 557.1h0M264.7 557.9h0M258.0 546.2h0M254.8 560.9h0M263.9 548.7h0M256.3 552.2h0M259.6 547.8h0M263.8 548.0h0M251.6 550.6h0M251.7 550.9h0M259.7 550.9h0M256.7 553.3h0M264.6 559.3h0M255.3 550.9h0M264.4 551.9h0M260.6 552.8h0M262.6 549.7h0M257.7 551.8h0M257.6 555.3h0M262.7 551.9h0M250.9 551.9h0M261.2 560.8h0M259.0 553.5h0M265.1 549.5h0M251.8 556.7h0M259.9 558.4h0M256.5 559.6h0M250.8 555.7h0M263.6 559.7h0M264.5 548.9h0M256.8 556.7h0M256.7 550.4h0M254.9 556.5h0M261.1 548.1h0M254.7 555.6h0M259.0 548.1h0M253.7 557.9h0M259.2 559.8h0M257.7 551.0h0M259.0 561.6h0M260.8 547.2h0M261.0 554.0h0M263.0 548.2h0M260.5 547.0h0" stroke="#f0b0c0" stroke-width="3.6" stroke-linecap="round" fill="none"/>
<path d="M256.2 544.7h0M264.0 549.5h0M263.5 561.0h0M266.7 556.1h0M265.0 552.2h0M252.0 558.7h0M254.5 559.8h0M254.9 555.1h0M255.0 552.8h0M258.7 546.4h0M261.1 551.7h0M258.4 549.8h0M267.0 551.2h0M261.2 548.3h0M254.5 544.2h0M249.2 553.8h0M258.4 558.0h0M260.1 562.2h0M261.2 555.9h0M265.9 553.7h0M261.5 560.6h0M266.6 553.9h0M260.7 561.1h0M262.5 562.6h0M265.8 558.4h0M249.1 552.5h0M263.5 548.8h0M250.1 556.2h0M258.7 559.0h0M257.8 552.4h0M253.4 549.7h0M251.2 558.2h0M254.1 546.4h0M255.9 548.8h0M254.9 554.4h0M262.5 556.8h0M253.5 563.1h0M255.7 545.5h0M250.0 551.6h0M252.2 549.1h0M259.0 549.1h0M259.7 556.0h0M253.0 548.0h0M264.2 552.3h0M252.1 547.6h0M253.0 554.2h0M264.9 555.0h0M253.5 560.3h0M263.9 557.3h0M263.8 546.9h0M258.8 552.9h0M261.7 556.2h0M265.8 555.9h0M261.4 556.1h0M261.0 559.6h0M253.4 562.6h0M255.4 561.1h0M262.9 554.9h0M260.1 557.0h0M258.1 559.6h0M259.9 563.1h0M262.0 560.3h0M249.2 554.9h0M258.3 549.3h0M264.6 548.9h0M257.6 549.3h0M265.1 553.5h0M254.4 554.5h0M254.1 548.2h0M256.2 559.0h0M252.9 555.0h0M253.4 548.2h0M251.6 556.2h0M256.3 563.5h0M249.7 551.9h0M262.9 545.9h0M257.8 558.5h0M257.8 546.6h0M258.0 554.0h0M267.0 555.5h0M257.1 555.4h0M250.0 554.4h0M263.8 547.7h0M259.5 550.4h0M256.0 563.8h0M251.3 547.6h0M256.9 552.7h0M252.7 555.1h0M252.2 547.1h0M248.8 553.8h0M251.8 553.8h0M258.6 547.7h0M263.7 551.2h0M255.8 563.3h0M255.5 561.8h0M254.1 548.9h0M253.4 547.2h0M260.6 557.5h0M263.5 559.9h0M261.6 552.9h0M249.3 555.2h0M265.2 556.5h0M259.3 562.7h0M258.1 562.5h0M261.5 549.8h0M250.2 554.1h0M267.0 557.3h0M251.8 559.9h0M263.1 554.5h0M248.7 555.6h0M261.5 546.3h0M264.7 558.7h0M253.7 549.7h0M250.2 549.4h0M266.1 557.5h0M253.3 547.6h0M260.5 547.2h0M256.1 546.9h0M256.6 560.4h0M258.1 563.2h0M254.2 548.9h0M267.6 555.7h0M255.1 560.8h0M261.0 553.3h0M259.0 563.5h0M262.4 559.8h0M259.0 545.1h0M252.2 558.2h0M259.7 558.9h0M264.3 546.7h0M266.2 551.3h0M264.6 559.9h0M251.8 554.8h0M254.4 558.1h0M258.8 564.0h0M259.5 556.4h0M262.6 546.3h0M263.9 553.1h0M264.1 548.5h0M260.3 548.2h0M256.5 547.5h0M262.2 550.7h0M252.3 552.9h0M266.7 551.8h0M256.3 554.1h0M265.2 554.4h0M254.4 550.9h0M253.0 561.2h0M259.7 547.4h0M253.2 546.3h0M263.6 554.4h0M263.8 555.4h0M261.0 557.1h0M249.6 557.7h0M258.1 547.7h0M255.1 553.6h0M263.6 551.8h0M255.9 548.9h0" stroke="#cc2452" stroke-width="1.0" stroke-linecap="round" fill="none"/>
<path d="M262.5 555.9h0M254.2 560.7h0M252.0 558.0h0M250.0 549.4h0M256.8 551.5h0M266.8 554.7h0M262.5 561.3h0M264.8 557.9h0M258.2 558.4h0M263.6 552.1h0M260.4 551.9h0M263.7 553.1h0M255.9 551.2h0M252.0 554.5h0M253.9 559.9h0M262.2 559.2h0M256.9 557.5h0M261.6 546.7h0M259.9 552.6h0M258.2 547.1h0M252.8 554.3h0M250.8 549.5h0M256.4 560.4h0M252.2 559.9h0M266.3 553.1h0M259.0 547.2h0M256.4 563.5h0M262.0 562.0h0M265.4 561.0h0M254.3 543.3h0M258.6 555.8h0M253.4 546.5h0M258.0 557.1h0M253.8 550.8h0M256.0 543.8h0M253.3 550.4h0M259.8 557.0h0M261.5 563.0h0M258.1 550.5h0M257.2 544.7h0M248.8 557.2h0M254.3 560.5h0M264.5 553.1h0M254.6 548.3h0M251.8 550.1h0M259.3 549.5h0M255.9 540.9h0M256.3 546.2h0M259.2 558.9h0M260.2 555.0h0M261.0 562.4h0M251.6 552.1h0M251.8 558.7h0M262.2 555.1h0M251.3 561.5h0M265.5 556.0h0M256.0 562.4h0M253.1 560.6h0M260.5 557.1h0M252.1 550.9h0M256.0 550.8h0M261.9 560.2h0M253.7 556.1h0M260.7 557.3h0M260.6 552.6h0M255.5 557.7h0M254.4 554.4h0M252.0 558.0h0M251.5 558.3h0" stroke="#9c1440" stroke-width="1.0" stroke-linecap="round" fill="none"/>
<path d="M261.6 556.2h0M256.8 546.5h0M253.8 549.2h0M248.9 555.6h0M255.4 561.6h0M260.4 563.4h0M264.1 553.2h0M248.9 554.5h0M252.2 561.4h0M251.1 558.3h0M260.2 552.9h0M261.8 546.8h0M253.7 560.3h0M248.6 552.6h0M255.6 555.4h0M262.3 563.3h0M257.2 545.8h0M256.3 550.3h0M255.8 558.5h0M254.8 558.0h0M255.9 544.8h0M256.0 552.0h0M261.4 561.4h0M252.7 558.3h0M261.1 554.6h0M252.7 562.4h0M266.4 552.9h0M251.4 561.1h0M265.2 558.4h0M252.7 550.7h0M264.4 551.3h0" stroke="#fff" stroke-width="1.0" stroke-linecap="round" fill="none"/>
<path d="M290.4 542.9h0M286.9 543.2h0M291.0 544.3h0M284.7 547.1h0M287.9 540.7h0M283.5 546.2h0M290.8 546.8h0M287.4 541.4h0M286.6 541.3h0M288.5 546.2h0M285.2 541.9h0M286.7 542.6h0M290.7 541.3h0M284.6 542.2h0M286.3 542.8h0M287.0 540.6h0M284.5 546.9h0M285.7 542.0h0M288.1 544.0h0M290.2 544.7h0" stroke="#f0b0c0" stroke-width="3.6" stroke-linecap="round" fill="none"/>
<path d="M282.7 541.2h0M290.3 544.8h0M289.8 544.6h0M288.0 547.6h0M291.3 545.2h0M283.7 540.5h0M282.8 544.2h0M288.4 542.5h0M283.0 541.2h0M285.3 541.6h0M286.8 548.7h0M286.7 543.0h0M290.6 543.5h0M288.4 539.5h0M282.9 545.4h0M283.7 540.6h0M283.9 541.0h0M285.0 547.9h0M286.9 540.6h0M289.3 546.3h0M290.0 544.9h0M289.9 541.0h0M285.6 545.3h0M282.5 542.3h0M285.8 539.2h0M285.2 542.4h0M282.7 542.0h0M287.5 539.0h0M289.7 547.5h0M283.5 540.8h0M286.8 541.2h0M287.0 540.0h0M287.7 540.7h0M286.6 542.8h0M283.9 544.9h0M289.7 543.3h0M287.7 541.3h0M288.5 544.4h0M285.6 542.0h0M291.3 545.7h0M288.9 548.9h0M285.1 544.0h0M285.9 539.9h0M285.0 540.1h0" stroke="#cc2452" stroke-width="1.0" stroke-linecap="round" fill="none"/>
<path d="M286.6 544.1h0M288.0 549.0h0M288.2 547.5h0M289.6 540.2h0M286.3 539.8h0M282.6 541.7h0M288.4 548.7h0M288.0 547.4h0M285.3 544.8h0M288.0 544.5h0M288.8 548.6h0M283.7 545.3h0M282.1 545.0h0M285.2 548.4h0M291.1 540.9h0M288.5 540.5h0M287.7 540.8h0M282.5 544.5h0M290.2 547.4h0" stroke="#9c1440" stroke-width="1.0" stroke-linecap="round" fill="none"/>
<path d="M287.2 549.0h0M288.5 548.9h0M289.4 545.2h0M282.8 542.2h0M286.0 543.4h0M289.2 539.7h0M283.9 545.3h0M287.2 539.7h0" stroke="#fff" stroke-width="1.0" stroke-linecap="round" fill="none"/>
<ellipse cx="253.30" cy="572.00" rx="5.58" ry="1.67" fill="#f0b0c0" transform="rotate(30 253.30 572.00)"/>
<path d="M248.4 569.0h0M249.6 570.6h0M251.6 570.0h0M254.9 573.1h0M256.1 573.5h0M253.5 570.2h0M254.8 573.9h0M254.2 571.4h0M254.8 574.5h0M253.1 573.2h0" stroke="#cc2452" stroke-width="1.0" stroke-linecap="round" fill="none"/>
<path d="M253.9 570.5h0M253.3 571.7h0M255.1 572.3h0M255.2 574.0h0" stroke="#9c1440" stroke-width="1.0" stroke-linecap="round" fill="none"/>
<path d="M251.9 572.4h0M256.5 574.9h0" stroke="#fff" stroke-width="1.0" stroke-linecap="round" fill="none"/>
<ellipse cx="261.30" cy="584.00" rx="8.37" ry="1.12" fill="#f0b0c0" transform="rotate(-18 261.30 584.00)"/>
<path d="M255.6 586.0h0M263.4 582.8h0M266.1 583.4h0M263.6 583.1h0M256.8 586.5h0M262.1 584.0h0M265.5 583.7h0M263.3 582.5h0M268.1 582.0h0M259.2 584.4h0" stroke="#cc2452" stroke-width="1.0" stroke-linecap="round" fill="none"/>
<path d="M263.9 582.6h0M256.0 585.3h0M267.9 581.2h0M255.7 586.6h0" stroke="#9c1440" stroke-width="1.0" stroke-linecap="round" fill="none"/>
<path d="M258.4 585.7h0M261.5 583.9h0" stroke="#fff" stroke-width="1.0" stroke-linecap="round" fill="none"/>
<path d="M272.9 546.6h0M272.6 551.3h0M270.5 546.5h0" stroke="#f0b0c0" stroke-width="3.6" stroke-linecap="round" fill="none"/>
<path d="M270.2 546.0h0M272.4 549.6h0M273.5 546.5h0M272.6 547.5h0M273.3 549.8h0" stroke="#cc2452" stroke-width="1.0" stroke-linecap="round" fill="none"/>
<path d="M270.6 546.7h0M270.6 545.7h0" stroke="#9c1440" stroke-width="1.0" stroke-linecap="round" fill="none"/>
<path d="M272.4 547.8h0" stroke="#fff" stroke-width="1.0" stroke-linecap="round" fill="none"/>
<path d="M334.7 523.5h0M330.9 525.5h0M338.5 527.0h0M335.7 521.0h0M338.8 524.6h0M332.6 521.1h0M335.5 530.9h0M330.6 525.9h0M336.9 524.7h0M331.2 525.6h0M332.8 529.7h0M334.9 521.9h0M338.4 525.8h0M330.8 520.8h0M336.1 529.4h0M339.1 524.4h0M333.8 520.7h0M338.0 524.3h0M331.6 523.1h0M339.0 521.3h0M333.3 523.4h0M334.3 526.7h0M334.9 525.3h0M337.2 527.9h0M336.6 528.8h0M336.8 529.3h0M334.1 522.9h0M334.5 521.1h0M336.5 523.1h0M333.3 528.1h0M330.4 528.0h0M331.7 519.4h0M338.3 529.2h0M336.2 520.5h0M328.7 524.5h0M339.3 526.6h0M338.4 527.1h0M333.0 524.1h0" stroke="#f0b0c0" stroke-width="3.6" stroke-linecap="round" fill="none"/>
<path d="M335.9 526.0h0M337.1 523.5h0M337.0 519.9h0M339.0 524.5h0M333.1 520.0h0M327.7 523.7h0M333.8 520.3h0M330.7 524.9h0M330.0 524.0h0M330.0 529.6h0M336.6 526.9h0M334.1 527.9h0M330.5 519.7h0M331.6 526.8h0M328.2 523.4h0M335.0 525.0h0M339.2 528.5h0M333.6 531.8h0M333.7 517.9h0M329.0 528.5h0M338.2 531.6h0M334.6 532.5h0M336.6 528.8h0M330.4 525.5h0M339.9 529.7h0M335.2 519.6h0M339.2 521.1h0M335.0 517.9h0M331.9 525.8h0M333.2 526.0h0M333.3 521.1h0M327.6 523.7h0M340.8 528.7h0M337.7 525.1h0M329.8 521.3h0M337.4 520.5h0M331.4 521.7h0M338.2 525.8h0M338.6 529.6h0M335.2 523.6h0M338.1 530.5h0M328.0 527.1h0M329.2 524.9h0M338.7 519.6h0M332.8 521.0h0M333.7 529.4h0M336.7 524.4h0M337.1 527.9h0M340.7 527.7h0M328.7 523.7h0M338.2 524.6h0M337.4 525.6h0M338.1 525.5h0M335.5 529.9h0M337.3 531.4h0M337.2 528.4h0M330.7 528.6h0M333.6 529.9h0M329.6 522.8h0M330.5 524.1h0M336.7 517.8h0M330.8 523.4h0M337.1 529.8h0M331.2 518.6h0M336.4 529.8h0M337.6 522.3h0M334.3 528.8h0M340.6 524.6h0M333.9 530.8h0M333.9 523.7h0M336.1 527.3h0M341.1 523.7h0M334.7 519.4h0M336.3 527.1h0M339.8 529.4h0M340.1 525.6h0M341.6 524.1h0M329.9 522.8h0M336.2 525.2h0M331.4 520.0h0M334.4 519.6h0M338.3 530.7h0M334.7 531.7h0M334.8 529.5h0" stroke="#cc2452" stroke-width="1.0" stroke-linecap="round" fill="none"/>
<path d="M337.3 530.2h0M331.9 530.4h0M340.2 524.9h0M336.3 529.1h0M337.8 518.3h0M338.3 518.9h0M331.7 528.0h0M334.0 527.5h0M332.7 524.1h0M340.1 527.2h0M329.8 526.7h0M341.1 524.2h0M330.9 524.6h0M332.1 532.0h0M338.0 524.3h0M330.6 530.2h0M328.8 525.7h0M334.5 520.2h0M328.2 527.8h0M337.3 517.9h0M336.5 525.0h0M336.1 527.4h0M333.3 524.5h0M336.9 530.2h0M330.5 526.3h0M331.7 521.3h0M334.9 521.9h0M329.6 529.6h0M337.8 528.4h0M335.3 518.7h0M334.6 522.0h0M331.9 518.5h0M333.0 528.8h0M329.3 524.8h0M329.9 525.0h0M329.1 528.3h0M333.8 518.6h0" stroke="#9c1440" stroke-width="1.0" stroke-linecap="round" fill="none"/>
<path d="M340.4 528.6h0M332.4 529.8h0M337.7 527.0h0M335.7 527.1h0M332.5 526.8h0M337.3 518.4h0M330.9 519.1h0M334.9 522.1h0M331.2 529.3h0M331.7 521.0h0M336.1 522.3h0M331.8 530.2h0M331.1 527.6h0M330.2 528.0h0M335.1 522.9h0M340.7 526.8h0" stroke="#fff" stroke-width="1.0" stroke-linecap="round" fill="none"/>
<path d="M355.7 522.8h0M362.3 519.0h0M346.5 527.7h0M357.0 521.4h0M359.8 519.8h0M344.9 524.6h0M350.6 533.1h0M352.9 520.3h0M347.7 530.0h0M357.7 525.4h0M349.7 521.2h0M344.9 526.6h0M355.2 523.8h0M358.8 527.8h0M353.0 531.0h0M347.3 520.8h0M358.4 530.4h0M356.4 520.2h0M352.2 524.3h0M360.9 518.5h0M347.5 526.4h0M356.7 521.3h0M349.8 533.5h0M349.0 526.6h0M349.0 520.7h0M350.3 524.0h0M362.5 519.1h0M347.4 529.7h0M354.1 526.2h0M356.6 528.1h0M354.6 524.8h0M347.7 521.3h0M357.8 519.7h0M358.2 523.2h0M359.4 525.7h0M357.8 529.8h0M361.4 517.3h0M358.6 519.9h0M351.0 531.9h0M349.6 530.4h0M355.7 532.4h0M349.4 526.1h0M349.9 527.7h0M347.6 523.8h0M353.6 525.5h0M357.9 522.5h0M351.7 522.4h0M352.6 524.1h0M350.9 526.1h0M361.1 518.8h0M355.8 528.4h0M361.4 519.7h0M355.3 523.0h0M353.6 519.4h0M356.0 527.5h0M357.2 528.7h0M355.5 532.9h0M350.2 532.4h0M347.4 522.3h0M349.2 519.5h0M349.6 523.4h0" stroke="#f0b0c0" stroke-width="3.6" stroke-linecap="round" fill="none"/>
<path d="M347.4 531.0h0M360.2 527.2h0M349.8 520.3h0M357.2 528.5h0M345.1 529.0h0M349.7 531.5h0M357.3 522.5h0M345.2 530.1h0M350.8 520.7h0M353.0 527.3h0M356.6 522.2h0M350.9 520.2h0M346.6 527.9h0M350.0 521.1h0M359.3 522.5h0M344.9 531.2h0M352.2 519.1h0M343.9 524.4h0M354.6 521.1h0M344.4 523.3h0M359.7 528.8h0M352.8 526.4h0M345.3 523.1h0M344.8 527.5h0M348.8 525.5h0M349.0 525.3h0M358.3 527.6h0M348.8 528.5h0M358.7 518.0h0M350.1 528.4h0M348.0 521.9h0M358.9 529.5h0M348.2 520.8h0M355.4 524.1h0M348.6 530.9h0M348.9 521.6h0M353.2 518.8h0M360.3 520.4h0M358.0 521.8h0M357.6 532.4h0M356.2 522.9h0M356.3 533.4h0M358.9 519.9h0M358.7 518.9h0M352.1 533.5h0M348.0 529.0h0M348.2 529.8h0M355.5 532.3h0M351.4 521.2h0M352.5 533.0h0M348.7 529.4h0M350.9 530.2h0M354.7 532.5h0M351.3 533.4h0M357.2 525.4h0M356.7 527.7h0M355.0 529.5h0M353.1 523.7h0M348.5 531.5h0M356.2 531.0h0M354.1 530.9h0M354.2 522.4h0M352.3 520.2h0M355.2 532.1h0M354.1 528.6h0M357.5 526.2h0M344.9 527.3h0M356.9 528.8h0M350.9 521.2h0M360.1 519.3h0M346.9 529.1h0M353.9 530.7h0M360.3 528.7h0M352.6 532.1h0M349.1 529.2h0M349.8 519.2h0M345.9 525.8h0M351.8 525.2h0M346.3 521.5h0M353.2 534.8h0M356.5 520.4h0M350.3 525.5h0M352.5 527.4h0M348.4 529.4h0M356.5 524.7h0M347.1 518.8h0M357.1 523.9h0M345.5 528.9h0M354.7 521.1h0M353.9 524.2h0M356.0 528.1h0M351.8 534.7h0M358.5 521.2h0M353.8 534.0h0M344.9 523.9h0M350.0 529.1h0M347.5 533.5h0M360.5 526.1h0M348.7 521.6h0M348.7 522.6h0M353.8 522.2h0M349.4 518.8h0M357.5 525.9h0M351.5 533.7h0M358.6 520.7h0M351.5 519.9h0M348.1 518.1h0M358.6 525.0h0M346.5 519.9h0M349.7 524.5h0M360.1 519.1h0M355.0 530.8h0M350.7 522.1h0M352.5 526.0h0M347.6 518.3h0M358.0 525.6h0M353.9 534.9h0M352.5 529.0h0M348.2 533.6h0M352.4 534.7h0M356.7 532.4h0M357.6 526.5h0M347.8 524.4h0M349.1 521.6h0M350.8 525.6h0M354.0 521.9h0M353.7 529.7h0M356.4 520.8h0M347.5 520.4h0M347.6 531.9h0M361.3 519.8h0M355.8 529.1h0M350.8 534.9h0" stroke="#cc2452" stroke-width="1.0" stroke-linecap="round" fill="none"/>
<path d="M352.4 529.1h0M362.6 517.1h0M347.5 524.3h0M360.3 526.3h0M347.2 528.3h0M348.7 529.0h0M350.0 517.6h0M343.6 525.8h0M354.2 529.6h0M347.3 529.0h0M348.6 533.5h0M344.4 530.1h0M357.1 521.0h0M347.1 521.3h0M348.7 525.1h0M350.4 522.8h0M359.8 523.8h0M349.2 525.0h0M352.5 527.8h0M345.1 529.5h0M362.1 519.3h0M358.9 518.2h0M351.8 531.3h0M350.6 533.0h0M359.3 525.5h0M348.9 524.0h0M349.5 528.0h0M348.5 523.8h0M359.0 530.8h0M349.5 523.7h0M347.7 534.2h0M359.3 520.4h0M356.0 519.4h0M359.2 527.5h0M345.9 523.6h0M348.5 528.0h0M362.8 518.1h0M347.3 520.9h0M350.5 528.0h0M349.6 525.3h0M345.4 527.6h0M354.7 522.9h0M352.5 531.9h0M350.7 521.5h0M356.2 524.7h0M359.8 524.7h0M346.4 531.0h0M347.3 527.1h0M350.3 531.6h0M350.9 531.6h0M359.0 521.8h0M354.5 524.3h0M349.9 525.2h0M351.0 531.8h0M360.5 519.5h0M353.1 521.4h0M351.0 522.2h0M344.9 526.4h0" stroke="#9c1440" stroke-width="1.0" stroke-linecap="round" fill="none"/>
<path d="M344.9 524.2h0M344.6 524.1h0M349.7 519.5h0M363.4 519.1h0M356.7 522.5h0M354.8 524.4h0M358.2 532.7h0M345.7 524.3h0M345.5 531.5h0M347.4 527.5h0M353.6 535.1h0M352.9 522.1h0M358.8 523.9h0M359.6 530.7h0M356.1 533.4h0M353.0 518.3h0M359.2 517.7h0M344.7 524.8h0M348.7 518.8h0M345.2 530.9h0M353.1 532.7h0M353.2 523.8h0M353.5 519.3h0M351.9 531.6h0M356.1 521.2h0M355.8 533.0h0" stroke="#fff" stroke-width="1.0" stroke-linecap="round" fill="none"/>
<path d="M335.1 536.3h0M331.7 541.2h0M336.4 544.4h0M336.6 541.3h0M338.3 543.2h0M335.2 538.6h0M335.9 542.6h0M336.5 542.7h0M330.2 542.7h0M332.2 544.4h0M333.1 537.2h0M333.8 537.1h0M339.7 538.7h0M338.1 541.3h0M335.5 540.5h0M332.8 542.8h0M338.4 539.6h0M336.5 543.6h0M329.8 539.2h0M334.6 536.0h0M335.3 544.8h0M338.1 540.5h0M337.4 539.4h0M338.2 538.2h0M333.2 541.7h0M339.8 542.1h0M338.5 536.9h0" stroke="#f0b0c0" stroke-width="3.6" stroke-linecap="round" fill="none"/>
<path d="M331.4 541.9h0M335.0 543.7h0M339.1 542.6h0M335.6 538.5h0M334.2 539.2h0M339.3 536.6h0M334.0 539.3h0M331.4 543.1h0M333.8 538.7h0M338.4 543.3h0M329.6 539.9h0M335.7 537.7h0M332.6 536.5h0M339.2 540.3h0M334.7 536.7h0M336.4 540.9h0M335.2 541.5h0M339.9 539.8h0M333.4 544.7h0M338.9 536.2h0M330.4 537.1h0M335.0 538.3h0M331.4 541.8h0M337.4 535.9h0M335.7 541.2h0M333.1 535.4h0M337.6 539.7h0M334.1 535.6h0M336.6 539.8h0M335.0 541.5h0M336.9 536.1h0M336.1 540.6h0M328.4 541.6h0M340.7 539.5h0M338.4 541.0h0M332.4 543.2h0M340.2 538.4h0M339.9 543.1h0M336.8 538.6h0M338.3 542.5h0M340.6 542.3h0M334.9 536.7h0M333.7 543.7h0M334.9 537.7h0M333.2 543.7h0M336.7 541.0h0M339.2 537.5h0M330.1 538.2h0M333.9 538.1h0M333.6 536.5h0M334.7 541.6h0M330.0 538.1h0M337.1 543.4h0M333.1 535.3h0M330.5 542.0h0M340.5 537.6h0M339.7 543.2h0M335.7 541.8h0M330.2 539.6h0" stroke="#cc2452" stroke-width="1.0" stroke-linecap="round" fill="none"/>
<path d="M334.4 538.5h0M334.5 544.5h0M338.0 540.1h0M335.6 542.3h0M333.1 541.2h0M337.7 538.7h0M338.8 542.3h0M331.6 543.2h0M332.4 540.1h0M338.6 536.4h0M329.3 538.9h0M335.8 540.3h0M338.8 541.1h0M331.8 536.9h0M332.3 540.7h0M333.9 540.5h0M332.1 540.3h0M340.0 540.5h0M336.6 539.0h0M328.5 542.6h0M330.7 544.8h0M337.4 537.8h0M335.6 540.8h0M338.9 542.7h0M334.1 544.4h0M336.2 540.0h0" stroke="#9c1440" stroke-width="1.0" stroke-linecap="round" fill="none"/>
<path d="M339.8 538.1h0M335.6 536.8h0M331.8 536.2h0M339.4 538.5h0M339.3 536.3h0M339.9 536.7h0M337.1 541.8h0M335.0 536.0h0M332.1 539.0h0M332.0 542.5h0M336.9 536.5h0" stroke="#fff" stroke-width="1.0" stroke-linecap="round" fill="none"/>
<path d="M329.0 550.9h0M323.5 555.9h0M326.1 553.7h0M323.2 558.3h0M328.1 551.5h0M331.9 556.7h0M324.8 558.4h0M326.1 558.3h0M328.3 552.8h0M331.7 558.4h0M328.4 548.2h0M329.2 557.6h0M327.2 558.3h0M330.8 559.3h0M326.5 560.1h0M329.4 549.7h0M325.5 561.2h0M331.4 551.8h0M326.2 550.9h0M330.9 554.9h0M322.8 556.7h0M326.5 555.2h0M329.6 549.3h0M331.5 552.9h0M330.3 549.7h0M325.5 559.3h0M327.2 552.9h0M327.0 560.3h0M329.4 558.2h0M326.1 553.0h0M332.7 553.8h0M324.7 548.4h0M329.1 554.3h0M326.1 558.1h0M329.9 548.2h0M330.0 553.0h0M330.9 557.5h0" stroke="#f0b0c0" stroke-width="3.6" stroke-linecap="round" fill="none"/>
<path d="M331.3 553.4h0M326.3 552.6h0M329.3 560.3h0M326.5 556.7h0M324.7 559.8h0M326.8 546.0h0M324.6 559.7h0M324.2 549.8h0M327.2 546.2h0M329.6 561.6h0M331.7 554.2h0M328.7 561.9h0M331.9 550.0h0M326.4 547.8h0M332.3 555.1h0M323.9 560.3h0M328.2 552.3h0M325.8 553.4h0M323.1 557.4h0M323.9 548.0h0M331.1 557.2h0M332.1 558.9h0M333.1 551.8h0M329.9 549.2h0M322.4 551.0h0M331.3 555.7h0M324.6 547.5h0M331.4 551.2h0M330.1 559.2h0M330.3 560.5h0M328.6 560.8h0M321.9 554.3h0M331.1 556.4h0M331.4 548.9h0M328.9 547.3h0M326.1 550.1h0M324.4 550.2h0M332.0 552.0h0M327.4 550.5h0M330.5 551.9h0M330.8 547.8h0M328.1 547.1h0M332.4 550.6h0M327.7 557.5h0M328.4 559.6h0M327.3 549.5h0M332.1 554.7h0M330.9 551.6h0M328.3 559.6h0M325.7 552.3h0M329.2 551.8h0M324.9 559.0h0M327.7 552.0h0M323.5 549.1h0M333.7 555.0h0M330.7 547.2h0M325.8 549.8h0M322.3 550.6h0M332.2 558.3h0M329.0 558.3h0M328.2 554.0h0M329.4 550.1h0M324.3 561.2h0M330.7 556.7h0M322.8 556.1h0M329.4 562.2h0M328.0 555.7h0M330.0 561.4h0M327.8 551.3h0M330.6 561.4h0M332.7 554.7h0M324.6 556.3h0M330.5 557.1h0M324.4 560.2h0M326.2 548.6h0M326.5 558.0h0M328.8 559.1h0M326.5 560.2h0M332.4 558.5h0M331.3 548.4h0M327.3 552.0h0" stroke="#cc2452" stroke-width="1.0" stroke-linecap="round" fill="none"/>
<path d="M326.1 554.7h0M331.0 558.1h0M326.6 556.5h0M324.2 548.9h0M325.6 552.5h0M322.4 556.2h0M328.2 556.6h0M332.5 556.4h0M333.2 555.8h0M331.0 559.0h0M326.3 562.2h0M323.2 553.1h0M325.1 555.1h0M323.9 547.8h0M323.1 551.5h0M324.3 558.7h0M325.5 554.2h0M326.2 561.3h0M322.1 555.1h0M324.2 554.6h0M329.8 556.9h0M332.0 556.1h0M325.5 556.0h0M325.9 553.8h0M329.5 555.4h0M331.9 550.1h0M330.5 547.2h0M332.7 550.4h0M333.7 555.4h0M326.8 557.6h0M332.5 558.3h0M326.5 554.7h0M326.5 546.2h0M327.1 552.3h0M330.9 555.1h0" stroke="#9c1440" stroke-width="1.0" stroke-linecap="round" fill="none"/>
<path d="M330.8 555.7h0M325.1 558.7h0M323.0 554.8h0M332.0 554.9h0M328.0 560.4h0M328.8 547.9h0M321.5 555.6h0M321.8 554.0h0M329.2 548.4h0M327.6 561.4h0M323.9 560.3h0M330.8 553.1h0M326.8 561.9h0M324.3 556.1h0M327.0 559.1h0M323.6 558.7h0" stroke="#fff" stroke-width="1.0" stroke-linecap="round" fill="none"/>
<path d="M345.2 561.6h0M349.6 560.1h0M342.4 551.3h0M351.2 559.3h0M347.8 559.4h0M344.7 547.3h0M345.2 547.7h0M345.3 550.2h0M349.3 553.9h0M343.9 547.5h0M351.6 554.7h0M350.6 552.4h0M344.0 554.6h0M344.4 554.0h0M351.6 551.4h0M352.9 559.3h0M343.4 548.0h0M344.7 549.9h0M353.5 560.5h0M343.3 550.9h0M351.0 560.0h0M347.0 546.2h0M346.1 555.7h0M342.8 553.2h0M355.3 556.6h0M345.9 551.3h0M349.8 553.1h0M345.0 556.4h0M355.6 558.5h0M344.2 552.1h0M344.1 555.9h0M340.6 554.4h0M352.7 558.0h0M349.4 562.6h0M341.9 548.7h0M351.4 547.8h0M351.9 561.3h0M346.7 562.4h0M353.0 550.4h0M342.2 558.3h0M355.3 555.6h0M346.7 554.2h0M343.8 559.6h0M350.8 546.6h0M345.1 560.9h0M347.1 558.1h0M347.1 555.9h0M355.0 557.8h0M344.7 554.4h0M354.3 554.2h0M349.2 548.9h0M341.3 554.9h0M344.2 547.5h0M344.6 562.6h0M354.7 558.5h0M343.6 551.7h0M342.2 549.6h0M340.3 556.4h0M344.8 544.7h0M340.7 551.2h0M352.4 549.0h0M342.3 556.6h0M347.0 554.2h0M346.8 562.3h0M354.6 559.2h0M341.0 554.5h0M341.6 556.4h0M343.2 553.1h0M350.4 552.4h0M346.5 548.1h0M345.9 556.1h0M344.4 557.5h0" stroke="#f0b0c0" stroke-width="3.6" stroke-linecap="round" fill="none"/>
<path d="M347.8 560.0h0M350.5 546.8h0M341.5 556.7h0M342.6 551.7h0M344.4 559.7h0M351.9 546.5h0M346.7 544.0h0M353.8 546.8h0M348.2 547.5h0M356.1 557.2h0M343.3 554.5h0M357.7 553.0h0M348.8 550.5h0M349.0 550.2h0M345.6 557.2h0M356.8 551.1h0M349.1 550.8h0M344.2 550.4h0M349.2 559.3h0M357.2 552.8h0M351.0 555.1h0M342.4 554.2h0M346.3 562.1h0M346.8 546.3h0M346.5 546.2h0M342.3 549.1h0M349.9 563.3h0M339.3 551.9h0M341.8 559.9h0M353.2 560.7h0M341.4 547.7h0M346.5 555.5h0M355.7 548.4h0M353.6 562.5h0M347.7 555.4h0M342.7 557.0h0M357.3 557.1h0M354.5 555.1h0M344.9 551.9h0M341.0 550.0h0M344.3 548.5h0M352.2 554.2h0M356.1 549.0h0M355.7 551.9h0M345.7 563.9h0M344.1 553.4h0M343.3 561.0h0M344.9 543.4h0M346.2 554.0h0M351.4 561.9h0M351.5 554.4h0M353.0 553.6h0M346.6 562.1h0M354.6 559.1h0M348.1 551.7h0M341.2 550.1h0M350.3 557.5h0M349.9 556.1h0M355.2 549.5h0M353.6 554.5h0M350.6 551.4h0M351.1 560.1h0M344.6 558.1h0M344.2 543.8h0M338.8 553.7h0M342.5 549.3h0M354.3 551.6h0M352.5 553.5h0M350.2 556.2h0M350.9 549.3h0M349.5 547.4h0M353.3 551.2h0M343.3 546.6h0M356.3 551.8h0M346.6 548.1h0M349.9 544.8h0M347.0 556.7h0M345.0 545.2h0M339.7 558.3h0M345.8 544.1h0M338.5 554.4h0M352.0 546.2h0M343.1 550.4h0M349.4 563.6h0M345.4 558.7h0M351.5 557.5h0M355.5 553.2h0M349.0 561.8h0M349.1 551.2h0M353.4 558.7h0M351.1 560.6h0M338.9 553.8h0M357.1 551.7h0M352.3 559.1h0M350.0 558.8h0M355.3 554.8h0M352.2 545.8h0M346.2 543.7h0M343.8 559.1h0M341.1 551.4h0M354.2 562.3h0M350.1 545.3h0M347.7 547.3h0M341.8 553.7h0M350.8 556.4h0M357.2 557.6h0M345.5 542.1h0M345.2 542.1h0M355.5 547.9h0M357.1 551.7h0M353.4 555.7h0M343.7 550.4h0M342.1 558.3h0M342.3 549.7h0M343.5 551.4h0M345.0 554.8h0M346.1 546.8h0M343.0 562.9h0M349.6 558.7h0M351.3 549.1h0M353.5 551.4h0M340.7 555.7h0M342.8 558.1h0M350.8 551.6h0M341.7 547.2h0M350.3 554.9h0M345.6 562.1h0M356.6 553.4h0M354.0 550.7h0M352.9 560.1h0M350.7 560.2h0M344.1 550.9h0M343.6 555.2h0M344.2 549.2h0M353.0 562.3h0M356.5 558.8h0M340.9 550.5h0M347.1 564.1h0M347.0 553.7h0M349.7 561.5h0M345.3 547.0h0M344.2 543.6h0M354.9 560.7h0M353.5 554.2h0M348.1 555.0h0M354.3 561.9h0M340.7 549.1h0M348.7 558.1h0M354.5 555.9h0M348.5 554.0h0M340.2 553.0h0M347.0 559.5h0M351.9 547.3h0M345.9 554.4h0M350.1 554.4h0M349.6 558.1h0M344.3 555.8h0M349.1 559.8h0" stroke="#cc2452" stroke-width="1.0" stroke-linecap="round" fill="none"/>
<path d="M351.9 560.3h0M339.1 557.3h0M354.5 560.4h0M340.5 557.4h0M348.5 551.7h0M349.7 550.6h0M349.6 553.2h0M350.0 553.8h0M346.5 553.0h0M343.0 551.7h0M348.4 546.4h0M342.7 549.4h0M348.2 558.5h0M357.8 555.1h0M341.5 553.7h0M355.2 548.2h0M345.1 558.7h0M356.8 556.2h0M345.8 559.0h0M355.2 550.2h0M344.0 557.1h0M347.4 545.0h0M354.1 551.7h0M345.2 552.1h0M346.5 546.2h0M351.9 548.3h0M355.7 551.6h0M354.4 554.8h0M353.7 551.5h0M348.5 560.8h0M354.0 552.4h0M349.0 561.0h0M354.0 553.6h0M351.9 559.6h0M351.1 549.0h0M340.8 559.5h0M341.0 561.0h0M345.1 551.2h0M349.0 555.4h0M345.5 545.9h0M353.3 554.3h0M342.3 561.0h0M345.4 552.0h0M348.9 564.3h0M342.1 547.2h0M352.3 548.2h0M348.8 562.3h0M345.1 543.2h0M346.8 551.9h0M345.0 553.3h0M346.7 546.9h0M347.9 551.1h0M340.4 555.2h0M347.5 562.2h0M344.4 561.7h0M341.0 557.2h0M344.3 562.8h0M354.6 556.5h0M344.8 541.8h0M344.0 561.3h0M352.7 548.1h0M347.4 549.4h0M353.9 552.5h0M354.3 554.2h0M343.8 560.4h0M341.8 551.3h0M355.5 556.6h0M341.9 560.2h0M349.9 555.2h0" stroke="#9c1440" stroke-width="1.0" stroke-linecap="round" fill="none"/>
<path d="M345.2 557.7h0M343.7 554.3h0M349.7 556.8h0M347.4 558.8h0M352.7 549.8h0M348.1 563.6h0M352.7 562.6h0M356.5 554.6h0M354.2 551.4h0M342.8 557.3h0M352.6 557.9h0M345.9 557.1h0M354.1 558.9h0M352.0 558.0h0M340.9 550.9h0M348.1 558.1h0M349.4 559.1h0M352.3 557.2h0M352.0 561.2h0M347.4 549.8h0M348.9 555.4h0M342.8 551.8h0M343.8 553.0h0M344.4 551.4h0M339.6 558.5h0M350.0 560.1h0M357.6 554.1h0M356.3 554.1h0M354.6 554.7h0M340.9 560.8h0M344.9 547.0h0" stroke="#fff" stroke-width="1.0" stroke-linecap="round" fill="none"/>
<path d="M380.5 546.3h0M373.7 542.5h0M374.5 542.1h0M378.9 546.6h0M373.6 543.7h0M380.4 544.4h0M376.5 543.0h0M374.2 542.8h0M381.1 546.7h0M381.0 543.7h0M374.1 547.2h0M377.6 540.8h0M375.6 548.1h0M376.2 542.1h0M379.9 543.2h0M374.3 542.6h0M380.3 541.5h0M378.3 543.5h0M374.0 543.1h0M379.2 542.6h0" stroke="#f0b0c0" stroke-width="3.6" stroke-linecap="round" fill="none"/>
<path d="M378.4 543.7h0M378.7 548.2h0M376.9 545.8h0M380.6 545.8h0M375.5 546.4h0M379.7 541.2h0M380.0 545.5h0M379.5 540.9h0M373.4 547.2h0M377.2 540.6h0M377.3 547.7h0M377.1 539.5h0M374.6 542.6h0M376.0 543.8h0M376.6 542.6h0M378.0 548.5h0M379.7 546.3h0M378.2 542.2h0M380.6 545.9h0M379.1 548.8h0M377.0 547.2h0M373.2 546.9h0M381.4 543.9h0M377.6 548.2h0M376.2 549.3h0M374.2 540.5h0M377.3 541.9h0M372.5 544.3h0M379.4 540.2h0M373.2 546.8h0M381.0 547.7h0M372.9 545.1h0M375.0 544.1h0M380.9 543.0h0M376.2 549.5h0M378.6 541.1h0M380.2 543.7h0M379.6 547.0h0M379.2 540.4h0M379.1 545.9h0M373.9 545.3h0M379.9 548.1h0M376.7 542.2h0M379.8 543.6h0" stroke="#cc2452" stroke-width="1.0" stroke-linecap="round" fill="none"/>
<path d="M377.6 539.1h0M374.6 543.9h0M380.3 541.4h0M372.9 542.0h0M374.7 547.2h0M377.0 547.9h0M377.9 540.4h0M375.7 546.8h0M373.8 542.9h0M375.0 547.4h0M380.9 547.4h0M374.6 546.5h0M376.8 540.4h0M379.5 543.2h0M381.6 545.0h0M378.7 541.7h0M377.5 542.8h0M375.6 547.8h0M375.2 541.5h0" stroke="#9c1440" stroke-width="1.0" stroke-linecap="round" fill="none"/>
<path d="M376.2 548.5h0M376.4 546.9h0M378.5 546.7h0M372.8 545.5h0M376.0 545.1h0M376.5 540.3h0M378.8 541.1h0M374.0 543.9h0" stroke="#fff" stroke-width="1.0" stroke-linecap="round" fill="none"/>
<ellipse cx="343.40" cy="572.20" rx="5.58" ry="1.67" fill="#f0b0c0" transform="rotate(30 343.40 572.20)"/>
<path d="M342.2 573.1h0M342.4 570.0h0M343.5 572.0h0M340.0 569.6h0M340.8 571.4h0M343.9 572.6h0M348.5 574.8h0M346.5 573.3h0M345.7 575.0h0M342.0 572.3h0" stroke="#cc2452" stroke-width="1.0" stroke-linecap="round" fill="none"/>
<path d="M343.4 570.4h0M347.1 575.3h0M339.6 570.3h0M340.9 571.6h0" stroke="#9c1440" stroke-width="1.0" stroke-linecap="round" fill="none"/>
<path d="M348.3 575.2h0M338.9 570.3h0" stroke="#fff" stroke-width="1.0" stroke-linecap="round" fill="none"/>
<ellipse cx="351.40" cy="584.20" rx="8.37" ry="1.12" fill="#f0b0c0" transform="rotate(-18 351.40 584.20)"/>
<path d="M356.0 582.3h0M347.4 584.9h0M353.6 582.7h0M353.6 583.0h0M343.3 586.5h0M350.7 585.5h0M357.1 582.1h0M348.3 584.6h0M352.6 582.6h0M354.7 583.2h0" stroke="#cc2452" stroke-width="1.0" stroke-linecap="round" fill="none"/>
<path d="M356.7 581.9h0M351.4 583.0h0M349.6 585.3h0M355.0 583.3h0" stroke="#9c1440" stroke-width="1.0" stroke-linecap="round" fill="none"/>
<path d="M354.6 584.2h0M353.1 584.6h0" stroke="#fff" stroke-width="1.0" stroke-linecap="round" fill="none"/>
<path d="M360.3 545.2h0M360.9 545.9h0M362.7 546.7h0" stroke="#f0b0c0" stroke-width="3.6" stroke-linecap="round" fill="none"/>
<path d="M359.7 545.7h0M362.1 545.7h0M361.3 545.4h0M362.0 546.4h0M363.3 551.2h0" stroke="#cc2452" stroke-width="1.0" stroke-linecap="round" fill="none"/>
<path d="M361.8 550.4h0M363.4 550.4h0" stroke="#9c1440" stroke-width="1.0" stroke-linecap="round" fill="none"/>
<path d="M361.8 552.0h0" stroke="#fff" stroke-width="1.0" stroke-linecap="round" fill="none"/>
<path d="M420.4 522.2h0M424.8 521.4h0M418.9 527.3h0M416.3 520.6h0M422.9 525.4h0M417.0 528.0h0M416.4 525.2h0M419.5 526.7h0M426.4 522.8h0M425.6 524.3h0M420.2 518.3h0M421.9 527.9h0M415.9 527.8h0M424.0 523.2h0M417.9 519.5h0M420.3 528.6h0M421.8 523.4h0M415.8 526.3h0M426.2 521.9h0M421.5 518.3h0M420.5 520.6h0M421.2 521.9h0M420.1 522.0h0M421.0 529.0h0M418.4 525.3h0M418.6 520.6h0M423.8 528.7h0M422.2 529.2h0M417.0 525.0h0M424.3 519.7h0M420.2 520.5h0M418.5 520.1h0M418.2 528.4h0M417.9 528.2h0M418.2 519.5h0M423.4 520.4h0M422.8 525.0h0M416.1 525.2h0" stroke="#e6a8b8" stroke-width="3.6" stroke-linecap="round" fill="none"/>
<path d="M418.2 531.1h0M423.5 522.2h0M419.7 530.8h0M417.6 518.8h0M426.3 525.8h0M423.7 524.9h0M417.2 520.1h0M423.0 529.3h0M423.8 520.8h0M423.5 518.5h0M413.9 525.8h0M425.2 521.3h0M425.6 522.2h0M418.3 518.2h0M417.4 529.6h0M421.4 530.0h0M414.3 522.5h0M421.8 521.2h0M414.6 524.0h0M427.4 522.2h0M422.9 520.8h0M427.6 528.0h0M421.9 524.7h0M420.1 529.0h0M425.3 520.7h0M417.1 519.2h0M415.0 525.5h0M418.0 524.3h0M415.4 527.8h0M419.6 529.2h0M420.0 527.9h0M423.4 528.7h0M418.5 517.9h0M420.8 529.2h0M415.7 526.6h0M424.0 522.4h0M420.2 523.0h0M421.1 529.3h0M416.4 522.0h0M425.6 520.8h0M416.8 529.1h0M422.1 528.0h0M420.6 528.5h0M425.6 528.0h0M421.4 526.3h0M416.2 524.4h0M415.3 525.2h0M420.8 526.2h0M421.4 523.7h0M417.9 522.4h0M425.0 524.0h0M421.0 521.8h0M422.7 518.4h0M421.5 523.8h0M415.7 523.8h0M423.9 525.0h0M421.3 529.8h0M419.3 530.9h0M415.1 526.7h0M415.6 523.4h0M421.0 529.7h0M415.6 527.1h0M422.6 532.0h0M424.3 519.6h0M426.5 522.2h0M417.6 519.4h0" stroke="#c85a7c" stroke-width="1.0" stroke-linecap="round" fill="none"/>
<path d="M417.9 530.1h0M416.6 521.6h0M422.7 521.8h0M415.4 523.2h0M416.7 526.6h0M419.5 524.5h0M424.1 528.6h0M424.7 520.3h0M427.5 525.8h0M421.5 517.6h0M418.9 518.6h0M416.8 527.1h0M418.6 522.2h0M428.1 523.6h0M416.5 522.0h0M426.9 526.3h0M422.6 531.8h0M420.1 529.4h0M419.1 526.0h0M417.3 520.7h0M415.1 523.7h0M420.0 528.5h0M427.7 524.7h0M419.8 519.4h0M420.2 522.0h0M422.0 520.4h0M427.8 525.8h0M415.6 524.6h0M414.6 526.2h0" stroke="#a84464" stroke-width="1.0" stroke-linecap="round" fill="none"/>
<path d="M418.5 531.3h0M424.5 523.6h0M414.8 523.7h0M423.2 530.1h0M421.8 529.0h0M424.8 520.9h0M423.5 523.8h0M419.9 523.2h0M424.4 520.6h0M420.5 531.9h0M420.1 522.2h0" stroke="#fff" stroke-width="1.0" stroke-linecap="round" fill="none"/>
<path d="M440.1 518.9h0M434.9 520.0h0M443.3 527.9h0M439.1 529.0h0M440.1 526.2h0M441.9 520.9h0M441.4 531.8h0M442.6 530.0h0M447.3 517.6h0M439.2 532.2h0M440.7 526.4h0M440.9 530.4h0M434.8 527.8h0M436.4 526.6h0M442.9 532.3h0M432.9 521.8h0M440.1 525.1h0M432.0 528.5h0M438.0 533.6h0M435.3 531.4h0M431.9 529.3h0M439.5 525.6h0M436.7 527.5h0M441.5 518.9h0M434.8 524.1h0M440.1 519.0h0M432.8 529.4h0M441.9 521.0h0M439.2 521.0h0M435.5 520.4h0M433.4 523.9h0M439.7 532.8h0M431.6 523.2h0M440.9 531.8h0M436.7 529.7h0M431.6 523.0h0M432.3 524.7h0M442.6 522.0h0M439.4 528.5h0M437.0 523.4h0M436.3 533.1h0M442.9 525.1h0M437.2 530.2h0M436.1 527.5h0M434.9 532.6h0M439.5 533.3h0M441.4 529.6h0M443.5 520.0h0M444.9 519.1h0M440.1 531.4h0M442.9 531.8h0M433.0 520.8h0M434.0 520.5h0M434.8 520.0h0M445.5 525.1h0M443.7 530.0h0M440.3 523.0h0M431.9 525.7h0M434.8 526.7h0M441.5 528.3h0M443.4 527.1h0" stroke="#e6a8b8" stroke-width="3.6" stroke-linecap="round" fill="none"/>
<path d="M448.5 518.4h0M448.0 518.1h0M435.0 532.1h0M441.5 525.2h0M440.0 521.6h0M438.7 530.8h0M431.4 523.7h0M436.7 524.1h0M438.2 533.6h0M433.6 520.1h0M437.7 527.2h0M440.5 533.8h0M436.1 521.3h0M436.0 522.8h0M436.0 528.7h0M437.3 527.3h0M442.9 532.5h0M444.7 527.6h0M433.8 521.7h0M441.9 529.0h0M446.5 526.5h0M442.7 526.4h0M445.5 521.3h0M433.1 519.5h0M440.4 525.8h0M448.0 519.3h0M446.0 524.9h0M432.7 523.2h0M441.3 521.1h0M441.6 520.4h0M440.8 522.0h0M439.5 523.9h0M440.5 532.7h0M432.8 521.9h0M436.0 531.7h0M433.3 527.8h0M440.4 532.5h0M447.9 516.8h0M444.1 523.4h0M434.7 527.8h0M443.5 526.7h0M442.1 530.3h0M439.8 525.4h0M440.5 532.3h0M436.0 522.6h0M442.8 518.4h0M434.1 522.3h0M441.7 530.9h0M441.3 532.8h0M438.9 517.1h0M437.6 517.5h0M433.0 518.8h0M437.8 521.5h0M436.5 530.3h0M435.4 521.7h0M436.6 522.8h0M431.3 529.7h0M443.3 526.5h0M434.8 521.5h0M437.1 534.5h0M442.3 520.4h0M447.7 517.6h0M433.9 528.7h0M432.1 520.7h0M435.8 534.8h0M444.1 522.8h0M441.4 518.9h0M438.2 528.5h0M432.7 532.8h0M432.5 520.8h0M443.4 521.1h0M445.7 522.9h0M432.5 520.8h0M442.1 523.8h0M434.7 525.6h0M435.9 526.7h0M432.8 532.0h0M440.6 518.7h0M440.9 534.6h0M444.0 530.1h0M438.1 528.2h0M445.1 519.6h0M431.8 522.1h0M432.2 532.1h0M433.1 521.0h0M439.8 522.1h0M437.4 531.7h0M445.8 523.3h0M446.6 524.2h0M436.2 521.6h0M444.6 525.1h0M436.1 531.5h0M442.8 526.8h0M445.8 528.8h0M432.4 528.2h0M441.8 524.9h0M444.3 518.6h0M442.9 530.5h0M437.8 527.5h0M443.9 525.7h0M437.6 520.6h0M436.1 534.7h0M436.0 519.2h0" stroke="#c85a7c" stroke-width="1.0" stroke-linecap="round" fill="none"/>
<path d="M442.0 522.9h0M432.7 519.7h0M441.4 529.9h0M439.1 531.6h0M434.6 530.6h0M438.5 534.9h0M442.5 527.2h0M437.1 516.9h0M436.2 524.7h0M437.5 534.2h0M445.0 526.1h0M437.8 526.1h0M436.7 522.7h0M436.2 523.6h0M443.7 530.5h0M434.5 531.4h0M439.9 530.3h0M431.2 521.0h0M431.1 523.6h0M443.5 525.0h0M448.9 517.2h0M438.6 518.0h0M435.5 523.0h0M441.9 522.8h0M441.9 532.4h0M439.1 519.2h0M440.2 529.9h0M446.0 524.1h0M434.4 528.4h0M442.6 524.1h0M432.4 520.2h0M439.9 529.0h0M437.0 532.7h0M444.6 521.9h0M433.7 532.3h0M442.2 522.9h0M438.9 520.5h0M435.7 530.6h0M436.7 532.6h0M443.5 531.1h0M445.2 522.9h0M432.0 531.8h0M443.4 518.7h0M439.2 526.3h0M444.2 529.7h0M436.0 529.3h0" stroke="#a84464" stroke-width="1.0" stroke-linecap="round" fill="none"/>
<path d="M437.6 522.5h0M430.2 525.9h0M442.0 529.6h0M440.5 532.7h0M439.5 525.8h0M439.5 523.2h0M436.9 520.6h0M442.1 520.3h0M434.9 524.5h0M436.4 534.3h0M439.7 525.7h0M439.4 518.9h0M435.2 528.4h0M432.4 531.8h0M443.1 522.0h0M438.7 526.3h0M436.6 526.0h0M436.9 517.7h0" stroke="#fff" stroke-width="1.0" stroke-linecap="round" fill="none"/>
<path d="M415.6 541.2h0M424.0 539.0h0M418.8 537.0h0M417.1 543.2h0M425.4 543.2h0M425.0 539.1h0M420.0 539.7h0M423.0 539.8h0M426.3 538.6h0M415.6 538.9h0M423.9 536.9h0M421.3 537.9h0M420.3 538.6h0M420.4 542.5h0M423.7 541.9h0M416.0 541.1h0M423.3 537.3h0M422.5 536.8h0M419.8 538.4h0M422.9 541.7h0M418.1 536.9h0M420.2 536.6h0M416.8 540.0h0M424.4 541.5h0M416.0 541.2h0M420.6 538.9h0M417.4 538.0h0" stroke="#e6a8b8" stroke-width="3.6" stroke-linecap="round" fill="none"/>
<path d="M419.1 542.4h0M423.4 543.8h0M420.4 545.0h0M417.8 535.8h0M422.7 540.4h0M425.2 538.4h0M416.8 537.7h0M415.3 541.4h0M420.6 536.6h0M415.4 539.2h0M418.2 535.4h0M417.3 536.1h0M421.8 545.1h0M418.0 544.7h0M423.7 543.1h0M423.0 536.1h0M420.8 545.0h0M417.8 542.1h0M421.5 538.9h0M415.8 542.6h0M416.8 538.5h0M424.6 539.0h0M422.3 539.0h0M414.4 541.0h0M424.4 541.0h0M416.2 539.1h0M424.3 543.7h0M420.2 538.5h0M419.9 536.8h0M421.1 544.7h0M418.0 535.6h0M422.2 541.6h0M418.2 543.1h0M423.3 536.9h0M424.3 539.3h0M416.7 538.9h0M424.7 541.4h0M419.9 542.2h0M418.2 542.6h0M421.4 538.9h0M417.2 542.8h0M414.1 540.6h0M418.1 542.0h0M420.3 540.7h0M418.6 541.9h0M424.1 540.2h0" stroke="#c85a7c" stroke-width="1.0" stroke-linecap="round" fill="none"/>
<path d="M421.6 536.1h0M420.8 539.2h0M422.0 536.6h0M426.7 538.6h0M423.9 543.4h0M415.4 542.3h0M422.3 543.9h0M419.2 541.5h0M423.0 545.4h0M421.7 545.6h0M423.6 538.3h0M419.5 540.7h0M418.6 539.8h0M420.2 535.6h0M414.3 540.9h0M415.3 539.5h0M417.2 538.7h0M421.3 540.2h0M421.2 540.8h0M423.5 541.7h0" stroke="#a84464" stroke-width="1.0" stroke-linecap="round" fill="none"/>
<path d="M416.7 537.8h0M425.5 536.9h0M419.3 538.7h0M423.6 544.7h0M421.3 536.1h0M422.0 540.0h0M423.2 535.3h0M423.6 538.9h0" stroke="#fff" stroke-width="1.0" stroke-linecap="round" fill="none"/>
<path d="M416.9 558.4h0M414.4 548.1h0M414.4 558.0h0M413.1 547.1h0M412.9 557.8h0M411.8 555.9h0M416.9 552.0h0M410.7 552.7h0M417.1 559.7h0M418.5 558.0h0M410.3 556.8h0M410.2 551.4h0M413.0 556.0h0M413.1 554.4h0M415.7 560.1h0M413.4 551.8h0M418.8 554.2h0M417.2 551.7h0M417.5 549.8h0M412.8 556.4h0M412.4 555.0h0M414.0 557.5h0M413.6 558.9h0M416.8 551.8h0M415.8 554.2h0M412.9 550.1h0M411.5 557.9h0M417.8 555.6h0M409.1 551.3h0M415.8 549.2h0M418.5 555.3h0M408.9 556.3h0M415.3 557.8h0M411.3 548.5h0M414.6 559.4h0M416.1 556.0h0M416.2 558.0h0" stroke="#e6a8b8" stroke-width="3.6" stroke-linecap="round" fill="none"/>
<path d="M417.4 556.8h0M412.6 552.3h0M415.6 552.5h0M413.1 557.5h0M418.5 557.1h0M417.8 559.2h0M410.4 548.5h0M412.3 557.5h0M415.1 551.1h0M411.0 560.7h0M414.8 546.8h0M410.2 548.8h0M411.2 555.6h0M410.4 548.6h0M412.2 546.3h0M418.5 551.8h0M414.6 552.2h0M412.0 558.7h0M413.3 549.2h0M415.6 547.0h0M412.4 549.7h0M419.2 557.8h0M409.2 558.1h0M409.2 550.1h0M414.3 556.1h0M412.0 558.2h0M415.1 556.7h0M411.7 555.9h0M408.8 555.0h0M408.1 556.1h0M416.9 560.9h0M410.4 558.0h0M413.4 561.2h0M415.2 546.8h0M417.2 554.7h0M413.4 548.8h0M413.7 552.4h0M410.1 560.5h0M410.2 547.8h0M416.0 554.2h0M418.7 558.9h0M413.5 558.6h0M409.2 552.2h0M409.7 549.3h0M411.6 550.5h0M417.4 554.6h0M417.3 556.8h0M411.5 547.9h0M413.1 548.8h0M411.6 561.5h0M410.9 558.2h0M415.0 555.7h0M409.6 557.5h0M413.9 558.1h0M418.0 548.4h0M415.4 549.0h0M416.4 556.5h0M417.6 555.6h0M413.0 559.3h0M410.4 556.2h0M416.6 561.7h0M412.7 555.9h0M410.3 558.8h0" stroke="#c85a7c" stroke-width="1.0" stroke-linecap="round" fill="none"/>
<path d="M414.1 551.5h0M413.2 560.9h0M418.6 554.1h0M413.6 546.3h0M409.7 550.6h0M409.1 552.9h0M419.0 551.7h0M416.6 560.6h0M413.4 558.2h0M412.7 559.0h0M411.6 557.6h0M414.2 550.3h0M411.5 547.1h0M414.9 558.0h0M416.4 554.5h0M416.2 549.7h0M415.9 554.0h0M416.7 559.9h0M409.3 551.4h0M417.1 560.8h0M414.4 555.4h0M417.3 550.7h0M416.1 561.8h0M409.2 549.8h0M410.3 551.6h0M417.6 548.8h0M419.0 557.1h0M409.1 555.2h0" stroke="#a84464" stroke-width="1.0" stroke-linecap="round" fill="none"/>
<path d="M409.0 553.3h0M416.5 557.9h0M410.9 556.7h0M418.1 554.0h0M411.3 552.7h0M411.8 548.8h0M413.6 554.6h0M415.3 549.9h0M417.9 559.0h0M411.7 559.3h0M419.1 555.0h0" stroke="#fff" stroke-width="1.0" stroke-linecap="round" fill="none"/>
<path d="M429.8 548.1h0M427.5 555.4h0M440.7 558.3h0M435.5 560.3h0M436.8 547.2h0M434.8 552.7h0M432.6 554.1h0M432.3 552.9h0M439.4 551.0h0M433.3 552.3h0M432.3 559.5h0M440.0 554.0h0M432.2 545.6h0M432.5 547.2h0M441.6 554.7h0M431.1 549.2h0M433.5 548.5h0M429.1 548.7h0M429.0 555.1h0M436.1 563.0h0M436.8 559.7h0M428.3 556.4h0M432.1 557.6h0M432.8 559.6h0M434.8 548.4h0M431.1 559.0h0M436.4 556.2h0M440.6 551.6h0M437.6 550.3h0M440.1 559.8h0M435.4 548.4h0M434.6 545.7h0M429.2 555.5h0M435.7 546.0h0M433.9 554.8h0M430.0 554.1h0M428.9 558.8h0M429.5 547.8h0M435.9 561.6h0M431.9 545.8h0M427.9 559.9h0M435.2 557.7h0M431.3 555.5h0M440.5 549.9h0M428.6 556.4h0M431.2 559.6h0M435.9 546.6h0M434.3 545.7h0M434.5 562.8h0M429.0 557.9h0M434.2 558.5h0M427.4 551.7h0M441.6 554.0h0M436.1 562.8h0M441.3 555.7h0M430.5 548.8h0M440.0 553.0h0M430.7 543.0h0M430.7 561.1h0M436.2 561.8h0M436.8 547.9h0M427.6 549.4h0M438.8 555.2h0M436.7 560.4h0M437.3 561.4h0M441.6 555.1h0M431.8 547.3h0M441.0 555.9h0M431.7 555.8h0M430.5 550.2h0M426.7 555.8h0M431.5 543.5h0" stroke="#e6a8b8" stroke-width="3.6" stroke-linecap="round" fill="none"/>
<path d="M432.1 545.5h0M435.4 563.4h0M433.4 558.8h0M434.8 563.9h0M427.5 558.4h0M432.5 549.8h0M431.2 558.3h0M442.4 555.1h0M426.6 556.6h0M439.4 552.1h0M430.9 546.6h0M429.6 558.6h0M437.1 555.6h0M441.7 550.9h0M431.2 545.4h0M431.8 560.8h0M433.8 555.6h0M430.9 550.5h0M433.4 549.5h0M435.5 552.6h0M432.7 553.8h0M440.7 547.9h0M439.7 546.8h0M429.4 549.2h0M437.5 562.2h0M435.9 555.4h0M426.7 559.4h0M426.4 554.2h0M426.7 551.7h0M435.7 547.1h0M431.4 553.5h0M435.9 547.1h0M442.5 549.7h0M436.0 556.4h0M436.3 550.9h0M442.5 549.4h0M434.2 549.0h0M437.2 557.9h0M428.3 558.1h0M429.2 546.7h0M435.4 554.3h0M430.9 547.4h0M429.6 560.5h0M441.3 558.2h0M440.6 553.1h0M427.7 554.1h0M433.1 551.4h0M433.6 551.6h0M435.9 551.2h0M441.3 558.5h0M433.2 543.7h0M439.2 550.8h0M438.3 558.2h0M430.0 545.8h0M437.2 558.2h0M427.0 556.3h0M433.2 547.6h0M440.3 554.1h0M440.7 561.6h0M434.2 559.0h0M429.8 558.4h0M437.8 551.7h0M431.5 556.4h0M432.4 546.5h0M426.3 551.7h0M432.6 559.1h0M432.7 558.3h0M437.8 560.0h0M427.5 548.8h0M436.5 560.5h0M443.1 551.7h0M432.3 550.7h0M434.2 545.3h0M440.3 560.9h0M433.8 550.2h0M434.4 552.9h0M434.0 560.0h0M427.4 558.6h0M434.8 552.6h0M429.2 552.4h0M440.0 557.2h0M432.1 550.8h0M435.4 551.8h0M430.5 550.3h0M432.1 546.0h0M434.7 551.5h0M433.3 548.5h0M430.0 555.4h0M425.1 556.0h0M440.8 549.2h0M431.0 543.5h0M434.6 552.7h0M428.5 557.9h0M438.8 561.8h0M430.1 555.9h0M432.0 564.2h0M428.6 550.8h0M431.3 541.5h0M438.5 549.1h0M443.1 549.9h0M429.3 557.7h0M434.9 554.9h0M438.2 561.2h0M438.1 563.4h0M430.8 548.4h0M436.3 550.5h0M440.4 550.1h0M441.8 548.0h0M438.7 552.9h0M430.7 555.9h0M429.6 558.2h0M430.5 549.5h0M429.6 562.6h0M427.5 549.3h0M434.1 554.6h0M441.7 547.6h0M432.1 546.2h0M432.2 561.8h0M433.3 546.9h0M434.1 557.4h0M442.2 551.9h0M431.8 563.0h0M437.6 555.4h0" stroke="#c85a7c" stroke-width="1.0" stroke-linecap="round" fill="none"/>
<path d="M433.2 546.2h0M442.0 555.6h0M439.5 554.2h0M435.4 545.3h0M436.3 545.4h0M433.9 553.1h0M428.9 550.5h0M439.3 549.9h0M425.1 557.0h0M438.1 557.0h0M436.8 548.9h0M434.7 563.2h0M433.6 551.3h0M433.6 553.7h0M437.6 550.4h0M441.5 547.9h0M429.6 552.2h0M437.1 555.9h0M426.9 550.6h0M434.6 551.2h0M432.4 559.1h0M435.8 561.5h0M437.4 547.2h0M432.4 542.4h0M433.5 552.7h0M442.5 549.7h0M430.5 563.6h0M441.4 550.3h0M432.8 546.4h0M435.1 558.5h0M439.0 551.7h0M428.9 548.4h0M435.9 556.2h0M427.8 560.8h0M433.3 563.5h0M435.2 554.4h0M436.2 551.6h0M440.5 558.7h0M441.1 549.8h0M432.5 549.6h0M433.1 549.1h0M440.5 553.6h0M435.7 559.2h0M429.3 554.9h0M438.4 550.8h0M430.1 555.2h0M430.5 552.4h0M434.2 548.2h0M429.3 557.0h0M430.8 559.4h0M442.2 554.8h0M428.4 559.6h0M439.4 556.3h0M433.1 559.4h0M432.3 548.2h0" stroke="#a84464" stroke-width="1.0" stroke-linecap="round" fill="none"/>
<path d="M439.6 561.7h0M426.6 554.3h0M437.0 554.2h0M436.2 560.5h0M431.2 555.3h0M431.8 560.6h0M431.3 555.2h0M429.5 549.1h0M441.2 550.4h0M432.8 552.6h0M440.8 554.7h0M436.3 553.8h0M433.8 552.3h0M430.6 546.8h0M436.7 558.1h0M439.2 551.5h0M440.9 560.4h0M432.6 553.2h0M427.4 560.1h0M433.5 553.8h0M437.2 562.0h0M429.9 557.4h0" stroke="#fff" stroke-width="1.0" stroke-linecap="round" fill="none"/>
<path d="M464.5 542.2h0M467.2 546.0h0M461.0 543.8h0M466.2 542.2h0M463.6 541.1h0M461.5 546.1h0M464.6 540.9h0M463.8 544.6h0M464.7 542.1h0M460.2 542.6h0M465.7 546.7h0M460.7 546.1h0M465.4 541.8h0M467.6 546.6h0M461.7 542.6h0M460.6 545.1h0M464.5 548.7h0M466.7 541.6h0M461.3 547.7h0M463.7 547.5h0" stroke="#e6a8b8" stroke-width="3.6" stroke-linecap="round" fill="none"/>
<path d="M459.7 543.2h0M461.6 541.9h0M460.8 544.9h0M465.3 544.1h0M461.8 546.8h0M468.4 544.2h0M461.2 540.2h0M464.1 539.6h0M466.3 544.9h0M468.4 545.5h0M465.5 546.3h0M468.8 542.3h0M462.7 544.8h0M465.7 542.8h0M460.7 547.8h0M459.9 543.6h0M459.1 543.5h0M468.9 542.2h0M468.2 547.1h0M462.8 542.6h0M463.8 545.1h0M465.4 547.9h0M465.3 542.1h0M468.2 546.0h0M460.3 546.9h0M463.1 543.5h0M462.4 548.6h0M460.0 541.1h0M468.5 545.5h0M462.5 547.2h0M465.4 543.3h0M468.1 546.0h0M462.9 548.6h0M464.0 542.4h0" stroke="#c85a7c" stroke-width="1.0" stroke-linecap="round" fill="none"/>
<path d="M465.5 545.6h0M468.3 546.8h0M461.0 540.0h0M463.2 542.6h0M466.2 540.8h0M467.0 548.3h0M460.6 543.3h0M466.3 548.2h0M463.0 543.5h0M462.3 546.4h0M461.1 545.7h0M461.3 539.7h0M465.5 548.5h0M464.0 541.8h0M468.6 543.2h0" stroke="#a84464" stroke-width="1.0" stroke-linecap="round" fill="none"/>
<path d="M461.0 543.6h0M462.8 542.0h0M464.0 548.5h0M462.6 547.3h0M469.1 543.7h0M461.3 544.8h0" stroke="#fff" stroke-width="1.0" stroke-linecap="round" fill="none"/>
<ellipse cx="429.70" cy="572.00" rx="5.58" ry="1.67" fill="#dcd4e0" transform="rotate(30 429.70 572.00)"/>
<path d="M432.0 574.3h0M425.1 569.7h0M427.1 570.6h0M425.7 569.1h0M430.9 571.8h0M430.2 572.4h0M426.8 569.4h0" stroke="#c4bed0" stroke-width="1.0" stroke-linecap="round" fill="none"/>
<path d="M432.6 574.7h0" stroke="#d898b0" stroke-width="1.0" stroke-linecap="round" fill="none"/>
<path d="M430.9 573.0h0M429.1 571.9h0M430.2 570.3h0" stroke="#fff" stroke-width="1.0" stroke-linecap="round" fill="none"/>
<ellipse cx="437.70" cy="584.00" rx="8.37" ry="1.12" fill="#dcd4e0" transform="rotate(-18 437.70 584.00)"/>
<path d="M435.1 584.5h0M439.7 584.2h0M443.1 581.5h0M437.0 583.5h0M442.3 582.0h0M442.0 581.9h0M432.2 585.3h0" stroke="#c4bed0" stroke-width="1.0" stroke-linecap="round" fill="none"/>
<path d="M440.4 583.9h0" stroke="#d898b0" stroke-width="1.0" stroke-linecap="round" fill="none"/>
<path d="M436.3 583.6h0M433.0 586.4h0M434.3 584.5h0" stroke="#fff" stroke-width="1.0" stroke-linecap="round" fill="none"/>
<path d="M448.6 546.6h0M448.0 551.0h0M447.0 545.4h0" stroke="#dcd4e0" stroke-width="3.6" stroke-linecap="round" fill="none"/>
<path d="M449.1 550.4h0M449.7 547.0h0M447.7 550.1h0" stroke="#c4bed0" stroke-width="1.0" stroke-linecap="round" fill="none"/>
<path d="" stroke="#d898b0" stroke-width="1.0" stroke-linecap="round" fill="none"/>
<path d="M448.6 547.2h0" stroke="#fff" stroke-width="1.0" stroke-linecap="round" fill="none"/>
<ellipse cx="241.35" cy="421.80" rx="7.63" ry="6.32" fill="#e8a4d0"/>
<path d="M235.4 419.1h0M245.0 419.7h0M243.0 424.8h0M244.1 423.2h0M243.8 421.6h0M239.3 425.1h0M245.5 417.8h0M238.5 415.7h0M237.0 418.7h0M247.2 424.3h0M246.7 417.3h0M238.6 424.9h0M246.4 426.4h0M239.2 425.3h0M241.8 422.1h0M236.7 426.9h0M235.2 417.8h0M239.8 425.9h0M248.0 421.8h0M239.5 418.3h0M243.5 420.0h0M235.0 422.5h0M239.8 417.5h0M241.3 427.1h0M233.8 422.1h0M244.1 423.6h0M234.9 420.6h0M247.4 418.2h0M235.8 423.0h0M234.7 420.8h0M238.4 419.7h0M236.1 419.3h0M246.0 423.3h0M244.0 417.0h0M241.2 417.1h0M237.7 422.2h0M247.3 422.8h0M238.6 427.7h0M239.1 427.7h0M249.2 423.3h0M234.3 423.8h0M234.9 422.3h0M239.6 417.7h0M242.9 415.7h0M241.6 417.7h0M246.5 426.1h0M248.1 420.5h0M246.3 417.3h0M238.6 427.2h0M240.6 424.5h0M234.4 421.3h0M245.1 424.5h0M243.3 426.7h0M238.2 419.1h0M240.2 421.4h0M241.4 426.7h0M247.7 423.1h0M236.2 421.8h0M239.5 425.5h0M237.0 421.5h0M239.2 415.9h0M235.5 422.9h0M236.3 426.2h0M235.1 423.3h0M238.5 416.0h0M236.5 422.8h0M247.6 423.7h0M243.5 427.5h0M237.7 426.7h0M238.7 416.5h0M235.4 421.5h0" stroke="#d462ae" stroke-width="1.0" stroke-linecap="round" fill="none"/>
<path d="M235.8 421.7h0M246.6 421.3h0M242.0 426.5h0M246.1 423.7h0M242.2 415.5h0M245.0 417.7h0M247.8 419.1h0M234.8 422.4h0M239.9 424.9h0M242.0 421.7h0M239.7 415.6h0M237.5 419.1h0M248.9 421.5h0M238.8 418.5h0M244.1 422.5h0M240.1 422.3h0M242.9 421.7h0M242.5 416.8h0M238.2 425.9h0M238.3 417.3h0M236.7 421.1h0M239.9 419.3h0M236.6 418.9h0M245.0 419.6h0M246.8 424.5h0" stroke="#b84c9a" stroke-width="1.0" stroke-linecap="round" fill="none"/>
<path d="M242.3 423.8h0M240.8 421.2h0M245.1 425.8h0M236.7 421.6h0M239.5 425.0h0M244.4 427.6h0M242.8 424.0h0M241.2 427.8h0M236.5 420.4h0M236.3 422.7h0M247.6 417.9h0M242.3 416.0h0M245.4 421.1h0M245.8 422.6h0" stroke="#f8d8ec" stroke-width="1.0" stroke-linecap="round" fill="none"/>
<ellipse cx="262.80" cy="423.80" rx="9.30" ry="8.56" fill="#e8a4d0"/>
<ellipse cx="273.30" cy="419.30" rx="4.19" ry="1.30" fill="#e8a4d0" transform="rotate(-10 273.30 419.30)"/>
<path d="M266.1 418.2h0M272.6 420.2h0M265.2 419.6h0M258.3 429.8h0M268.3 424.1h0M276.4 419.4h0M268.2 427.0h0M265.2 419.6h0M268.4 421.6h0M261.5 427.2h0M259.9 426.3h0M256.4 420.3h0M261.6 419.8h0M266.4 430.7h0M266.9 429.7h0M264.6 426.3h0M262.8 427.5h0M269.8 419.3h0M258.6 419.2h0M258.2 428.0h0M270.5 426.3h0M265.1 427.3h0M266.7 425.7h0M258.1 428.2h0M265.8 416.2h0M263.0 417.1h0M272.4 422.3h0M255.7 420.8h0M259.2 423.1h0M268.1 429.0h0M271.9 420.4h0M258.7 424.0h0M265.2 425.5h0M258.8 422.4h0M262.6 428.5h0M267.1 424.3h0M270.1 420.9h0M270.3 418.7h0M261.9 418.7h0M257.7 424.3h0M277.5 418.3h0M274.7 418.2h0M265.5 430.7h0M266.0 425.4h0M260.3 422.3h0M260.6 424.3h0M268.2 428.5h0M258.4 430.8h0M265.3 432.1h0M267.5 418.9h0M263.8 424.3h0M258.4 427.9h0M258.6 429.4h0M261.0 420.5h0M261.0 424.0h0M257.2 427.7h0M276.3 419.4h0M265.7 432.0h0M261.9 427.4h0M270.3 420.1h0M258.7 424.2h0M258.5 427.2h0M254.3 421.5h0M258.0 423.3h0M262.3 428.7h0M273.1 420.5h0M264.2 430.7h0M255.1 423.3h0M264.9 427.8h0M260.5 423.5h0M258.3 416.9h0M255.2 429.3h0M259.7 421.8h0M259.7 427.2h0M262.9 427.1h0M260.4 417.6h0M257.2 425.0h0M271.4 420.3h0M260.2 430.3h0M267.7 421.7h0M260.9 425.4h0M263.3 425.4h0M268.6 429.6h0M266.3 416.4h0M261.0 415.9h0M256.2 421.2h0M266.1 430.8h0M270.9 420.4h0M263.4 424.5h0M259.7 418.2h0M266.0 429.4h0M260.0 426.9h0M254.2 423.6h0M261.9 416.2h0M262.6 431.8h0M260.6 432.5h0M261.3 421.4h0M260.4 428.6h0M257.4 418.9h0M267.2 425.4h0M264.4 429.1h0M268.1 425.0h0M268.2 419.6h0M266.8 419.9h0M264.2 415.5h0M267.2 418.2h0M263.7 416.3h0M256.4 418.2h0M254.5 419.8h0M273.5 420.5h0M256.5 420.5h0M269.9 428.9h0M270.3 428.2h0M262.5 427.4h0M262.6 419.0h0M263.6 417.7h0M255.6 429.5h0M263.0 421.2h0M269.2 418.6h0M268.0 427.2h0M259.7 416.0h0M270.8 426.8h0M269.3 428.4h0M264.3 425.9h0M256.6 417.4h0M257.6 426.6h0" stroke="#d462ae" stroke-width="1.0" stroke-linecap="round" fill="none"/>
<path d="M267.2 418.0h0M269.1 422.7h0M265.0 421.3h0M267.4 418.4h0M263.0 418.3h0M270.3 420.6h0M262.1 424.9h0M260.8 421.0h0M270.3 427.9h0M268.5 429.7h0M268.3 419.1h0M259.2 420.3h0M261.9 419.4h0M271.9 424.1h0M276.5 418.7h0M265.8 425.3h0M271.6 423.3h0M261.2 416.7h0M265.9 429.8h0M271.2 421.2h0M267.8 416.0h0M260.9 419.0h0M256.8 426.4h0M253.6 421.2h0M257.3 420.7h0M258.3 423.6h0M262.5 418.5h0M266.1 424.9h0M260.9 429.3h0M261.2 419.8h0M265.6 431.6h0M268.2 431.0h0M269.5 424.5h0M255.6 418.4h0M259.8 429.1h0M272.0 423.6h0M254.0 421.1h0M266.3 420.8h0M258.5 420.4h0M258.5 422.7h0M256.4 420.9h0M255.6 421.9h0M258.3 425.2h0M268.0 423.0h0M260.3 431.4h0" stroke="#b84c9a" stroke-width="1.0" stroke-linecap="round" fill="none"/>
<path d="M270.6 420.6h0M254.5 428.2h0M270.4 418.9h0M270.0 425.2h0M265.4 416.0h0M259.7 421.7h0M267.7 428.5h0M255.5 418.3h0M261.4 431.5h0M257.8 422.9h0M263.6 429.8h0M265.1 423.5h0M256.2 425.3h0M269.0 428.3h0M260.6 418.7h0M270.6 423.9h0M265.5 420.8h0M264.3 425.9h0M263.1 432.1h0M268.9 416.8h0M256.3 424.3h0M262.0 415.8h0M261.8 424.1h0M259.9 417.8h0M266.9 420.3h0" stroke="#f8d8ec" stroke-width="1.0" stroke-linecap="round" fill="none"/>
<ellipse cx="238.10" cy="436.55" rx="4.56" ry="4.19" fill="#e8a4d0"/>
<ellipse cx="245.95" cy="439.15" rx="4.00" ry="4.46" fill="#e8a4d0"/>
<path d="M241.4 434.3h0M244.4 440.7h0M236.9 433.6h0M236.4 434.1h0M241.7 434.5h0M241.2 437.2h0M243.6 437.3h0M245.7 440.2h0M242.0 435.8h0M242.8 442.2h0M239.0 440.5h0M234.9 439.5h0M248.5 435.8h0M241.0 434.1h0M245.0 442.4h0M237.9 438.8h0M244.5 443.4h0M236.8 440.4h0M236.6 439.2h0M237.9 437.0h0M246.3 440.7h0M246.8 436.4h0M244.6 440.8h0M247.8 437.2h0M235.9 437.2h0M237.3 433.3h0M234.5 436.4h0M248.9 440.8h0M237.5 435.4h0M239.8 432.9h0M239.3 437.4h0M248.1 435.2h0M246.8 439.0h0M238.0 433.1h0M242.3 438.7h0M245.6 442.9h0M239.7 438.4h0M248.6 436.4h0M244.9 441.4h0M249.7 437.9h0M239.0 436.2h0M243.1 440.7h0M243.0 441.1h0M238.0 436.4h0M242.5 436.2h0M234.2 435.1h0M234.7 435.2h0M246.1 437.7h0M235.0 434.0h0M238.8 434.6h0M234.6 434.9h0M237.4 434.4h0M248.7 439.4h0M247.2 436.8h0M248.9 442.2h0" stroke="#d462ae" stroke-width="1.0" stroke-linecap="round" fill="none"/>
<path d="M239.8 433.4h0M243.6 441.1h0M240.2 433.0h0M239.5 438.3h0M236.0 433.7h0M249.9 440.4h0M242.4 437.6h0M241.8 435.6h0M248.1 440.5h0M237.1 436.0h0M246.9 435.7h0M237.2 439.8h0M241.3 437.2h0M244.1 438.3h0M244.3 437.5h0M243.5 438.4h0M240.5 439.4h0M242.0 438.6h0M248.1 436.6h0" stroke="#b84c9a" stroke-width="1.0" stroke-linecap="round" fill="none"/>
<path d="M244.8 438.0h0M235.4 436.1h0M249.1 439.0h0M236.2 436.2h0M244.8 435.2h0M242.1 436.7h0M236.4 433.3h0M236.7 436.5h0M236.3 440.1h0M235.8 436.2h0M237.2 435.9h0" stroke="#f8d8ec" stroke-width="1.0" stroke-linecap="round" fill="none"/>
<ellipse cx="233.25" cy="452.70" rx="6.60" ry="7.53" fill="#e8a4d0"/>
<path d="M230.9 448.9h0M230.7 457.3h0M234.7 446.7h0M232.1 457.4h0M234.0 450.8h0M229.2 449.5h0M234.4 459.9h0M236.8 450.4h0M229.0 457.0h0M229.9 453.9h0M233.4 453.2h0M235.5 452.0h0M233.2 454.9h0M233.8 447.9h0M235.4 446.9h0M234.7 448.6h0M237.3 454.8h0M236.5 452.5h0M236.5 458.7h0M228.5 448.7h0M238.2 449.1h0M227.2 448.8h0M238.7 452.4h0M226.7 450.0h0M234.5 447.0h0M232.0 460.3h0M235.8 448.7h0M230.8 448.0h0M238.8 448.2h0M236.7 456.3h0M234.7 460.5h0M232.8 456.1h0M234.1 453.5h0M237.3 454.4h0M236.2 456.7h0M232.6 454.1h0M230.0 446.4h0M236.0 456.5h0M231.4 453.9h0M237.2 452.6h0M238.3 450.5h0M231.9 449.5h0M227.9 451.8h0M233.6 454.6h0M226.4 452.2h0M232.0 451.0h0M234.5 456.7h0M228.5 456.8h0M229.4 448.9h0M228.3 450.4h0M239.2 450.6h0M236.7 454.8h0M236.8 458.7h0M232.8 445.8h0M234.5 452.4h0M236.6 449.6h0M230.9 445.8h0M232.1 454.3h0M233.5 455.8h0M234.3 449.3h0M234.9 453.5h0M236.1 459.2h0M231.4 446.8h0M236.4 451.9h0M238.4 454.8h0M229.6 455.6h0M227.8 450.5h0M233.0 451.6h0M237.1 454.4h0M234.7 457.3h0M236.5 453.1h0M227.3 449.1h0M226.3 452.7h0M234.9 447.4h0" stroke="#d462ae" stroke-width="1.0" stroke-linecap="round" fill="none"/>
<path d="M236.9 450.4h0M235.5 446.2h0M227.6 448.6h0M239.1 453.9h0M228.2 458.2h0M238.0 449.4h0M231.4 448.4h0M232.7 453.6h0M239.1 451.5h0M231.8 458.8h0M237.4 450.0h0M232.5 448.9h0M230.7 452.5h0M232.1 452.8h0M226.5 453.3h0M229.9 449.3h0M232.9 452.4h0M229.8 446.9h0M228.9 450.4h0M238.7 453.8h0M236.0 455.9h0M236.3 455.1h0M231.4 459.7h0M234.6 445.9h0M234.0 448.4h0M230.5 448.5h0" stroke="#b84c9a" stroke-width="1.0" stroke-linecap="round" fill="none"/>
<path d="M238.9 455.5h0M227.8 449.4h0M235.6 451.5h0M235.4 454.9h0M229.5 446.1h0M233.1 450.8h0M236.8 456.4h0M235.8 446.6h0M227.2 449.5h0M238.3 451.5h0M229.3 455.7h0M229.3 453.2h0M237.1 453.9h0M235.2 446.4h0" stroke="#f8d8ec" stroke-width="1.0" stroke-linecap="round" fill="none"/>
<ellipse cx="258.35" cy="453.50" rx="10.79" ry="10.04" fill="#a4a4a4"/>
<ellipse cx="258.30" cy="440.80" rx="1.86" ry="3.16" fill="#a4a4a4"/>
<ellipse cx="264.30" cy="462.30" rx="2.79" ry="2.33" fill="#a4a4a4"/>
<path d="M260.0 441.5h0M249.8 451.7h0M247.8 453.8h0M266.1 452.1h0M257.1 449.3h0M265.5 464.2h0M266.6 459.8h0M255.3 457.7h0M264.5 446.0h0M252.6 459.2h0M260.5 462.4h0M254.6 451.5h0M247.2 455.8h0M261.2 448.3h0M267.7 450.8h0M258.6 462.3h0M251.7 453.4h0M260.4 455.1h0M253.8 451.7h0M262.4 458.4h0M250.0 456.4h0M260.1 459.5h0M256.7 460.9h0M259.3 439.0h0M261.5 454.9h0M255.7 454.6h0M257.4 446.9h0M258.5 460.4h0M253.9 448.6h0M257.4 449.8h0M265.0 461.1h0M268.6 452.6h0M268.0 457.9h0M267.6 448.9h0M259.9 451.2h0M264.3 445.2h0M264.9 447.8h0M257.5 455.5h0M266.9 452.9h0M260.2 455.6h0M267.0 450.2h0M250.7 447.7h0M259.4 449.3h0M251.4 460.6h0M262.9 453.9h0M256.9 460.7h0M264.7 452.4h0M260.1 450.2h0M265.7 460.6h0M256.6 453.8h0M254.6 451.0h0M248.7 452.1h0M255.5 443.9h0M257.9 449.1h0M254.0 450.0h0M252.2 454.1h0M257.8 458.5h0M263.7 445.7h0M260.6 448.5h0M261.8 452.3h0M256.2 459.3h0M260.9 448.0h0M249.0 448.6h0M249.2 456.0h0M260.1 453.3h0M258.7 461.7h0M256.3 456.8h0M266.3 456.6h0M250.5 456.2h0M256.6 447.4h0M262.3 455.4h0M267.9 448.9h0M250.3 452.8h0M265.3 460.6h0M254.1 455.6h0M261.5 448.3h0M249.7 457.4h0M258.3 452.6h0M253.2 449.1h0M249.0 451.4h0M266.2 462.6h0M259.6 461.5h0M258.0 452.6h0M263.3 456.5h0M266.3 452.6h0M259.7 459.5h0M259.0 437.8h0M249.6 456.4h0M255.9 451.7h0M264.1 450.7h0M251.4 445.2h0M263.2 456.9h0M262.0 460.8h0M260.3 459.4h0M259.8 448.8h0M260.0 454.5h0M259.4 441.0h0M258.4 461.4h0M261.6 453.5h0M253.4 448.0h0M262.1 459.4h0M249.1 448.1h0M248.4 456.1h0M252.7 450.0h0M264.6 462.4h0M260.7 458.9h0M248.5 458.5h0M248.4 448.3h0M263.9 458.4h0M262.8 453.9h0M252.1 446.0h0M256.7 443.8h0M252.5 462.0h0M254.6 457.4h0M249.5 455.6h0M252.1 448.4h0M262.4 460.5h0M261.0 461.9h0M250.4 452.7h0M259.2 440.3h0M259.6 450.9h0M264.3 456.1h0M256.6 441.5h0M262.3 460.0h0M248.9 450.6h0M255.9 448.2h0M267.4 454.6h0M262.5 460.5h0M262.9 463.8h0M255.4 456.3h0M256.5 446.8h0M260.3 456.6h0M258.3 463.7h0M263.3 444.6h0M252.6 451.7h0M263.0 459.1h0M260.7 451.8h0M263.1 449.3h0M250.0 458.0h0M266.4 463.2h0M258.6 447.3h0M265.8 453.0h0M254.5 443.6h0M264.1 444.4h0M260.6 458.0h0M258.0 454.3h0M263.7 463.4h0M248.6 458.4h0M263.0 463.4h0M250.3 458.3h0M269.0 456.2h0M268.8 451.2h0M261.6 444.3h0M252.4 446.8h0M266.6 457.7h0M266.6 458.3h0M264.5 459.8h0M259.0 445.3h0M257.0 439.3h0M253.6 444.0h0M257.8 451.2h0M265.8 458.6h0M255.5 451.6h0M256.7 460.8h0M259.8 439.4h0M253.2 454.9h0M248.0 458.0h0M266.0 457.5h0M250.8 445.8h0M263.3 449.1h0M258.3 458.6h0M257.6 462.9h0M253.6 458.3h0M260.1 446.1h0M251.3 446.8h0M262.7 463.3h0M268.4 449.5h0M258.2 450.0h0M256.9 461.0h0M263.3 464.0h0" stroke="#747474" stroke-width="1.0" stroke-linecap="round" fill="none"/>
<path d="M251.0 449.6h0M267.1 447.7h0M267.0 456.7h0M266.3 462.7h0M252.0 461.8h0M266.2 463.9h0M256.3 457.0h0M261.5 447.1h0M265.4 447.3h0M258.2 457.8h0M252.1 458.0h0M250.0 449.8h0M251.3 447.3h0M251.2 455.6h0M261.5 450.4h0M254.9 458.7h0M252.3 455.2h0M253.7 453.6h0M251.1 451.1h0M256.9 459.7h0M261.5 458.9h0M259.7 451.9h0M250.9 457.5h0M266.1 451.0h0M259.3 442.0h0M252.5 451.8h0M260.3 454.5h0M253.7 462.9h0M249.9 459.4h0M263.1 458.4h0M257.1 454.2h0M259.3 441.8h0M256.3 449.8h0M263.1 462.5h0M263.0 455.1h0M260.4 456.1h0M256.4 457.7h0M250.7 450.8h0M260.4 462.8h0M260.3 445.9h0M258.0 438.9h0M259.3 450.2h0M257.3 454.3h0M264.7 459.3h0M249.5 447.2h0M257.4 452.0h0M251.5 448.4h0M252.4 446.3h0M261.7 458.8h0M252.8 450.0h0M253.2 450.1h0M251.4 447.5h0M259.7 440.6h0M265.1 454.4h0M260.4 462.3h0M247.8 452.5h0M259.8 445.9h0M258.9 455.4h0M256.4 443.6h0M251.6 457.2h0M254.5 453.8h0M258.3 438.5h0M247.4 451.5h0M251.4 458.0h0M264.0 454.8h0M256.5 463.9h0M266.0 460.8h0M257.6 444.2h0M265.3 452.7h0M257.4 456.0h0M258.1 452.9h0M266.4 451.0h0" stroke="#5a5a5a" stroke-width="1.0" stroke-linecap="round" fill="none"/>
<path d="M257.6 446.3h0M254.9 447.4h0M266.3 452.1h0M263.7 454.2h0M263.0 452.6h0M267.5 453.9h0M262.2 444.3h0M259.4 447.4h0M265.1 464.4h0M249.3 454.0h0M253.8 450.9h0M267.1 454.7h0M257.3 454.4h0M251.2 453.5h0M253.8 447.9h0M255.9 455.0h0M260.7 462.0h0M258.9 463.6h0M264.5 464.2h0M266.6 460.5h0M263.1 460.4h0M259.4 440.7h0M254.0 460.0h0M265.4 453.1h0M252.6 459.5h0M252.7 453.6h0M252.9 458.2h0M260.0 440.3h0M265.5 463.9h0M249.3 458.1h0M255.2 447.3h0M261.0 462.5h0M257.2 448.7h0M253.9 448.8h0M252.1 445.8h0M257.2 463.5h0" stroke="#d8d8d8" stroke-width="1.0" stroke-linecap="round" fill="none"/>
<ellipse cx="294.15" cy="441.20" rx="5.86" ry="4.93" fill="#5a9ee0"/>
<path d="M295.5 438.4h0M295.3 439.7h0M297.9 439.0h0M290.5 442.8h0M294.1 440.4h0M294.0 442.9h0M290.7 442.5h0M290.4 441.5h0M294.6 446.2h0M289.7 441.2h0M288.5 440.9h0M289.6 438.6h0M298.6 442.8h0M298.0 440.0h0M300.3 441.2h0M294.4 436.7h0M296.3 445.3h0M290.9 444.2h0M291.3 441.3h0M294.9 446.4h0M298.8 444.3h0M297.8 444.8h0M294.2 444.0h0M288.4 441.2h0M291.4 445.3h0M295.8 439.5h0M298.0 443.0h0M298.9 441.1h0M295.8 444.8h0M296.8 442.2h0M294.0 440.3h0M297.7 439.0h0M293.4 436.9h0M288.7 443.7h0M295.5 442.6h0M289.1 443.4h0M295.6 444.5h0M296.9 442.2h0M289.8 442.8h0M297.7 439.7h0M296.3 438.5h0M290.8 444.3h0M295.8 442.3h0M294.1 444.1h0M294.7 437.1h0M297.0 439.7h0M296.0 437.4h0M293.3 443.7h0M290.1 438.3h0M299.9 440.6h0M293.4 444.4h0" stroke="#1a6cc0" stroke-width="1.0" stroke-linecap="round" fill="none"/>
<path d="M296.1 439.1h0M293.8 446.1h0M296.1 436.6h0M289.1 441.5h0M295.8 436.5h0M291.1 442.0h0M295.5 440.5h0M291.0 443.9h0M294.1 441.0h0M295.8 439.7h0M289.7 444.4h0M299.2 439.5h0M297.6 442.9h0M297.3 437.4h0M288.0 441.9h0M297.0 438.4h0M292.8 436.3h0" stroke="#1256a8" stroke-width="1.0" stroke-linecap="round" fill="none"/>
<ellipse cx="252.00" cy="469.40" rx="6.51" ry="1.86" fill="#80d4e0" transform="rotate(25 252.00 469.40)"/>
<path d="M247.9 466.8h0M251.5 467.2h0M254.4 470.9h0M254.6 471.8h0M249.0 468.4h0M252.2 470.6h0M249.1 467.4h0M252.7 471.8h0M251.2 470.6h0M247.3 467.3h0M247.1 466.6h0M253.6 470.2h0M251.1 467.2h0M249.8 470.2h0M255.6 470.3h0M247.6 468.6h0M252.1 470.8h0M257.3 472.0h0M254.1 469.6h0M250.7 470.4h0M254.2 469.9h0M252.1 471.1h0M254.3 468.9h0M246.4 466.9h0M247.9 468.5h0" stroke="#20a8b8" stroke-width="1.0" stroke-linecap="round" fill="none"/>
<ellipse cx="258.10" cy="482.50" rx="7.16" ry="0.84" fill="#f4dcc4"/>
<path d="M263.6 482.9h0M252.7 482.3h0M253.6 482.5h0M258.1 482.4h0M262.4 482.5h0M260.5 482.0h0M260.2 482.8h0M263.4 482.3h0M252.0 482.7h0M256.3 481.7h0" stroke="#e8b890" stroke-width="1.0" stroke-linecap="round" fill="none"/>
<ellipse cx="269.15" cy="479.60" rx="2.88" ry="1.67" fill="#b4e0a0"/>
<path d="M268.4 481.3h0M268.0 479.7h0M267.7 478.5h0M268.8 478.6h0M266.7 480.2h0M271.8 479.2h0M269.7 480.7h0M267.5 479.0h0" stroke="#60b040" stroke-width="1.0" stroke-linecap="round" fill="none"/>
<text x="0.3" y="9.7" font-size="12.6" text-anchor="start" fill="#000" font-weight="bold">A</text>
<text x="91" y="22.1" font-size="9.6" text-anchor="middle" fill="#231f20" font-weight="normal" textLength="35.8" lengthAdjust="spacingAndGlyphs">CAL-021</text>
<text x="100" y="33.6" font-size="7.2" text-anchor="middle" fill="#231f20" font-weight="normal" textLength="65.2" lengthAdjust="spacingAndGlyphs">Leukemia-containing</text>
<text x="100.4" y="41.4" font-size="7.2" text-anchor="middle" fill="#231f20" font-weight="normal" textLength="31.6" lengthAdjust="spacingAndGlyphs">mutations</text>
<line x1="77.7" y1="43.3" x2="123.1" y2="43.3" stroke="#231f20" stroke-width="0.8"/>
<line x1="48.5" y1="31" x2="48.5" y2="120" stroke="#141414" stroke-width="1"/>
<line x1="45" y1="119.5" x2="134" y2="119.5" stroke="#141414" stroke-width="1"/>
<line x1="45" y1="34.5" x2="48.5" y2="34.5" stroke="#141414" stroke-width="1"/>
<text x="41.9" y="37.25" font-size="8.5" text-anchor="end" fill="#231f20" font-weight="normal" textLength="7.3" lengthAdjust="spacingAndGlyphs">60</text>
<line x1="45" y1="62.83" x2="48.5" y2="62.83" stroke="#141414" stroke-width="1"/>
<text x="41.9" y="65.58" font-size="8.5" text-anchor="end" fill="#231f20" font-weight="normal" textLength="7.3" lengthAdjust="spacingAndGlyphs">40</text>
<line x1="45" y1="91.17" x2="48.5" y2="91.17" stroke="#141414" stroke-width="1"/>
<text x="41.9" y="93.92" font-size="8.5" text-anchor="end" fill="#231f20" font-weight="normal" textLength="7.3" lengthAdjust="spacingAndGlyphs">20</text>
<line x1="45" y1="119.5" x2="48.5" y2="119.5" stroke="#141414" stroke-width="1"/>
<text x="41.9" y="122.25" font-size="8.5" text-anchor="end" fill="#231f20" font-weight="normal">0</text>
<text x="15.9" y="75" font-size="7.6" text-anchor="middle" fill="#231f20" font-weight="normal" textLength="68.2" lengthAdjust="spacingAndGlyphs" transform="rotate(-90 15.9 75)" stroke="#231f20" stroke-width="0.08">Proportion of cells in</text>
<text x="27.7" y="75" font-size="7.6" text-anchor="middle" fill="#231f20" font-weight="normal" textLength="49" lengthAdjust="spacingAndGlyphs" transform="rotate(-90 27.7 75)" stroke="#231f20" stroke-width="0.08">population (%)</text>
<rect x="55.90" y="64.40" width="13.20" height="54.60" fill="#c60028"/>
<rect x="74.90" y="46.90" width="13.30" height="72.10" fill="#0b4a86"/>
<rect x="93.80" y="108.00" width="13.10" height="11.00" fill="#5a2064"/>
<rect x="112.60" y="118.30" width="13.40" height="0.70" fill="#b0b0b0"/>
<text x="62.5" y="59.6" font-size="7" text-anchor="middle" fill="#231f20" font-weight="normal" textLength="10.5" lengthAdjust="spacingAndGlyphs">WT</text>
<rect x="57.10" y="140.40" width="11.80" height="41.50" fill="#9ccdee"/>
<rect x="75.40" y="140.40" width="11.70" height="25.40" fill="#2ca6dc"/>
<rect x="75.40" y="165.80" width="11.70" height="16.10" fill="#9ccdee"/>
<rect x="94.20" y="140.40" width="11.70" height="33.40" fill="#2ca6dc"/>
<rect x="94.20" y="173.80" width="11.70" height="8.10" fill="#9ccdee"/>
<rect x="113.00" y="140.40" width="11.80" height="25.40" fill="#2ca6dc"/>
<rect x="113.00" y="165.80" width="11.80" height="8.00" fill="#9ccdee"/>
<rect x="113.00" y="173.80" width="11.80" height="8.10" fill="#2ca6dc"/>
<text x="54.0" y="146.0" font-size="7.1" text-anchor="end" fill="#231f20" font-weight="normal">DNMT3A Y735C</text>
<text x="54.0" y="154.9" font-size="7.1" text-anchor="end" fill="#231f20" font-weight="normal">DNMT3A R729Q</text>
<text x="54.0" y="163.8" font-size="7.1" text-anchor="end" fill="#231f20" font-weight="normal">IDH1 R132C</text>
<text x="54.0" y="172.6" font-size="7.1" text-anchor="end" fill="#231f20" font-weight="normal">BAX R94Pfs*5</text>
<text x="54.0" y="181.7" font-size="7.1" text-anchor="end" fill="#231f20" font-weight="normal">BAX c.233+2del</text>
<rect x="137.20" y="156.30" width="11.50" height="8.85" fill="#9ccdee"/>
<text x="152.3" y="163.4" font-size="7.4" text-anchor="start" fill="#231f20" font-weight="normal">WT</text>
<rect x="137.20" y="165.10" width="11.50" height="8.85" fill="#2ca6dc"/>
<text x="152.3" y="171.7" font-size="7.4" text-anchor="start" fill="#231f20" font-weight="normal">HET</text>
<rect x="137.20" y="173.90" width="11.50" height="8.85" fill="#10468a"/>
<text x="152.3" y="180.0" font-size="7.4" text-anchor="start" fill="#231f20" font-weight="normal">HOM</text>
<text x="0.3" y="257.8" font-size="12.6" text-anchor="start" fill="#000" font-weight="bold">C</text>
<line x1="43.5" y1="262" x2="43.5" y2="362" stroke="#141414" stroke-width="1"/>
<line x1="40" y1="361.5" x2="350" y2="361.5" stroke="#141414" stroke-width="1"/>
<line x1="40" y1="361.5" x2="43.5" y2="361.5" stroke="#141414" stroke-width="1"/>
<text x="36.9" y="364.25" font-size="8.5" text-anchor="end" fill="#231f20" font-weight="normal">0</text>
<line x1="40" y1="342.3" x2="43.5" y2="342.3" stroke="#141414" stroke-width="1"/>
<text x="36.9" y="345.05" font-size="8.5" text-anchor="end" fill="#231f20" font-weight="normal" textLength="7.3" lengthAdjust="spacingAndGlyphs">20</text>
<line x1="40" y1="323.1" x2="43.5" y2="323.1" stroke="#141414" stroke-width="1"/>
<text x="36.9" y="325.85" font-size="8.5" text-anchor="end" fill="#231f20" font-weight="normal" textLength="7.3" lengthAdjust="spacingAndGlyphs">40</text>
<line x1="40" y1="303.9" x2="43.5" y2="303.9" stroke="#141414" stroke-width="1"/>
<text x="36.9" y="306.65" font-size="8.5" text-anchor="end" fill="#231f20" font-weight="normal" textLength="7.3" lengthAdjust="spacingAndGlyphs">60</text>
<line x1="40" y1="284.7" x2="43.5" y2="284.7" stroke="#141414" stroke-width="1"/>
<text x="36.9" y="287.45" font-size="8.5" text-anchor="end" fill="#231f20" font-weight="normal" textLength="7.3" lengthAdjust="spacingAndGlyphs">80</text>
<line x1="40" y1="265.5" x2="43.5" y2="265.5" stroke="#141414" stroke-width="1"/>
<text x="36.9" y="268.25" font-size="8.5" text-anchor="end" fill="#231f20" font-weight="normal" textLength="10.95" lengthAdjust="spacingAndGlyphs">100</text>
<text x="6.9" y="315.9" font-size="7.8" text-anchor="middle" fill="#231f20" font-weight="normal" textLength="78.3" lengthAdjust="spacingAndGlyphs" transform="rotate(-90 6.9 315.9)" stroke="#231f20" stroke-width="0.08">Proportion of clones in</text>
<text x="18.7" y="312.7" font-size="7.8" text-anchor="middle" fill="#231f20" font-weight="normal" textLength="48.5" lengthAdjust="spacingAndGlyphs" transform="rotate(-90 18.7 312.7)" stroke="#231f20" stroke-width="0.08">population (%)</text>
<line x1="118.75" y1="265" x2="118.75" y2="361" stroke="#111" stroke-width="1" stroke-dasharray="1 1"/>
<line x1="198.25" y1="265" x2="198.25" y2="361" stroke="#111" stroke-width="1" stroke-dasharray="1 1"/>
<line x1="275" y1="265" x2="275" y2="361" stroke="#111" stroke-width="1" stroke-dasharray="1 1"/>
<rect x="48.25" y="272.00" width="11.25" height="89.00" fill="#c60028"/>
<rect x="64.65" y="357.50" width="11.25" height="3.50" fill="#0b4a86"/>
<rect x="127.00" y="348.25" width="11.25" height="12.75" fill="#c60028"/>
<rect x="143.40" y="282.50" width="11.25" height="78.50" fill="#0b4a86"/>
<rect x="159.80" y="359.70" width="11.25" height="1.30" fill="#5a2064"/>
<rect x="205.75" y="358.75" width="11.25" height="2.25" fill="#c60028"/>
<rect x="222.15" y="285.75" width="11.25" height="75.25" fill="#0b4a86"/>
<rect x="238.55" y="348.25" width="11.25" height="12.75" fill="#5a2064"/>
<rect x="301.40" y="292.50" width="11.25" height="68.50" fill="#0b4a86"/>
<rect x="317.80" y="339.25" width="11.25" height="21.75" fill="#5a2064"/>
<rect x="334.20" y="359.25" width="11.25" height="1.75" fill="#e4087e"/>
<text x="88.5" y="275.1" font-size="7.25" text-anchor="middle" fill="#231f20" font-weight="normal">T lymphocytes</text>
<text x="157.5" y="275.1" font-size="7.25" text-anchor="middle" fill="#231f20" font-weight="normal">NK cells</text>
<text x="236.5" y="275.1" font-size="7.25" text-anchor="middle" fill="#231f20" font-weight="normal">Myeloid</text>
<text x="315.25" y="275.1" font-size="7.25" text-anchor="middle" fill="#231f20" font-weight="normal">Monocytic</text>
<text x="354.0" y="275.3" font-size="7.3" text-anchor="start" fill="#c60028" font-weight="normal">WT</text>
<text x="354.0" y="284.85" font-size="7.3" text-anchor="start" fill="#0b4a86" font-weight="normal" textLength="81.6" lengthAdjust="spacingAndGlyphs">DNMT3A/DNMT3A/IDH1</text>
<text x="354.0" y="294.40000000000003" font-size="7.3" text-anchor="start" fill="#5a2064" font-weight="normal" textLength="128.4" lengthAdjust="spacingAndGlyphs">DNMT3A/DNMT3A/IDH1/BAX R94Pfs*5</text>
<text x="354.0" y="303.95" font-size="7.3" text-anchor="start" fill="#e4087e" font-weight="normal" textLength="118.6" lengthAdjust="spacingAndGlyphs">DNMT3A/DNMT3A/IDH1/BAX Splice</text>
<text x="0.3" y="392.0" font-size="12.6" text-anchor="start" fill="#000" font-weight="bold">D</text>
<text x="104.3" y="404.3" font-size="9.6" text-anchor="middle" fill="#231f20" font-weight="normal" textLength="37.2" lengthAdjust="spacingAndGlyphs">CAL-013</text>
<text x="112.5" y="416.2" font-size="7.2" text-anchor="middle" fill="#231f20" font-weight="normal" textLength="66" lengthAdjust="spacingAndGlyphs">Leukemia-containing</text>
<text x="112.2" y="424.4" font-size="7.2" text-anchor="middle" fill="#231f20" font-weight="normal" textLength="30.5" lengthAdjust="spacingAndGlyphs">mutations</text>
<line x1="85.5" y1="429.6" x2="140.2" y2="429.6" stroke="#231f20" stroke-width="0.8"/>
<line x1="58.5" y1="414" x2="58.5" y2="510" stroke="#141414" stroke-width="1"/>
<line x1="55" y1="509.5" x2="150.8" y2="509.5" stroke="#141414" stroke-width="1"/>
<line x1="55" y1="509.5" x2="58.5" y2="509.5" stroke="#141414" stroke-width="1"/>
<text x="51.9" y="512.25" font-size="8.5" text-anchor="end" fill="#231f20" font-weight="normal">0</text>
<line x1="55" y1="491.1" x2="58.5" y2="491.1" stroke="#141414" stroke-width="1"/>
<text x="51.9" y="493.85" font-size="8.5" text-anchor="end" fill="#231f20" font-weight="normal" textLength="7.3" lengthAdjust="spacingAndGlyphs">10</text>
<line x1="55" y1="472.7" x2="58.5" y2="472.7" stroke="#141414" stroke-width="1"/>
<text x="51.9" y="475.45" font-size="8.5" text-anchor="end" fill="#231f20" font-weight="normal" textLength="7.3" lengthAdjust="spacingAndGlyphs">20</text>
<line x1="55" y1="454.3" x2="58.5" y2="454.3" stroke="#141414" stroke-width="1"/>
<text x="51.9" y="457.05" font-size="8.5" text-anchor="end" fill="#231f20" font-weight="normal" textLength="7.3" lengthAdjust="spacingAndGlyphs">30</text>
<line x1="55" y1="435.9" x2="58.5" y2="435.9" stroke="#141414" stroke-width="1"/>
<text x="51.9" y="438.65" font-size="8.5" text-anchor="end" fill="#231f20" font-weight="normal" textLength="7.3" lengthAdjust="spacingAndGlyphs">40</text>
<line x1="55" y1="417.5" x2="58.5" y2="417.5" stroke="#141414" stroke-width="1"/>
<text x="51.9" y="420.25" font-size="8.5" text-anchor="end" fill="#231f20" font-weight="normal" textLength="7.3" lengthAdjust="spacingAndGlyphs">50</text>
<text x="25.2" y="461.3" font-size="7.6" text-anchor="middle" fill="#231f20" font-weight="normal" textLength="67.4" lengthAdjust="spacingAndGlyphs" transform="rotate(-90 25.2 461.3)" stroke="#231f20" stroke-width="0.08">Proportion of cells in</text>
<text x="37.5" y="461.9" font-size="7.6" text-anchor="middle" fill="#231f20" font-weight="normal" textLength="48.6" lengthAdjust="spacingAndGlyphs" transform="rotate(-90 37.5 461.9)" stroke="#231f20" stroke-width="0.08">population (%)</text>
<rect x="65.50" y="494.50" width="11.40" height="14.50" fill="#c60028"/>
<rect x="82.00" y="439.50" width="11.40" height="69.50" fill="#5a2064"/>
<rect x="98.75" y="464.50" width="11.40" height="44.50" fill="#086850"/>
<rect x="115.50" y="473.75" width="11.40" height="35.25" fill="#e4087e"/>
<rect x="132.20" y="494.50" width="11.40" height="14.50" fill="#0b4a86"/>
<text x="70.8" y="438.2" font-size="7" text-anchor="middle" fill="#231f20" font-weight="normal" textLength="10.5" lengthAdjust="spacingAndGlyphs">WT</text>
<rect x="64.90" y="524.00" width="12.80" height="46.80" fill="#9ccdee"/>
<rect x="81.40" y="524.00" width="12.70" height="36.90" fill="#2ca6dc"/>
<rect x="81.40" y="560.90" width="12.70" height="9.90" fill="#9ccdee"/>
<rect x="98.10" y="524.00" width="12.60" height="28.60" fill="#2ca6dc"/>
<rect x="98.10" y="552.60" width="12.60" height="18.20" fill="#9ccdee"/>
<rect x="115.00" y="524.00" width="12.50" height="46.80" fill="#2ca6dc"/>
<rect x="131.60" y="524.00" width="12.60" height="10.40" fill="#2ca6dc"/>
<rect x="131.60" y="534.40" width="12.60" height="36.40" fill="#9ccdee"/>
<text x="62.2" y="530.7" font-size="7.1" text-anchor="end" fill="#231f20" font-weight="normal">TET2 R1516*</text>
<text x="62.2" y="540.3" font-size="7.1" text-anchor="end" fill="#231f20" font-weight="normal">TET2 Q1369R</text>
<text x="62.2" y="549.2" font-size="7.1" text-anchor="end" fill="#231f20" font-weight="normal">BAX E41Gfs*33</text>
<text x="62.2" y="558.7" font-size="7.1" text-anchor="end" fill="#231f20" font-weight="normal">NPM1 W288Cfs*12</text>
<text x="62.2" y="567.5" font-size="7.1" text-anchor="end" fill="#231f20" font-weight="normal">FLT3 Y559C</text>
<rect x="155.80" y="546.10" width="10.50" height="8.55" fill="#9ccdee"/>
<text x="169.6" y="552.2" font-size="7.4" text-anchor="start" fill="#231f20" font-weight="normal">WT</text>
<rect x="155.80" y="554.60" width="10.50" height="8.55" fill="#2ca6dc"/>
<text x="169.6" y="560.8000000000001" font-size="7.4" text-anchor="start" fill="#231f20" font-weight="normal">HET</text>
<rect x="155.80" y="563.10" width="10.50" height="8.55" fill="#10468a"/>
<text x="169.6" y="569.4" font-size="7.4" text-anchor="start" fill="#231f20" font-weight="normal">HOM</text>
<text x="0.3" y="631.8000000000001" font-size="12.6" text-anchor="start" fill="#000" font-weight="bold">F</text>
<line x1="43.5" y1="636" x2="43.5" y2="721.4" stroke="#141414" stroke-width="1"/>
<line x1="40" y1="720.8" x2="420" y2="720.8" stroke="#141414" stroke-width="1.2"/>
<line x1="40" y1="720.8" x2="43.5" y2="720.8" stroke="#141414" stroke-width="1"/>
<text x="36.9" y="723.55" font-size="8.5" text-anchor="end" fill="#231f20" font-weight="normal">0</text>
<line x1="40" y1="704.54" x2="43.5" y2="704.54" stroke="#141414" stroke-width="1"/>
<text x="36.9" y="707.29" font-size="8.5" text-anchor="end" fill="#231f20" font-weight="normal" textLength="7.3" lengthAdjust="spacingAndGlyphs">20</text>
<line x1="40" y1="688.28" x2="43.5" y2="688.28" stroke="#141414" stroke-width="1"/>
<text x="36.9" y="691.03" font-size="8.5" text-anchor="end" fill="#231f20" font-weight="normal" textLength="7.3" lengthAdjust="spacingAndGlyphs">40</text>
<line x1="40" y1="672.02" x2="43.5" y2="672.02" stroke="#141414" stroke-width="1"/>
<text x="36.9" y="674.77" font-size="8.5" text-anchor="end" fill="#231f20" font-weight="normal" textLength="7.3" lengthAdjust="spacingAndGlyphs">60</text>
<line x1="40" y1="655.76" x2="43.5" y2="655.76" stroke="#141414" stroke-width="1"/>
<text x="36.9" y="658.51" font-size="8.5" text-anchor="end" fill="#231f20" font-weight="normal" textLength="7.3" lengthAdjust="spacingAndGlyphs">80</text>
<line x1="40" y1="639.5" x2="43.5" y2="639.5" stroke="#141414" stroke-width="1"/>
<text x="36.9" y="642.25" font-size="8.5" text-anchor="end" fill="#231f20" font-weight="normal" textLength="10.95" lengthAdjust="spacingAndGlyphs">100</text>
<text x="9.3" y="682.6" font-size="7.8" text-anchor="middle" fill="#231f20" font-weight="normal" textLength="79.8" lengthAdjust="spacingAndGlyphs" transform="rotate(-90 9.3 682.6)" stroke="#231f20" stroke-width="0.08">Proportion of clones in</text>
<text x="18.6" y="679.6" font-size="7.8" text-anchor="middle" fill="#231f20" font-weight="normal" textLength="50.3" lengthAdjust="spacingAndGlyphs" transform="rotate(-90 18.6 679.6)" stroke="#231f20" stroke-width="0.08">population (%)</text>
<line x1="104.5" y1="640" x2="104.5" y2="720" stroke="#111" stroke-width="1" stroke-dasharray="1 1"/>
<line x1="168.0" y1="640" x2="168.0" y2="720" stroke="#111" stroke-width="1" stroke-dasharray="1 1"/>
<line x1="232.0" y1="640" x2="232.0" y2="720" stroke="#111" stroke-width="1" stroke-dasharray="1 1"/>
<line x1="295.5" y1="640" x2="295.5" y2="720" stroke="#111" stroke-width="1" stroke-dasharray="1 1"/>
<line x1="359.5" y1="640" x2="359.5" y2="720" stroke="#111" stroke-width="1" stroke-dasharray="1 1"/>
<rect x="47.00" y="663.75" width="7.60" height="56.45" fill="#c60028"/>
<rect x="58.10" y="714.00" width="7.60" height="6.20" fill="#0b4a86"/>
<rect x="69.20" y="712.00" width="7.60" height="8.20" fill="#086850"/>
<rect x="80.30" y="716.25" width="7.60" height="3.95" fill="#5a2064"/>
<rect x="91.40" y="718.90" width="7.60" height="1.30" fill="#e4087e"/>
<rect x="110.20" y="673.25" width="7.60" height="46.95" fill="#c60028"/>
<rect x="121.30" y="710.00" width="7.60" height="10.20" fill="#0b4a86"/>
<rect x="132.40" y="707.50" width="7.60" height="12.70" fill="#086850"/>
<rect x="143.50" y="716.25" width="7.60" height="3.95" fill="#5a2064"/>
<rect x="154.60" y="718.90" width="7.60" height="1.30" fill="#e4087e"/>
<rect x="185.10" y="715.75" width="7.60" height="4.45" fill="#0b4a86"/>
<rect x="196.20" y="654.50" width="7.60" height="65.70" fill="#086850"/>
<rect x="207.30" y="715.75" width="7.60" height="4.45" fill="#5a2064"/>
<rect x="218.40" y="718.25" width="7.60" height="1.95" fill="#e4087e"/>
<rect x="248.70" y="692.50" width="7.60" height="27.70" fill="#0b4a86"/>
<rect x="259.80" y="678.25" width="7.60" height="41.95" fill="#086850"/>
<rect x="270.90" y="715.00" width="7.60" height="5.20" fill="#5a2064"/>
<rect x="282.00" y="718.75" width="7.60" height="1.45" fill="#e4087e"/>
<rect x="301.20" y="718.90" width="7.60" height="1.30" fill="#c60028"/>
<rect x="312.30" y="718.90" width="7.60" height="1.30" fill="#0b4a86"/>
<rect x="323.40" y="704.50" width="7.60" height="15.70" fill="#086850"/>
<rect x="334.50" y="671.75" width="7.60" height="48.45" fill="#5a2064"/>
<rect x="345.60" y="709.50" width="7.60" height="10.70" fill="#e4087e"/>
<rect x="376.10" y="718.90" width="7.60" height="1.30" fill="#0b4a86"/>
<rect x="387.20" y="711.00" width="7.60" height="9.20" fill="#086850"/>
<rect x="398.30" y="688.75" width="7.60" height="31.45" fill="#5a2064"/>
<rect x="409.40" y="685.50" width="7.60" height="34.70" fill="#e4087e"/>
<text x="73.75" y="648.4" font-size="7.25" text-anchor="middle" fill="#231f20" font-weight="normal">T lymphocytes</text>
<text x="135.9" y="648.4" font-size="7.25" text-anchor="middle" fill="#231f20" font-weight="normal">B lymphocytes</text>
<text x="199.4" y="648.4" font-size="7.25" text-anchor="middle" fill="#231f20" font-weight="normal">NK cells</text>
<text x="263.75" y="648.4" font-size="7.25" text-anchor="middle" fill="#231f20" font-weight="normal">Dendritic cells</text>
<text x="327.25" y="648.4" font-size="7.25" text-anchor="middle" fill="#231f20" font-weight="normal">Myeloid</text>
<text x="391.0" y="648.4" font-size="7.25" text-anchor="middle" fill="#231f20" font-weight="normal">Monocytic</text>
<text x="423.8" y="646.4" font-size="7.3" text-anchor="start" fill="#c60028" font-weight="normal">WT</text>
<text x="423.8" y="656.1999999999999" font-size="7.3" text-anchor="start" fill="#0b4a86" font-weight="normal" textLength="40.8" lengthAdjust="spacingAndGlyphs">TET2 R1516*</text>
<text x="423.8" y="666.0" font-size="7.3" text-anchor="start" fill="#086850" font-weight="normal" textLength="51.5" lengthAdjust="spacingAndGlyphs">TET2/TET2/BAX</text>
<text x="423.8" y="675.8" font-size="7.3" text-anchor="start" fill="#5a2064" font-weight="normal" textLength="74.2" lengthAdjust="spacingAndGlyphs">TET2/TET2/BAX/NPM1</text>
<text x="423.8" y="685.6" font-size="7.3" text-anchor="start" fill="#e4087e" font-weight="normal" textLength="91.6" lengthAdjust="spacingAndGlyphs">TET2/TET2/BAX/NPM1/FLT3</text>
<text x="186.5" y="9.899999999999999" font-size="12.6" text-anchor="start" fill="#000" font-weight="bold">B</text>
<line x1="203.6" y1="25" x2="203.6" y2="108.9" stroke="#141414" stroke-width="1.5"/>
<line x1="202.9" y1="108.2" x2="288" y2="108.2" stroke="#141414" stroke-width="1.5"/>
<line x1="200.1" y1="37.6" x2="203.6" y2="37.6" stroke="#141414" stroke-width="1.1"/>
<line x1="200.1" y1="56.1" x2="203.6" y2="56.1" stroke="#141414" stroke-width="1.1"/>
<line x1="200.1" y1="74.5" x2="203.6" y2="74.5" stroke="#141414" stroke-width="1.1"/>
<line x1="200.1" y1="92.9" x2="203.6" y2="92.9" stroke="#141414" stroke-width="1.1"/>
<line x1="209.5" y1="108.2" x2="209.5" y2="111.7" stroke="#141414" stroke-width="1.1"/>
<line x1="231.4" y1="108.2" x2="231.4" y2="111.7" stroke="#141414" stroke-width="1.1"/>
<line x1="253.6" y1="108.2" x2="253.6" y2="111.7" stroke="#141414" stroke-width="1.1"/>
<line x1="275.6" y1="108.2" x2="275.6" y2="111.7" stroke="#141414" stroke-width="1.1"/>
<text x="194.4" y="66" font-size="9.2" text-anchor="middle" fill="#231f20" font-weight="normal" textLength="26.1" lengthAdjust="spacingAndGlyphs" transform="rotate(-90 194.4 66)" stroke="#231f20" stroke-width="0.12">UMAP 2</text>
<line x1="323.6" y1="25" x2="323.6" y2="109.4" stroke="#141414" stroke-width="1.5"/>
<line x1="322.90000000000003" y1="108.7" x2="400.5" y2="108.7" stroke="#141414" stroke-width="1.5"/>
<text x="362.3" y="20.6" font-size="7" text-anchor="middle" fill="#231f20" font-weight="normal" textLength="51.2" lengthAdjust="spacingAndGlyphs">BAX:p R94Pfs*5</text>
<line x1="411.1" y1="25.8" x2="411.1" y2="109.9" stroke="#141414" stroke-width="1.5"/>
<line x1="410.40000000000003" y1="109.2" x2="488.3" y2="109.2" stroke="#141414" stroke-width="1.5"/>
<text x="450.2" y="20.7" font-size="7" text-anchor="middle" fill="#231f20" font-weight="normal" textLength="52" lengthAdjust="spacingAndGlyphs">BAX:c 233+2del</text>
<line x1="230.2" y1="134.5" x2="230.2" y2="218.0" stroke="#141414" stroke-width="1.5"/>
<line x1="229.5" y1="217.3" x2="307.6" y2="217.3" stroke="#141414" stroke-width="1.5"/>
<text x="269" y="129.1" font-size="7" text-anchor="middle" fill="#231f20" font-weight="normal" textLength="59" lengthAdjust="spacingAndGlyphs">DNMT3A:p Y735C</text>
<line x1="323.3" y1="133.4" x2="323.3" y2="217.7" stroke="#141414" stroke-width="1.5"/>
<line x1="322.6" y1="217.0" x2="399.7" y2="217.0" stroke="#141414" stroke-width="1.5"/>
<text x="362.3" y="128.9" font-size="7" text-anchor="middle" fill="#231f20" font-weight="normal" textLength="60.8" lengthAdjust="spacingAndGlyphs">DNMT3A:p R729Q</text>
<line x1="411.0" y1="133.4" x2="411.0" y2="217.7" stroke="#141414" stroke-width="1.5"/>
<line x1="410.3" y1="217.0" x2="488.5" y2="217.0" stroke="#141414" stroke-width="1.5"/>
<text x="450" y="128.9" font-size="7" text-anchor="middle" fill="#231f20" font-weight="normal" textLength="45.4" lengthAdjust="spacingAndGlyphs">IDH1:p R132C</text>
<text x="224.8" y="176" font-size="9.2" text-anchor="middle" fill="#231f20" font-weight="normal" textLength="26.1" lengthAdjust="spacingAndGlyphs" transform="rotate(-90 224.8 176)" stroke="#231f20" stroke-width="0.12">UMAP 2</text>
<text x="362" y="228.6" font-size="9.2" text-anchor="middle" fill="#231f20" font-weight="normal" textLength="26.4" lengthAdjust="spacingAndGlyphs" stroke="#231f20" stroke-width="0.12">UMAP 1</text>
<text x="203.8" y="392.3" font-size="12.6" text-anchor="start" fill="#000" font-weight="bold">E</text>
<line x1="220.8" y1="408.8" x2="220.8" y2="488.5" stroke="#141414" stroke-width="1.5"/>
<line x1="220.10000000000002" y1="487.8" x2="305" y2="487.8" stroke="#141414" stroke-width="1.5"/>
<line x1="217.3" y1="411" x2="220.8" y2="411" stroke="#141414" stroke-width="1.1"/>
<line x1="217.3" y1="427.5" x2="220.8" y2="427.5" stroke="#141414" stroke-width="1.1"/>
<line x1="217.3" y1="444" x2="220.8" y2="444" stroke="#141414" stroke-width="1.1"/>
<line x1="217.3" y1="460.4" x2="220.8" y2="460.4" stroke="#141414" stroke-width="1.1"/>
<line x1="217.3" y1="476.8" x2="220.8" y2="476.8" stroke="#141414" stroke-width="1.1"/>
<line x1="222" y1="487.8" x2="222" y2="491.3" stroke="#141414" stroke-width="1.1"/>
<line x1="239.9" y1="487.8" x2="239.9" y2="491.3" stroke="#141414" stroke-width="1.1"/>
<line x1="257.7" y1="487.8" x2="257.7" y2="491.3" stroke="#141414" stroke-width="1.1"/>
<line x1="275.7" y1="487.8" x2="275.7" y2="491.3" stroke="#141414" stroke-width="1.1"/>
<line x1="293.5" y1="487.8" x2="293.5" y2="491.3" stroke="#141414" stroke-width="1.1"/>
<text x="262.6" y="402.1" font-size="7" text-anchor="middle" fill="#231f20" font-weight="normal" textLength="26.2" lengthAdjust="spacingAndGlyphs">Myeloid</text>
<text x="212.1" y="447.9" font-size="9.2" text-anchor="middle" fill="#231f20" font-weight="normal" textLength="26.2" lengthAdjust="spacingAndGlyphs" transform="rotate(-90 212.1 447.9)" stroke="#231f20" stroke-width="0.12">UMAP 2</text>
<line x1="314.9" y1="411.4" x2="314.9" y2="488.7" stroke="#141414" stroke-width="1.5"/>
<line x1="314.2" y1="488.0" x2="388.3" y2="488.0" stroke="#141414" stroke-width="1.5"/>
<text x="351.4" y="402.5" font-size="7" text-anchor="middle" fill="#231f20" font-weight="normal" textLength="66.4" lengthAdjust="spacingAndGlyphs">NPM1:p W288Cfs*12</text>
<line x1="402.0" y1="412.3" x2="402.0" y2="489.7" stroke="#141414" stroke-width="1.5"/>
<line x1="401.3" y1="489.0" x2="476.0" y2="489.0" stroke="#141414" stroke-width="1.5"/>
<text x="438.7" y="402.5" font-size="7" text-anchor="middle" fill="#231f20" font-weight="normal" textLength="43.4" lengthAdjust="spacingAndGlyphs">FLT3:p Y599C</text>
<line x1="225.0" y1="514.3" x2="225.0" y2="591.7" stroke="#141414" stroke-width="1.5"/>
<line x1="224.3" y1="591.0" x2="298.2" y2="591.0" stroke="#141414" stroke-width="1.5"/>
<text x="262.4" y="509.5" font-size="7" text-anchor="middle" fill="#231f20" font-weight="normal" textLength="46.5" lengthAdjust="spacingAndGlyphs">TET2:p R1537*</text>
<line x1="315.3" y1="514.4" x2="315.3" y2="591.9000000000001" stroke="#141414" stroke-width="1.5"/>
<line x1="314.6" y1="591.2" x2="388.5" y2="591.2" stroke="#141414" stroke-width="1.5"/>
<text x="352.0" y="508.8" font-size="7" text-anchor="middle" fill="#231f20" font-weight="normal" textLength="50.3" lengthAdjust="spacingAndGlyphs">TET2:p Q1369R</text>
<line x1="402.2" y1="514.3" x2="402.2" y2="591.7" stroke="#141414" stroke-width="1.5"/>
<line x1="401.5" y1="591.0" x2="476.3" y2="591.0" stroke="#141414" stroke-width="1.5"/>
<text x="439.2" y="508.5" font-size="7" text-anchor="middle" fill="#231f20" font-weight="normal" textLength="56.1" lengthAdjust="spacingAndGlyphs">BAX:p E41Gfs*33</text>
<text x="219.0" y="552.9" font-size="9.2" text-anchor="middle" fill="#231f20" font-weight="normal" textLength="26.1" lengthAdjust="spacingAndGlyphs" transform="rotate(-90 219.0 552.9)" stroke="#231f20" stroke-width="0.12">UMAP 2</text>
<text x="351.6" y="601.8" font-size="9.2" text-anchor="middle" fill="#231f20" font-weight="normal" textLength="25.6" lengthAdjust="spacingAndGlyphs" stroke="#231f20" stroke-width="0.12">UMAP 1</text>
<rect x="499.2" y="29.4" width="5.8" height="84.6" fill="url(#vafg)" stroke="#555" stroke-width="0.6"/>
<text x="508" y="31.9" font-size="7" text-anchor="start" fill="#231f20" font-weight="normal">100</text>
<text x="508" y="74.19999999999999" font-size="7" text-anchor="start" fill="#231f20" font-weight="normal">50</text>
<text x="508" y="116.5" font-size="7" text-anchor="start" fill="#231f20" font-weight="normal">0</text>
<text x="505" y="20.8" font-size="7" text-anchor="middle" fill="#231f20" font-weight="normal">VAF</text>
<rect x="486.6" y="411.0" width="5.3" height="83.80000000000001" fill="url(#vafg)" stroke="#555" stroke-width="0.6"/>
<text x="495" y="413.5" font-size="7" text-anchor="start" fill="#231f20" font-weight="normal">100</text>
<text x="495" y="455.4" font-size="7" text-anchor="start" fill="#231f20" font-weight="normal">50</text>
<text x="495" y="497.3" font-size="7" text-anchor="start" fill="#231f20" font-weight="normal">0</text>
<text x="492.8" y="402.5" font-size="7" text-anchor="middle" fill="#231f20" font-weight="normal">VAF</text>
<text x="268.75" y="37.75" font-size="7" text-anchor="start" fill="#231f20" font-weight="normal" textLength="50" lengthAdjust="spacingAndGlyphs">CD16+ NK cells</text>
<text x="264.4" y="53.6" font-size="7" text-anchor="start" fill="#231f20" font-weight="normal" textLength="49.4" lengthAdjust="spacingAndGlyphs">CD16– NK cells</text>
<text x="277.9" y="68.6" font-size="7" text-anchor="start" fill="#231f20" font-weight="normal" textLength="25.7" lengthAdjust="spacingAndGlyphs">Myeloid</text>
<text x="206.7" y="68.1" font-size="7" text-anchor="start" fill="#231f20" font-weight="normal" textLength="18.1" lengthAdjust="spacingAndGlyphs">CD8+</text>
<text x="233.7" y="74.8" font-size="7" text-anchor="start" fill="#231f20" font-weight="normal" textLength="19.3" lengthAdjust="spacingAndGlyphs">T cells</text>
<text x="209.8" y="98.1" font-size="7" text-anchor="start" fill="#231f20" font-weight="normal" textLength="18.5" lengthAdjust="spacingAndGlyphs">CD4+</text>
<text x="286" y="97.8" font-size="7" text-anchor="start" fill="#231f20" font-weight="normal" textLength="31.1" lengthAdjust="spacingAndGlyphs">Monocyte</text>
<text x="275.6" y="433.0" font-size="7" text-anchor="start" fill="#231f20" font-weight="normal" textLength="28.6" lengthAdjust="spacingAndGlyphs">Dendritic</text>
<text x="273" y="457.0" font-size="7" text-anchor="start" fill="#231f20" font-weight="normal" textLength="31.7" lengthAdjust="spacingAndGlyphs">Monocyte</text>
<text x="260.8" y="473.4" font-size="7" text-anchor="start" fill="#231f20" font-weight="normal" textLength="20.1" lengthAdjust="spacingAndGlyphs">B cells</text>
<text x="238.8" y="483.8" font-size="7" text-anchor="start" fill="#231f20" font-weight="normal" textLength="10.6" lengthAdjust="spacingAndGlyphs">NK</text>
<text x="267.7" y="486.0" font-size="7" text-anchor="start" fill="#231f20" font-weight="normal" textLength="2.8" lengthAdjust="spacingAndGlyphs">T</text>
<text x="272.5" y="486.0" font-size="7" text-anchor="start" fill="#231f20" font-weight="normal" textLength="13.5" lengthAdjust="spacingAndGlyphs">cells</text>
</svg></body></html>
